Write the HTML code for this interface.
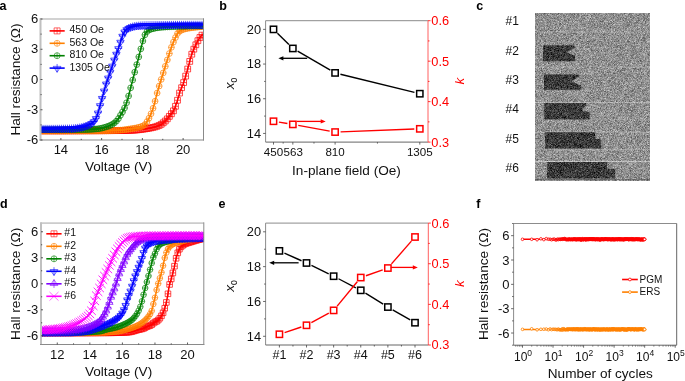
<!DOCTYPE html>
<html><head><meta charset="utf-8"><style>
html,body{margin:0;padding:0;background:#fff;width:685px;height:381px;overflow:hidden}
svg{display:block;filter:blur(0.35px)}
text{font-family:"Liberation Sans", sans-serif}
</style></head><body>
<svg width="685" height="381" viewBox="0 0 685 381" font-family='"Liberation Sans", sans-serif'>
<rect width="685" height="381" fill="#fff"/>
<text x="-0.5" y="9.7" font-size="12.5" text-anchor="start" fill="#000" font-weight="bold" font-style="normal" >a</text>
<defs><clipPath id="ca"><rect x="40.5" y="19.0" width="163" height="121"/></clipPath></defs>
<g clip-path="url(#ca)">
<path d="M38.1 127.9h5.8v5.8h-5.8zM41 127.9v5.8M38.1 130.8h5.8M40.14 127.9h5.8v5.8h-5.8zM43.04 127.9v5.8M40.14 130.8h5.8M42.18 127.9h5.8v5.8h-5.8zM45.08 127.9v5.8M42.18 130.8h5.8M44.21 127.9h5.8v5.8h-5.8zM47.11 127.9v5.8M44.21 130.8h5.8M46.25 127.9h5.8v5.8h-5.8zM49.15 127.9v5.8M46.25 130.8h5.8M48.29 127.9h5.8v5.8h-5.8zM51.19 127.9v5.8M48.29 130.8h5.8M50.33 127.9h5.8v5.8h-5.8zM53.23 127.9v5.8M50.33 130.8h5.8M52.36 127.9h5.8v5.8h-5.8zM55.26 127.9v5.8M52.36 130.8h5.8M54.4 127.89h5.8v5.8h-5.8zM57.3 127.89v5.8M54.4 130.79h5.8M56.44 127.89h5.8v5.8h-5.8zM59.34 127.89v5.8M56.44 130.79h5.8M58.48 127.89h5.8v5.8h-5.8zM61.38 127.89v5.8M58.48 130.79h5.8M60.51 127.89h5.8v5.8h-5.8zM63.41 127.89v5.8M60.51 130.79h5.8M62.55 127.89h5.8v5.8h-5.8zM65.45 127.89v5.8M62.55 130.79h5.8M64.59 127.88h5.8v5.8h-5.8zM67.49 127.88v5.8M64.59 130.78h5.8M66.63 127.88h5.8v5.8h-5.8zM69.53 127.88v5.8M66.63 130.78h5.8M68.66 127.88h5.8v5.8h-5.8zM71.56 127.88v5.8M68.66 130.78h5.8M70.7 127.87h5.8v5.8h-5.8zM73.6 127.87v5.8M70.7 130.77h5.8M72.74 127.87h5.8v5.8h-5.8zM75.64 127.87v5.8M72.74 130.77h5.8M74.78 127.86h5.8v5.8h-5.8zM77.68 127.86v5.8M74.78 130.76h5.8M76.81 127.86h5.8v5.8h-5.8zM79.71 127.86v5.8M76.81 130.76h5.8M78.85 127.85h5.8v5.8h-5.8zM81.75 127.85v5.8M78.85 130.75h5.8M80.89 127.85h5.8v5.8h-5.8zM83.79 127.85v5.8M80.89 130.75h5.8M82.93 127.84h5.8v5.8h-5.8zM85.83 127.84v5.8M82.93 130.74h5.8M84.96 127.84h5.8v5.8h-5.8zM87.86 127.84v5.8M84.96 130.74h5.8M87 127.83h5.8v5.8h-5.8zM89.9 127.83v5.8M87 130.73h5.8M89.04 127.83h5.8v5.8h-5.8zM91.94 127.83v5.8M89.04 130.73h5.8M91.08 127.82h5.8v5.8h-5.8zM93.98 127.82v5.8M91.08 130.72h5.8M93.11 127.81h5.8v5.8h-5.8zM96.01 127.81v5.8M93.11 130.71h5.8M95.15 127.8h5.8v5.8h-5.8zM98.05 127.8v5.8M95.15 130.7h5.8M97.19 127.8h5.8v5.8h-5.8zM100.09 127.8v5.8M97.19 130.7h5.8M99.23 127.79h5.8v5.8h-5.8zM102.13 127.79v5.8M99.23 130.69h5.8M101.26 127.78h5.8v5.8h-5.8zM104.16 127.78v5.8M101.26 130.68h5.8M103.3 127.77h5.8v5.8h-5.8zM106.2 127.77v5.8M103.3 130.67h5.8M105.34 127.76h5.8v5.8h-5.8zM108.24 127.76v5.8M105.34 130.66h5.8M107.38 127.75h5.8v5.8h-5.8zM110.28 127.75v5.8M107.38 130.65h5.8M109.41 127.74h5.8v5.8h-5.8zM112.31 127.74v5.8M109.41 130.64h5.8M111.45 127.73h5.8v5.8h-5.8zM114.35 127.73v5.8M111.45 130.63h5.8M113.49 127.72h5.8v5.8h-5.8zM116.39 127.72v5.8M113.49 130.62h5.8M115.53 127.71h5.8v5.8h-5.8zM118.43 127.71v5.8M115.53 130.61h5.8M117.56 127.7h5.8v5.8h-5.8zM120.46 127.7v5.8M117.56 130.6h5.8M119.6 127.67h5.8v5.8h-5.8zM122.5 127.67v5.8M119.6 130.57h5.8M121.64 127.63h5.8v5.8h-5.8zM124.54 127.63v5.8M121.64 130.53h5.8M123.68 127.57h5.8v5.8h-5.8zM126.58 127.57v5.8M123.68 130.47h5.8M125.71 127.5h5.8v5.8h-5.8zM128.61 127.5v5.8M125.71 130.4h5.8M127.75 127.41h5.8v5.8h-5.8zM130.65 127.41v5.8M127.75 130.31h5.8M129.79 127.32h5.8v5.8h-5.8zM132.69 127.32v5.8M129.79 130.22h5.8M131.83 127.2h5.8v5.8h-5.8zM134.73 127.2v5.8M131.83 130.1h5.8M133.86 127.03h5.8v5.8h-5.8zM136.76 127.03v5.8M133.86 129.93h5.8M135.9 126.81h5.8v5.8h-5.8zM138.8 126.81v5.8M135.9 129.71h5.8M137.94 126.56h5.8v5.8h-5.8zM140.84 126.56v5.8M137.94 129.46h5.8M139.98 126.3h5.8v5.8h-5.8zM142.88 126.3v5.8M139.98 129.2h5.8M142.01 126.02h5.8v5.8h-5.8zM144.91 126.02v5.8M142.01 128.92h5.8M144.05 125.71h5.8v5.8h-5.8zM146.95 125.71v5.8M144.05 128.61h5.8M146.09 125.35h5.8v5.8h-5.8zM148.99 125.35v5.8M146.09 128.25h5.8M148.13 124.96h5.8v5.8h-5.8zM151.03 124.96v5.8M148.13 127.86h5.8M150.16 124.5h5.8v5.8h-5.8zM153.06 124.5v5.8M150.16 127.4h5.8M152.2 123.99h5.8v5.8h-5.8zM155.1 123.99v5.8M152.2 126.89h5.8M154.24 123.35h5.8v5.8h-5.8zM157.14 123.35v5.8M154.24 126.25h5.8M156.28 122.55h5.8v5.8h-5.8zM159.18 122.55v5.8M156.28 125.45h5.8M158.31 121.43h5.8v5.8h-5.8zM161.21 121.43v5.8M158.31 124.33h5.8M160.35 119.9h5.8v5.8h-5.8zM163.25 119.9v5.8M160.35 122.8h5.8M162.39 118.11h5.8v5.8h-5.8zM165.29 118.11v5.8M162.39 121.01h5.8M164.43 115.97h5.8v5.8h-5.8zM167.33 115.97v5.8M164.43 118.87h5.8M166.46 113.46h5.8v5.8h-5.8zM169.36 113.46v5.8M166.46 116.36h5.8M168.5 110.89h5.8v5.8h-5.8zM171.4 110.89v5.8M168.5 113.79h5.8M170.54 107.93h5.8v5.8h-5.8zM173.44 107.93v5.8M170.54 110.83h5.8M172.58 103.41h5.8v5.8h-5.8zM175.48 103.41v5.8M172.58 106.31h5.8M174.61 97.37h5.8v5.8h-5.8zM177.51 97.37v5.8M174.61 100.27h5.8M176.65 90.16h5.8v5.8h-5.8zM179.55 90.16v5.8M176.65 93.06h5.8M178.69 84.82h5.8v5.8h-5.8zM181.59 84.82v5.8M178.69 87.72h5.8M180.73 79.68h5.8v5.8h-5.8zM183.63 79.68v5.8M180.73 82.58h5.8M182.76 73.22h5.8v5.8h-5.8zM185.66 73.22v5.8M182.76 76.12h5.8M184.8 66.12h5.8v5.8h-5.8zM187.7 66.12v5.8M184.8 69.02h5.8M186.84 58.5h5.8v5.8h-5.8zM189.74 58.5v5.8M186.84 61.4h5.8M188.88 51.31h5.8v5.8h-5.8zM191.78 51.31v5.8M188.88 54.21h5.8M190.91 46.29h5.8v5.8h-5.8zM193.81 46.29v5.8M190.91 49.19h5.8M192.95 41.87h5.8v5.8h-5.8zM195.85 41.87v5.8M192.95 44.77h5.8M194.99 37.79h5.8v5.8h-5.8zM197.89 37.79v5.8M194.99 40.69h5.8M197.03 34.56h5.8v5.8h-5.8zM199.93 34.56v5.8M197.03 37.46h5.8M199.06 32.23h5.8v5.8h-5.8zM201.96 32.23v5.8M199.06 35.13h5.8" fill="none" stroke="#ff0000" stroke-width="0.7" opacity="1"/>
<path d="M41 130.8 L42.02 130.8 L43.04 130.8 L44.07 130.8 L45.09 130.8 L46.11 130.8 L47.13 130.8 L48.15 130.8 L49.18 130.8 L50.2 130.8 L51.22 130.8 L52.24 130.8 L53.26 130.8 L54.29 130.8 L55.31 130.8 L56.33 130.79 L57.35 130.79 L58.37 130.79 L59.4 130.79 L60.42 130.79 L61.44 130.79 L62.46 130.79 L63.48 130.79 L64.51 130.79 L65.53 130.78 L66.55 130.78 L67.57 130.78 L68.59 130.78 L69.62 130.78 L70.64 130.78 L71.66 130.78 L72.68 130.77 L73.7 130.77 L74.73 130.77 L75.75 130.77 L76.77 130.77 L77.79 130.76 L78.81 130.76 L79.84 130.76 L80.86 130.76 L81.88 130.75 L82.9 130.75 L83.92 130.75 L84.95 130.75 L85.97 130.74 L86.99 130.74 L88.01 130.74 L89.03 130.74 L90.06 130.73 L91.08 130.73 L92.1 130.73 L93.12 130.72 L94.14 130.72 L95.17 130.72 L96.19 130.71 L97.21 130.71 L98.23 130.7 L99.25 130.7 L100.28 130.7 L101.3 130.69 L102.32 130.69 L103.34 130.68 L104.36 130.68 L105.39 130.67 L106.41 130.67 L107.43 130.67 L108.45 130.66 L109.47 130.66 L110.5 130.65 L111.52 130.65 L112.54 130.64 L113.56 130.64 L114.58 130.63 L115.61 130.62 L116.63 130.62 L117.65 130.61 L118.67 130.61 L119.69 130.6 L120.72 130.59 L121.74 130.58 L122.76 130.57 L123.78 130.55 L124.81 130.52 L125.83 130.49 L126.85 130.46 L127.87 130.42 L128.89 130.39 L129.92 130.34 L130.94 130.3 L131.96 130.25 L132.98 130.21 L134 130.15 L135.03 130.08 L136.05 129.99 L137.07 129.9 L138.09 129.79 L139.11 129.67 L140.14 129.55 L141.16 129.42 L142.18 129.29 L143.2 129.15 L144.22 129.02 L145.25 128.87 L146.27 128.72 L147.29 128.55 L148.31 128.38 L149.33 128.19 L150.36 127.99 L151.38 127.78 L152.4 127.56 L153.42 127.32 L154.44 127.06 L155.47 126.78 L156.49 126.47 L157.51 126.12 L158.53 125.72 L159.55 125.28 L160.58 124.73 L161.6 124.07 L162.62 123.31 L163.64 122.47 L164.66 121.58 L165.69 120.64 L166.71 119.57 L167.73 118.39 L168.75 117.13 L169.77 115.83 L170.8 114.55 L171.82 113.25 L172.84 111.79 L173.86 110.07 L174.88 107.85 L175.91 105.11 L176.93 102.06 L177.95 98.87 L178.97 95.15 L179.99 91.6 L181.02 88.97 L182.04 86.74 L183.06 84.2 L184.08 81.21 L185.1 77.96 L186.13 74.58 L187.15 71.02 L188.17 67.3 L189.19 63.53 L190.21 59.52 L191.24 55.82 L192.26 52.9 L193.28 50.39 L194.3 48.11 L195.32 45.89 L196.35 43.72 L197.37 41.67 L198.39 39.8 L199.41 38.17 L200.43 36.81 L201.46 35.64 L202.48 34.63 L203.5 33.8" fill="none" stroke="#ff0000" stroke-width="1.5"/>
<path d="M38.1 131.1a2.9 2.9 0 1 0 5.8 0a2.9 2.9 0 1 0 -5.8 0M41 128.2v5.8M38.1 131.1h5.8M40.14 131.1a2.9 2.9 0 1 0 5.8 0a2.9 2.9 0 1 0 -5.8 0M43.04 128.2v5.8M40.14 131.1h5.8M42.18 131.1a2.9 2.9 0 1 0 5.8 0a2.9 2.9 0 1 0 -5.8 0M45.08 128.2v5.8M42.18 131.1h5.8M44.21 131.1a2.9 2.9 0 1 0 5.8 0a2.9 2.9 0 1 0 -5.8 0M47.11 128.2v5.8M44.21 131.1h5.8M46.25 131.1a2.9 2.9 0 1 0 5.8 0a2.9 2.9 0 1 0 -5.8 0M49.15 128.2v5.8M46.25 131.1h5.8M48.29 131.09a2.9 2.9 0 1 0 5.8 0a2.9 2.9 0 1 0 -5.8 0M51.19 128.19v5.8M48.29 131.09h5.8M50.33 131.09a2.9 2.9 0 1 0 5.8 0a2.9 2.9 0 1 0 -5.8 0M53.23 128.19v5.8M50.33 131.09h5.8M52.36 131.09a2.9 2.9 0 1 0 5.8 0a2.9 2.9 0 1 0 -5.8 0M55.26 128.19v5.8M52.36 131.09h5.8M54.4 131.09a2.9 2.9 0 1 0 5.8 0a2.9 2.9 0 1 0 -5.8 0M57.3 128.19v5.8M54.4 131.09h5.8M56.44 131.08a2.9 2.9 0 1 0 5.8 0a2.9 2.9 0 1 0 -5.8 0M59.34 128.18v5.8M56.44 131.08h5.8M58.48 131.08a2.9 2.9 0 1 0 5.8 0a2.9 2.9 0 1 0 -5.8 0M61.38 128.18v5.8M58.48 131.08h5.8M60.51 131.07a2.9 2.9 0 1 0 5.8 0a2.9 2.9 0 1 0 -5.8 0M63.41 128.17v5.8M60.51 131.07h5.8M62.55 131.07a2.9 2.9 0 1 0 5.8 0a2.9 2.9 0 1 0 -5.8 0M65.45 128.17v5.8M62.55 131.07h5.8M64.59 131.06a2.9 2.9 0 1 0 5.8 0a2.9 2.9 0 1 0 -5.8 0M67.49 128.16v5.8M64.59 131.06h5.8M66.63 131.06a2.9 2.9 0 1 0 5.8 0a2.9 2.9 0 1 0 -5.8 0M69.53 128.16v5.8M66.63 131.06h5.8M68.66 131.05a2.9 2.9 0 1 0 5.8 0a2.9 2.9 0 1 0 -5.8 0M71.56 128.15v5.8M68.66 131.05h5.8M70.7 131.04a2.9 2.9 0 1 0 5.8 0a2.9 2.9 0 1 0 -5.8 0M73.6 128.14v5.8M70.7 131.04h5.8M72.74 131.03a2.9 2.9 0 1 0 5.8 0a2.9 2.9 0 1 0 -5.8 0M75.64 128.13v5.8M72.74 131.03h5.8M74.78 131.03a2.9 2.9 0 1 0 5.8 0a2.9 2.9 0 1 0 -5.8 0M77.68 128.13v5.8M74.78 131.03h5.8M76.81 131.02a2.9 2.9 0 1 0 5.8 0a2.9 2.9 0 1 0 -5.8 0M79.71 128.12v5.8M76.81 131.02h5.8M78.85 131.01a2.9 2.9 0 1 0 5.8 0a2.9 2.9 0 1 0 -5.8 0M81.75 128.11v5.8M78.85 131.01h5.8M80.89 131a2.9 2.9 0 1 0 5.8 0a2.9 2.9 0 1 0 -5.8 0M83.79 128.1v5.8M80.89 131h5.8M82.93 130.99a2.9 2.9 0 1 0 5.8 0a2.9 2.9 0 1 0 -5.8 0M85.83 128.09v5.8M82.93 130.99h5.8M84.96 130.98a2.9 2.9 0 1 0 5.8 0a2.9 2.9 0 1 0 -5.8 0M87.86 128.08v5.8M84.96 130.98h5.8M87 130.97a2.9 2.9 0 1 0 5.8 0a2.9 2.9 0 1 0 -5.8 0M89.9 128.07v5.8M87 130.97h5.8M89.04 130.95a2.9 2.9 0 1 0 5.8 0a2.9 2.9 0 1 0 -5.8 0M91.94 128.05v5.8M89.04 130.95h5.8M91.08 130.94a2.9 2.9 0 1 0 5.8 0a2.9 2.9 0 1 0 -5.8 0M93.98 128.04v5.8M91.08 130.94h5.8M93.11 130.93a2.9 2.9 0 1 0 5.8 0a2.9 2.9 0 1 0 -5.8 0M96.01 128.03v5.8M93.11 130.93h5.8M95.15 130.91a2.9 2.9 0 1 0 5.8 0a2.9 2.9 0 1 0 -5.8 0M98.05 128.01v5.8M95.15 130.91h5.8M97.19 130.9a2.9 2.9 0 1 0 5.8 0a2.9 2.9 0 1 0 -5.8 0M100.09 128v5.8M97.19 130.9h5.8M99.23 130.88a2.9 2.9 0 1 0 5.8 0a2.9 2.9 0 1 0 -5.8 0M102.13 127.98v5.8M99.23 130.88h5.8M101.26 130.84a2.9 2.9 0 1 0 5.8 0a2.9 2.9 0 1 0 -5.8 0M104.16 127.94v5.8M101.26 130.84h5.8M103.3 130.8a2.9 2.9 0 1 0 5.8 0a2.9 2.9 0 1 0 -5.8 0M106.2 127.9v5.8M103.3 130.8h5.8M105.34 130.74a2.9 2.9 0 1 0 5.8 0a2.9 2.9 0 1 0 -5.8 0M108.24 127.84v5.8M105.34 130.74h5.8M107.38 130.67a2.9 2.9 0 1 0 5.8 0a2.9 2.9 0 1 0 -5.8 0M110.28 127.77v5.8M107.38 130.67h5.8M109.41 130.59a2.9 2.9 0 1 0 5.8 0a2.9 2.9 0 1 0 -5.8 0M112.31 127.69v5.8M109.41 130.59h5.8M111.45 130.5a2.9 2.9 0 1 0 5.8 0a2.9 2.9 0 1 0 -5.8 0M114.35 127.6v5.8M111.45 130.5h5.8M113.49 130.4a2.9 2.9 0 1 0 5.8 0a2.9 2.9 0 1 0 -5.8 0M116.39 127.5v5.8M113.49 130.4h5.8M115.53 130.29a2.9 2.9 0 1 0 5.8 0a2.9 2.9 0 1 0 -5.8 0M118.43 127.39v5.8M115.53 130.29h5.8M117.56 130.17a2.9 2.9 0 1 0 5.8 0a2.9 2.9 0 1 0 -5.8 0M120.46 127.27v5.8M117.56 130.17h5.8M119.6 129.98a2.9 2.9 0 1 0 5.8 0a2.9 2.9 0 1 0 -5.8 0M122.5 127.08v5.8M119.6 129.98h5.8M121.64 129.72a2.9 2.9 0 1 0 5.8 0a2.9 2.9 0 1 0 -5.8 0M124.54 126.82v5.8M121.64 129.72h5.8M123.68 129.42a2.9 2.9 0 1 0 5.8 0a2.9 2.9 0 1 0 -5.8 0M126.58 126.52v5.8M123.68 129.42h5.8M125.71 129.1a2.9 2.9 0 1 0 5.8 0a2.9 2.9 0 1 0 -5.8 0M128.61 126.2v5.8M125.71 129.1h5.8M127.75 128.81a2.9 2.9 0 1 0 5.8 0a2.9 2.9 0 1 0 -5.8 0M130.65 125.91v5.8M127.75 128.81h5.8M129.79 128.52a2.9 2.9 0 1 0 5.8 0a2.9 2.9 0 1 0 -5.8 0M132.69 125.62v5.8M129.79 128.52h5.8M131.83 128.19a2.9 2.9 0 1 0 5.8 0a2.9 2.9 0 1 0 -5.8 0M134.73 125.29v5.8M131.83 128.19h5.8M133.86 127.79a2.9 2.9 0 1 0 5.8 0a2.9 2.9 0 1 0 -5.8 0M136.76 124.89v5.8M133.86 127.79h5.8M135.9 127.31a2.9 2.9 0 1 0 5.8 0a2.9 2.9 0 1 0 -5.8 0M138.8 124.41v5.8M135.9 127.31h5.8M137.94 126.72a2.9 2.9 0 1 0 5.8 0a2.9 2.9 0 1 0 -5.8 0M140.84 123.82v5.8M137.94 126.72h5.8M139.98 125.96a2.9 2.9 0 1 0 5.8 0a2.9 2.9 0 1 0 -5.8 0M142.88 123.06v5.8M139.98 125.96h5.8M142.01 124.72a2.9 2.9 0 1 0 5.8 0a2.9 2.9 0 1 0 -5.8 0M144.91 121.82v5.8M142.01 124.72h5.8M144.05 121.78a2.9 2.9 0 1 0 5.8 0a2.9 2.9 0 1 0 -5.8 0M146.95 118.88v5.8M144.05 121.78h5.8M146.09 118.19a2.9 2.9 0 1 0 5.8 0a2.9 2.9 0 1 0 -5.8 0M148.99 115.29v5.8M146.09 118.19h5.8M148.13 113.77a2.9 2.9 0 1 0 5.8 0a2.9 2.9 0 1 0 -5.8 0M151.03 110.87v5.8M148.13 113.77h5.8M150.16 108.27a2.9 2.9 0 1 0 5.8 0a2.9 2.9 0 1 0 -5.8 0M153.06 105.37v5.8M150.16 108.27h5.8M152.2 101.18a2.9 2.9 0 1 0 5.8 0a2.9 2.9 0 1 0 -5.8 0M155.1 98.28v5.8M152.2 101.18h5.8M154.24 93.04a2.9 2.9 0 1 0 5.8 0a2.9 2.9 0 1 0 -5.8 0M157.14 90.14v5.8M154.24 93.04h5.8M156.28 86.08a2.9 2.9 0 1 0 5.8 0a2.9 2.9 0 1 0 -5.8 0M159.18 83.18v5.8M156.28 86.08h5.8M158.31 79.44a2.9 2.9 0 1 0 5.8 0a2.9 2.9 0 1 0 -5.8 0M161.21 76.54v5.8M158.31 79.44h5.8M160.35 72.9a2.9 2.9 0 1 0 5.8 0a2.9 2.9 0 1 0 -5.8 0M163.25 70v5.8M160.35 72.9h5.8M162.39 66.31a2.9 2.9 0 1 0 5.8 0a2.9 2.9 0 1 0 -5.8 0M165.29 63.41v5.8M162.39 66.31h5.8M164.43 59.89a2.9 2.9 0 1 0 5.8 0a2.9 2.9 0 1 0 -5.8 0M167.33 56.99v5.8M164.43 59.89h5.8M166.46 53.54a2.9 2.9 0 1 0 5.8 0a2.9 2.9 0 1 0 -5.8 0M169.36 50.64v5.8M166.46 53.54h5.8M168.5 47.35a2.9 2.9 0 1 0 5.8 0a2.9 2.9 0 1 0 -5.8 0M171.4 44.45v5.8M168.5 47.35h5.8M170.54 42.1a2.9 2.9 0 1 0 5.8 0a2.9 2.9 0 1 0 -5.8 0M173.44 39.2v5.8M170.54 42.1h5.8M172.58 37.53a2.9 2.9 0 1 0 5.8 0a2.9 2.9 0 1 0 -5.8 0M175.48 34.63v5.8M172.58 37.53h5.8M174.61 33.48a2.9 2.9 0 1 0 5.8 0a2.9 2.9 0 1 0 -5.8 0M177.51 30.58v5.8M174.61 33.48h5.8M176.65 31.35a2.9 2.9 0 1 0 5.8 0a2.9 2.9 0 1 0 -5.8 0M179.55 28.45v5.8M176.65 31.35h5.8M178.69 30.09a2.9 2.9 0 1 0 5.8 0a2.9 2.9 0 1 0 -5.8 0M181.59 27.19v5.8M178.69 30.09h5.8M180.73 29.34a2.9 2.9 0 1 0 5.8 0a2.9 2.9 0 1 0 -5.8 0M183.63 26.44v5.8M180.73 29.34h5.8M182.76 28.79a2.9 2.9 0 1 0 5.8 0a2.9 2.9 0 1 0 -5.8 0M185.66 25.89v5.8M182.76 28.79h5.8M184.8 28.37a2.9 2.9 0 1 0 5.8 0a2.9 2.9 0 1 0 -5.8 0M187.7 25.47v5.8M184.8 28.37h5.8M186.84 28.03a2.9 2.9 0 1 0 5.8 0a2.9 2.9 0 1 0 -5.8 0M189.74 25.13v5.8M186.84 28.03h5.8M188.88 27.74a2.9 2.9 0 1 0 5.8 0a2.9 2.9 0 1 0 -5.8 0M191.78 24.84v5.8M188.88 27.74h5.8M190.91 27.49a2.9 2.9 0 1 0 5.8 0a2.9 2.9 0 1 0 -5.8 0M193.81 24.59v5.8M190.91 27.49h5.8M192.95 27.27a2.9 2.9 0 1 0 5.8 0a2.9 2.9 0 1 0 -5.8 0M195.85 24.37v5.8M192.95 27.27h5.8M194.99 27.06a2.9 2.9 0 1 0 5.8 0a2.9 2.9 0 1 0 -5.8 0M197.89 24.16v5.8M194.99 27.06h5.8M197.03 26.87a2.9 2.9 0 1 0 5.8 0a2.9 2.9 0 1 0 -5.8 0M199.93 23.97v5.8M197.03 26.87h5.8M199.06 26.71a2.9 2.9 0 1 0 5.8 0a2.9 2.9 0 1 0 -5.8 0M201.96 23.81v5.8M199.06 26.71h5.8" fill="none" stroke="#ff8000" stroke-width="0.7" opacity="1"/>
<path d="M41 131.1 L42.02 131.1 L43.04 131.1 L44.07 131.1 L45.09 131.1 L46.11 131.1 L47.13 131.1 L48.15 131.1 L49.18 131.1 L50.2 131.1 L51.22 131.09 L52.24 131.09 L53.26 131.09 L54.29 131.09 L55.31 131.09 L56.33 131.09 L57.35 131.09 L58.37 131.08 L59.4 131.08 L60.42 131.08 L61.44 131.08 L62.46 131.08 L63.48 131.07 L64.51 131.07 L65.53 131.07 L66.55 131.06 L67.57 131.06 L68.59 131.06 L69.62 131.06 L70.64 131.05 L71.66 131.05 L72.68 131.05 L73.7 131.04 L74.73 131.04 L75.75 131.03 L76.77 131.03 L77.79 131.03 L78.81 131.02 L79.84 131.02 L80.86 131.01 L81.88 131.01 L82.9 131 L83.92 131 L84.95 130.99 L85.97 130.99 L86.99 130.98 L88.01 130.98 L89.03 130.97 L90.06 130.96 L91.08 130.96 L92.1 130.95 L93.12 130.95 L94.14 130.94 L95.17 130.93 L96.19 130.93 L97.21 130.92 L98.23 130.91 L99.25 130.91 L100.28 130.9 L101.3 130.89 L102.32 130.87 L103.34 130.86 L104.36 130.84 L105.39 130.82 L106.41 130.79 L107.43 130.76 L108.45 130.73 L109.47 130.7 L110.5 130.66 L111.52 130.62 L112.54 130.58 L113.56 130.54 L114.58 130.49 L115.61 130.44 L116.63 130.39 L117.65 130.33 L118.67 130.28 L119.69 130.22 L120.72 130.15 L121.74 130.06 L122.76 129.95 L123.78 129.82 L124.81 129.68 L125.83 129.53 L126.85 129.38 L127.87 129.22 L128.89 129.06 L129.92 128.91 L130.94 128.77 L131.96 128.62 L132.98 128.47 L134 128.31 L135.03 128.13 L136.05 127.93 L137.07 127.72 L138.09 127.49 L139.11 127.23 L140.14 126.94 L141.16 126.62 L142.18 126.25 L143.2 125.81 L144.22 125.23 L145.25 124.37 L146.27 122.91 L147.29 121.22 L148.31 119.46 L149.33 117.5 L150.36 115.33 L151.38 112.9 L152.4 110.19 L153.42 107.18 L154.44 103.79 L155.47 99.63 L156.49 95.42 L157.51 91.73 L158.53 88.23 L159.55 84.82 L160.58 81.48 L161.6 78.21 L162.62 74.94 L163.64 71.63 L164.66 68.32 L165.69 65.05 L166.71 61.82 L167.73 58.63 L168.75 55.46 L169.77 52.23 L170.8 49.06 L171.82 46.23 L172.84 43.58 L173.86 41.09 L174.88 38.79 L175.91 36.61 L176.93 34.5 L177.95 32.87 L178.97 31.84 L179.99 31.01 L181.02 30.37 L182.04 29.9 L183.06 29.53 L184.08 29.21 L185.1 28.93 L186.13 28.69 L187.15 28.48 L188.17 28.29 L189.19 28.11 L190.21 27.95 L191.24 27.81 L192.26 27.68 L193.28 27.55 L194.3 27.43 L195.32 27.32 L196.35 27.22 L197.37 27.11 L198.39 27.01 L199.41 26.92 L200.43 26.83 L201.46 26.75 L202.48 26.67 L203.5 26.6" fill="none" stroke="#ff8000" stroke-width="1.5"/>
<path d="M38.1 129.8a2.9 2.9 0 1 0 5.8 0a2.9 2.9 0 1 0 -5.8 0M41 126.9v5.8M38.1 129.8h5.8M40.14 129.8a2.9 2.9 0 1 0 5.8 0a2.9 2.9 0 1 0 -5.8 0M43.04 126.9v5.8M40.14 129.8h5.8M42.18 129.8a2.9 2.9 0 1 0 5.8 0a2.9 2.9 0 1 0 -5.8 0M45.08 126.9v5.8M42.18 129.8h5.8M44.21 129.8a2.9 2.9 0 1 0 5.8 0a2.9 2.9 0 1 0 -5.8 0M47.11 126.9v5.8M44.21 129.8h5.8M46.25 129.79a2.9 2.9 0 1 0 5.8 0a2.9 2.9 0 1 0 -5.8 0M49.15 126.89v5.8M46.25 129.79h5.8M48.29 129.79a2.9 2.9 0 1 0 5.8 0a2.9 2.9 0 1 0 -5.8 0M51.19 126.89v5.8M48.29 129.79h5.8M50.33 129.79a2.9 2.9 0 1 0 5.8 0a2.9 2.9 0 1 0 -5.8 0M53.23 126.89v5.8M50.33 129.79h5.8M52.36 129.78a2.9 2.9 0 1 0 5.8 0a2.9 2.9 0 1 0 -5.8 0M55.26 126.88v5.8M52.36 129.78h5.8M54.4 129.78a2.9 2.9 0 1 0 5.8 0a2.9 2.9 0 1 0 -5.8 0M57.3 126.88v5.8M54.4 129.78h5.8M56.44 129.77a2.9 2.9 0 1 0 5.8 0a2.9 2.9 0 1 0 -5.8 0M59.34 126.87v5.8M56.44 129.77h5.8M58.48 129.76a2.9 2.9 0 1 0 5.8 0a2.9 2.9 0 1 0 -5.8 0M61.38 126.86v5.8M58.48 129.76h5.8M60.51 129.75a2.9 2.9 0 1 0 5.8 0a2.9 2.9 0 1 0 -5.8 0M63.41 126.85v5.8M60.51 129.75h5.8M62.55 129.74a2.9 2.9 0 1 0 5.8 0a2.9 2.9 0 1 0 -5.8 0M65.45 126.84v5.8M62.55 129.74h5.8M64.59 129.73a2.9 2.9 0 1 0 5.8 0a2.9 2.9 0 1 0 -5.8 0M67.49 126.83v5.8M64.59 129.73h5.8M66.63 129.72a2.9 2.9 0 1 0 5.8 0a2.9 2.9 0 1 0 -5.8 0M69.53 126.82v5.8M66.63 129.72h5.8M68.66 129.71a2.9 2.9 0 1 0 5.8 0a2.9 2.9 0 1 0 -5.8 0M71.56 126.81v5.8M68.66 129.71h5.8M70.7 129.7a2.9 2.9 0 1 0 5.8 0a2.9 2.9 0 1 0 -5.8 0M73.6 126.8v5.8M70.7 129.7h5.8M72.74 129.68a2.9 2.9 0 1 0 5.8 0a2.9 2.9 0 1 0 -5.8 0M75.64 126.78v5.8M72.74 129.68h5.8M74.78 129.67a2.9 2.9 0 1 0 5.8 0a2.9 2.9 0 1 0 -5.8 0M77.68 126.77v5.8M74.78 129.67h5.8M76.81 129.65a2.9 2.9 0 1 0 5.8 0a2.9 2.9 0 1 0 -5.8 0M79.71 126.75v5.8M76.81 129.65h5.8M78.85 129.63a2.9 2.9 0 1 0 5.8 0a2.9 2.9 0 1 0 -5.8 0M81.75 126.73v5.8M78.85 129.63h5.8M80.89 129.61a2.9 2.9 0 1 0 5.8 0a2.9 2.9 0 1 0 -5.8 0M83.79 126.71v5.8M80.89 129.61h5.8M82.93 129.59a2.9 2.9 0 1 0 5.8 0a2.9 2.9 0 1 0 -5.8 0M85.83 126.69v5.8M82.93 129.59h5.8M84.96 129.53a2.9 2.9 0 1 0 5.8 0a2.9 2.9 0 1 0 -5.8 0M87.86 126.63v5.8M84.96 129.53h5.8M87 129.43a2.9 2.9 0 1 0 5.8 0a2.9 2.9 0 1 0 -5.8 0M89.9 126.53v5.8M87 129.43h5.8M89.04 129.31a2.9 2.9 0 1 0 5.8 0a2.9 2.9 0 1 0 -5.8 0M91.94 126.41v5.8M89.04 129.31h5.8M91.08 129.16a2.9 2.9 0 1 0 5.8 0a2.9 2.9 0 1 0 -5.8 0M93.98 126.26v5.8M91.08 129.16h5.8M93.11 129a2.9 2.9 0 1 0 5.8 0a2.9 2.9 0 1 0 -5.8 0M96.01 126.1v5.8M93.11 129h5.8M95.15 128.79a2.9 2.9 0 1 0 5.8 0a2.9 2.9 0 1 0 -5.8 0M98.05 125.89v5.8M95.15 128.79h5.8M97.19 128.49a2.9 2.9 0 1 0 5.8 0a2.9 2.9 0 1 0 -5.8 0M100.09 125.59v5.8M97.19 128.49h5.8M99.23 128.06a2.9 2.9 0 1 0 5.8 0a2.9 2.9 0 1 0 -5.8 0M102.13 125.16v5.8M99.23 128.06h5.8M101.26 127.51a2.9 2.9 0 1 0 5.8 0a2.9 2.9 0 1 0 -5.8 0M104.16 124.61v5.8M101.26 127.51h5.8M103.3 126.89a2.9 2.9 0 1 0 5.8 0a2.9 2.9 0 1 0 -5.8 0M106.2 123.99v5.8M103.3 126.89h5.8M105.34 126.21a2.9 2.9 0 1 0 5.8 0a2.9 2.9 0 1 0 -5.8 0M108.24 123.31v5.8M105.34 126.21h5.8M107.38 125.38a2.9 2.9 0 1 0 5.8 0a2.9 2.9 0 1 0 -5.8 0M110.28 122.48v5.8M107.38 125.38h5.8M109.41 124.35a2.9 2.9 0 1 0 5.8 0a2.9 2.9 0 1 0 -5.8 0M112.31 121.45v5.8M109.41 124.35h5.8M111.45 122.93a2.9 2.9 0 1 0 5.8 0a2.9 2.9 0 1 0 -5.8 0M114.35 120.03v5.8M111.45 122.93h5.8M113.49 121.12a2.9 2.9 0 1 0 5.8 0a2.9 2.9 0 1 0 -5.8 0M116.39 118.22v5.8M113.49 121.12h5.8M115.53 118.6a2.9 2.9 0 1 0 5.8 0a2.9 2.9 0 1 0 -5.8 0M118.43 115.7v5.8M115.53 118.6h5.8M117.56 115.23a2.9 2.9 0 1 0 5.8 0a2.9 2.9 0 1 0 -5.8 0M120.46 112.33v5.8M117.56 115.23h5.8M119.6 111.98a2.9 2.9 0 1 0 5.8 0a2.9 2.9 0 1 0 -5.8 0M122.5 109.08v5.8M119.6 111.98h5.8M121.64 108a2.9 2.9 0 1 0 5.8 0a2.9 2.9 0 1 0 -5.8 0M124.54 105.1v5.8M121.64 108h5.8M123.68 102.76a2.9 2.9 0 1 0 5.8 0a2.9 2.9 0 1 0 -5.8 0M126.58 99.86v5.8M123.68 102.76h5.8M125.71 95.99a2.9 2.9 0 1 0 5.8 0a2.9 2.9 0 1 0 -5.8 0M128.61 93.09v5.8M125.71 95.99h5.8M127.75 87.88a2.9 2.9 0 1 0 5.8 0a2.9 2.9 0 1 0 -5.8 0M130.65 84.98v5.8M127.75 87.88h5.8M129.79 80.05a2.9 2.9 0 1 0 5.8 0a2.9 2.9 0 1 0 -5.8 0M132.69 77.15v5.8M129.79 80.05h5.8M131.83 72.19a2.9 2.9 0 1 0 5.8 0a2.9 2.9 0 1 0 -5.8 0M134.73 69.29v5.8M131.83 72.19h5.8M133.86 64.6a2.9 2.9 0 1 0 5.8 0a2.9 2.9 0 1 0 -5.8 0M136.76 61.7v5.8M133.86 64.6h5.8M135.9 56.91a2.9 2.9 0 1 0 5.8 0a2.9 2.9 0 1 0 -5.8 0M138.8 54.01v5.8M135.9 56.91h5.8M137.94 48.9a2.9 2.9 0 1 0 5.8 0a2.9 2.9 0 1 0 -5.8 0M140.84 46v5.8M137.94 48.9h5.8M139.98 40.97a2.9 2.9 0 1 0 5.8 0a2.9 2.9 0 1 0 -5.8 0M142.88 38.07v5.8M139.98 40.97h5.8M142.01 34.86a2.9 2.9 0 1 0 5.8 0a2.9 2.9 0 1 0 -5.8 0M144.91 31.96v5.8M142.01 34.86h5.8M144.05 31.53a2.9 2.9 0 1 0 5.8 0a2.9 2.9 0 1 0 -5.8 0M146.95 28.63v5.8M144.05 31.53h5.8M146.09 30a2.9 2.9 0 1 0 5.8 0a2.9 2.9 0 1 0 -5.8 0M148.99 27.1v5.8M146.09 30h5.8M148.13 29.18a2.9 2.9 0 1 0 5.8 0a2.9 2.9 0 1 0 -5.8 0M151.03 26.28v5.8M148.13 29.18h5.8M150.16 28.64a2.9 2.9 0 1 0 5.8 0a2.9 2.9 0 1 0 -5.8 0M153.06 25.74v5.8M150.16 28.64h5.8M152.2 28.19a2.9 2.9 0 1 0 5.8 0a2.9 2.9 0 1 0 -5.8 0M155.1 25.29v5.8M152.2 28.19h5.8M154.24 27.81a2.9 2.9 0 1 0 5.8 0a2.9 2.9 0 1 0 -5.8 0M157.14 24.91v5.8M154.24 27.81h5.8M156.28 27.51a2.9 2.9 0 1 0 5.8 0a2.9 2.9 0 1 0 -5.8 0M159.18 24.61v5.8M156.28 27.51h5.8M158.31 27.3a2.9 2.9 0 1 0 5.8 0a2.9 2.9 0 1 0 -5.8 0M161.21 24.4v5.8M158.31 27.3h5.8M160.35 27.15a2.9 2.9 0 1 0 5.8 0a2.9 2.9 0 1 0 -5.8 0M163.25 24.25v5.8M160.35 27.15h5.8M162.39 27.01a2.9 2.9 0 1 0 5.8 0a2.9 2.9 0 1 0 -5.8 0M165.29 24.11v5.8M162.39 27.01h5.8M164.43 26.89a2.9 2.9 0 1 0 5.8 0a2.9 2.9 0 1 0 -5.8 0M167.33 23.99v5.8M164.43 26.89h5.8M166.46 26.78a2.9 2.9 0 1 0 5.8 0a2.9 2.9 0 1 0 -5.8 0M169.36 23.88v5.8M166.46 26.78h5.8M168.5 26.69a2.9 2.9 0 1 0 5.8 0a2.9 2.9 0 1 0 -5.8 0M171.4 23.79v5.8M168.5 26.69h5.8M170.54 26.6a2.9 2.9 0 1 0 5.8 0a2.9 2.9 0 1 0 -5.8 0M173.44 23.7v5.8M170.54 26.6h5.8M172.58 26.53a2.9 2.9 0 1 0 5.8 0a2.9 2.9 0 1 0 -5.8 0M175.48 23.63v5.8M172.58 26.53h5.8M174.61 26.47a2.9 2.9 0 1 0 5.8 0a2.9 2.9 0 1 0 -5.8 0M177.51 23.57v5.8M174.61 26.47h5.8M176.65 26.41a2.9 2.9 0 1 0 5.8 0a2.9 2.9 0 1 0 -5.8 0M179.55 23.51v5.8M176.65 26.41h5.8M178.69 26.36a2.9 2.9 0 1 0 5.8 0a2.9 2.9 0 1 0 -5.8 0M181.59 23.46v5.8M178.69 26.36h5.8M180.73 26.31a2.9 2.9 0 1 0 5.8 0a2.9 2.9 0 1 0 -5.8 0M183.63 23.41v5.8M180.73 26.31h5.8M182.76 26.26a2.9 2.9 0 1 0 5.8 0a2.9 2.9 0 1 0 -5.8 0M185.66 23.36v5.8M182.76 26.26h5.8M184.8 26.21a2.9 2.9 0 1 0 5.8 0a2.9 2.9 0 1 0 -5.8 0M187.7 23.31v5.8M184.8 26.21h5.8M186.84 26.17a2.9 2.9 0 1 0 5.8 0a2.9 2.9 0 1 0 -5.8 0M189.74 23.27v5.8M186.84 26.17h5.8M188.88 26.12a2.9 2.9 0 1 0 5.8 0a2.9 2.9 0 1 0 -5.8 0M191.78 23.22v5.8M188.88 26.12h5.8M190.91 26.09a2.9 2.9 0 1 0 5.8 0a2.9 2.9 0 1 0 -5.8 0M193.81 23.19v5.8M190.91 26.09h5.8M192.95 26.06a2.9 2.9 0 1 0 5.8 0a2.9 2.9 0 1 0 -5.8 0M195.85 23.16v5.8M192.95 26.06h5.8M194.99 26.03a2.9 2.9 0 1 0 5.8 0a2.9 2.9 0 1 0 -5.8 0M197.89 23.13v5.8M194.99 26.03h5.8M197.03 26.01a2.9 2.9 0 1 0 5.8 0a2.9 2.9 0 1 0 -5.8 0M199.93 23.11v5.8M197.03 26.01h5.8M199.06 26a2.9 2.9 0 1 0 5.8 0a2.9 2.9 0 1 0 -5.8 0M201.96 23.1v5.8M199.06 26h5.8" fill="none" stroke="#008000" stroke-width="0.7" opacity="1"/>
<path d="M41 129.8 L42.02 129.8 L43.04 129.8 L44.07 129.8 L45.09 129.8 L46.11 129.8 L47.13 129.8 L48.15 129.8 L49.18 129.79 L50.2 129.79 L51.22 129.79 L52.24 129.79 L53.26 129.79 L54.29 129.78 L55.31 129.78 L56.33 129.78 L57.35 129.78 L58.37 129.77 L59.4 129.77 L60.42 129.77 L61.44 129.76 L62.46 129.76 L63.48 129.75 L64.51 129.75 L65.53 129.74 L66.55 129.74 L67.57 129.73 L68.59 129.73 L69.62 129.72 L70.64 129.72 L71.66 129.71 L72.68 129.7 L73.7 129.7 L74.73 129.69 L75.75 129.68 L76.77 129.67 L77.79 129.67 L78.81 129.66 L79.84 129.65 L80.86 129.64 L81.88 129.63 L82.9 129.62 L83.92 129.61 L84.95 129.6 L85.97 129.59 L86.99 129.56 L88.01 129.52 L89.03 129.48 L90.06 129.42 L91.08 129.36 L92.1 129.3 L93.12 129.22 L94.14 129.15 L95.17 129.07 L96.19 128.98 L97.21 128.88 L98.23 128.76 L99.25 128.62 L100.28 128.45 L101.3 128.25 L102.32 128.01 L103.34 127.74 L104.36 127.45 L105.39 127.14 L106.41 126.83 L107.43 126.49 L108.45 126.13 L109.47 125.73 L110.5 125.28 L111.52 124.79 L112.54 124.21 L113.56 123.53 L114.58 122.74 L115.61 121.87 L116.63 120.86 L117.65 119.64 L118.67 118.25 L119.69 116.57 L120.72 114.81 L121.74 113.19 L122.76 111.54 L123.78 109.63 L124.81 107.38 L125.83 104.82 L126.85 101.97 L127.87 98.77 L128.89 94.86 L129.92 90.72 L130.94 86.78 L131.96 82.85 L132.98 78.92 L134 74.96 L135.03 71.04 L136.05 67.22 L137.07 63.47 L138.09 59.65 L139.11 55.68 L140.14 51.64 L141.16 47.68 L142.18 43.65 L143.2 39.8 L144.22 36.7 L145.25 34.08 L146.27 32.34 L147.29 31.19 L148.31 30.37 L149.33 29.83 L150.36 29.41 L151.38 29.07 L152.4 28.8 L153.42 28.56 L154.44 28.33 L155.47 28.12 L156.49 27.93 L157.51 27.75 L158.53 27.6 L159.55 27.46 L160.58 27.35 L161.6 27.27 L162.62 27.19 L163.64 27.12 L164.66 27.05 L165.69 26.98 L166.71 26.92 L167.73 26.86 L168.75 26.81 L169.77 26.76 L170.8 26.71 L171.82 26.67 L172.84 26.63 L173.86 26.59 L174.88 26.55 L175.91 26.52 L176.93 26.49 L177.95 26.46 L178.97 26.43 L179.99 26.4 L181.02 26.37 L182.04 26.35 L183.06 26.32 L184.08 26.3 L185.1 26.27 L186.13 26.25 L187.15 26.22 L188.17 26.2 L189.19 26.18 L190.21 26.16 L191.24 26.13 L192.26 26.12 L193.28 26.1 L194.3 26.08 L195.32 26.06 L196.35 26.05 L197.37 26.04 L198.39 26.03 L199.41 26.02 L200.43 26.01 L201.46 26 L202.48 26 L203.5 26" fill="none" stroke="#008000" stroke-width="1.5"/>
<path d="M37.29 127.22h7.42L41 132.96zM41 124.9V132.96M37.29 128.9h7.42M39.33 127.22h7.42L43.04 132.96zM43.04 124.9V132.96M39.33 128.9h7.42M41.36 127.21h7.42L45.08 132.95zM45.08 124.89V132.95M41.36 128.89h7.42M43.4 127.21h7.42L47.11 132.95zM47.11 124.89V132.95M43.4 128.89h7.42M45.44 127.2h7.42L49.15 132.94zM49.15 124.88V132.94M45.44 128.88h7.42M47.48 127.18h7.42L51.19 132.93zM51.19 124.86V132.93M47.48 128.87h7.42M49.51 127.17h7.42L53.23 132.91zM53.23 124.85V132.91M49.51 128.85h7.42M51.55 127.15h7.42L55.26 132.89zM55.26 124.83V132.89M51.55 128.83h7.42M53.59 127.13h7.42L57.3 132.87zM57.3 124.81V132.87M53.59 128.81h7.42M55.63 127.1h7.42L59.34 132.84zM59.34 124.78V132.84M55.63 128.78h7.42M57.66 127.07h7.42L61.38 132.82zM61.38 124.75V132.82M57.66 128.76h7.42M59.7 127.04h7.42L63.41 132.78zM63.41 124.72V132.78M59.7 128.72h7.42M61.74 127.01h7.42L65.45 132.75zM65.45 124.69V132.75M61.74 128.69h7.42M63.78 126.97h7.42L67.49 132.71zM67.49 124.65V132.71M63.78 128.65h7.42M65.81 126.93h7.42L69.53 132.67zM69.53 124.61V132.67M65.81 128.61h7.42M67.85 126.86h7.42L71.56 132.6zM71.56 124.54V132.6M67.85 128.54h7.42M69.89 126.71h7.42L73.6 132.45zM73.6 124.39V132.45M69.89 128.39h7.42M71.93 126.48h7.42L75.64 132.23zM75.64 124.16V132.23M71.93 128.17h7.42M73.96 126.21h7.42L77.68 131.95zM77.68 123.89V131.95M73.96 127.89h7.42M76 125.89h7.42L79.71 131.63zM79.71 123.57V131.63M76 127.57h7.42M78.04 125.53h7.42L81.75 131.28zM81.75 123.21V131.28M78.04 127.22h7.42M80.08 125.03h7.42L83.79 130.77zM83.79 122.71V130.77M80.08 126.71h7.42M82.11 124.37h7.42L85.83 130.12zM85.83 122.05V130.12M82.11 126.06h7.42M84.15 123.62h7.42L87.86 129.36zM87.86 121.3V129.36M84.15 125.3h7.42M86.19 122.72h7.42L89.9 128.46zM89.9 120.4V128.46M86.19 124.4h7.42M88.23 121.52h7.42L91.94 127.27zM91.94 119.2V127.27M88.23 123.21h7.42M90.26 119.78h7.42L93.98 125.52zM93.98 117.46V125.52M90.26 121.46h7.42M92.3 116.62h7.42L96.01 122.36zM96.01 114.3V122.36M92.3 118.3h7.42M94.34 111.05h7.42L98.05 116.79zM98.05 108.73V116.79M94.34 112.73h7.42M96.38 103.72h7.42L100.09 109.46zM100.09 101.4V109.46M96.38 105.4h7.42M98.41 96.45h7.42L102.13 102.2zM102.13 94.13V102.2M98.41 98.14h7.42M100.45 89.07h7.42L104.16 94.81zM104.16 86.75V94.81M100.45 90.75h7.42M102.49 82.05h7.42L106.2 87.79zM106.2 79.73V87.79M102.49 83.73h7.42M104.53 76.09h7.42L108.24 81.83zM108.24 73.77V81.83M104.53 77.77h7.42M106.56 70.16h7.42L110.28 75.9zM110.28 67.84V75.9M106.56 71.84h7.42M108.6 64.16h7.42L112.31 69.91zM112.31 61.84V69.91M108.6 65.85h7.42M110.64 58.12h7.42L114.35 63.86zM114.35 55.8V63.86M110.64 59.8h7.42M112.68 52.24h7.42L116.39 57.98zM116.39 49.92V57.98M112.68 53.92h7.42M114.71 46.72h7.42L118.43 52.46zM118.43 44.4V52.46M114.71 48.4h7.42M116.75 40.29h7.42L120.46 46.04zM120.46 37.97V46.04M116.75 41.98h7.42M118.79 34.28h7.42L122.5 40.02zM122.5 31.96V40.02M118.79 35.96h7.42M120.83 30.02h7.42L124.54 35.77zM124.54 27.7V35.77M120.83 31.71h7.42M122.86 27.76h7.42L126.58 33.5zM126.58 25.44V33.5M122.86 29.44h7.42M124.9 26.42h7.42L128.61 32.16zM128.61 24.1V32.16M124.9 28.1h7.42M126.94 25.56h7.42L130.65 31.31zM130.65 23.24V31.31M126.94 27.25h7.42M128.98 24.95h7.42L132.69 30.69zM132.69 22.63V30.69M128.98 26.63h7.42M131.01 24.49h7.42L134.73 30.23zM134.73 22.17V30.23M131.01 26.17h7.42M133.05 24.19h7.42L136.76 29.93zM136.76 21.87V29.93M133.05 25.87h7.42M135.09 23.98h7.42L138.8 29.72zM138.8 21.66V29.72M135.09 25.66h7.42M137.13 23.81h7.42L140.84 29.55zM140.84 21.49V29.55M137.13 25.49h7.42M139.16 23.69h7.42L142.88 29.43zM142.88 21.37V29.43M139.16 25.37h7.42M141.2 23.62h7.42L144.91 29.36zM144.91 21.3V29.36M141.2 25.3h7.42M143.24 23.58h7.42L146.95 29.32zM146.95 21.26V29.32M143.24 25.26h7.42M145.28 23.55h7.42L148.99 29.29zM148.99 21.23V29.29M145.28 25.23h7.42M147.31 23.51h7.42L151.03 29.25zM151.03 21.19V29.25M147.31 25.19h7.42M149.35 23.48h7.42L153.06 29.22zM153.06 21.16V29.22M149.35 25.16h7.42M151.39 23.45h7.42L155.1 29.19zM155.1 21.13V29.19M151.39 25.13h7.42M153.43 23.42h7.42L157.14 29.16zM157.14 21.1V29.16M153.43 25.1h7.42M155.46 23.39h7.42L159.18 29.13zM159.18 21.07V29.13M155.46 25.07h7.42M157.5 23.36h7.42L161.21 29.11zM161.21 21.04V29.11M157.5 25.05h7.42M159.54 23.34h7.42L163.25 29.08zM163.25 21.02V29.08M159.54 25.02h7.42M161.58 23.32h7.42L165.29 29.06zM165.29 21V29.06M161.58 25h7.42M163.61 23.29h7.42L167.33 29.04zM167.33 20.97V29.04M163.61 24.98h7.42M165.65 23.27h7.42L169.36 29.01zM169.36 20.95V29.01M165.65 24.95h7.42M167.69 23.25h7.42L171.4 29zM171.4 20.93V29M167.69 24.94h7.42M169.73 23.24h7.42L173.44 28.98zM173.44 20.92V28.98M169.73 24.92h7.42M171.76 23.22h7.42L175.48 28.96zM175.48 20.9V28.96M171.76 24.9h7.42M173.8 23.2h7.42L177.51 28.95zM177.51 20.88V28.95M173.8 24.89h7.42M175.84 23.19h7.42L179.55 28.93zM179.55 20.87V28.93M175.84 24.87h7.42M177.88 23.18h7.42L181.59 28.92zM181.59 20.86V28.92M177.88 24.86h7.42M179.91 23.17h7.42L183.63 28.91zM183.63 20.85V28.91M179.91 24.85h7.42M181.95 23.16h7.42L185.66 28.9zM185.66 20.84V28.9M181.95 24.84h7.42M183.99 23.15h7.42L187.7 28.89zM187.7 20.83V28.89M183.99 24.83h7.42M186.03 23.14h7.42L189.74 28.88zM189.74 20.82V28.88M186.03 24.82h7.42M188.06 23.13h7.42L191.78 28.88zM191.78 20.81V28.88M188.06 24.82h7.42M190.1 23.13h7.42L193.81 28.87zM193.81 20.81V28.87M190.1 24.81h7.42M192.14 23.12h7.42L195.85 28.87zM195.85 20.8V28.87M192.14 24.81h7.42M194.18 23.12h7.42L197.89 28.86zM197.89 20.8V28.86M194.18 24.8h7.42M196.21 23.12h7.42L199.93 28.86zM199.93 20.8V28.86M196.21 24.8h7.42M198.25 23.12h7.42L201.96 28.86zM201.96 20.8V28.86M198.25 24.8h7.42" fill="none" stroke="#0000ff" stroke-width="0.7" opacity="1"/>
<path d="M41 128.9 L42.02 128.9 L43.04 128.9 L44.07 128.9 L45.09 128.89 L46.11 128.89 L47.13 128.89 L48.15 128.88 L49.18 128.88 L50.2 128.87 L51.22 128.86 L52.24 128.86 L53.26 128.85 L54.29 128.84 L55.31 128.83 L56.33 128.82 L57.35 128.81 L58.37 128.8 L59.4 128.78 L60.42 128.77 L61.44 128.75 L62.46 128.74 L63.48 128.72 L64.51 128.71 L65.53 128.69 L66.55 128.67 L67.57 128.65 L68.59 128.63 L69.62 128.61 L70.64 128.58 L71.66 128.53 L72.68 128.47 L73.7 128.38 L74.73 128.27 L75.75 128.15 L76.77 128.02 L77.79 127.87 L78.81 127.71 L79.84 127.55 L80.86 127.38 L81.88 127.19 L82.9 126.96 L83.92 126.67 L84.95 126.35 L85.97 126 L86.99 125.63 L88.01 125.24 L89.03 124.81 L90.06 124.32 L91.08 123.76 L92.1 123.09 L93.12 122.29 L94.14 121.27 L95.17 119.95 L96.19 117.89 L97.21 115.24 L98.23 112.11 L99.25 108.44 L100.28 104.73 L101.3 101.1 L102.32 97.43 L103.34 93.76 L104.36 90.01 L105.39 86.38 L106.41 83.09 L107.43 80.07 L108.45 77.16 L109.47 74.19 L110.5 71.19 L111.52 68.18 L112.54 65.17 L113.56 62.15 L114.58 59.11 L115.61 56.12 L116.63 53.27 L117.65 50.54 L118.67 47.69 L119.69 44.49 L120.72 41.16 L121.74 38.07 L122.76 35.25 L123.78 32.9 L124.81 31.33 L125.83 30.11 L126.85 29.23 L127.87 28.53 L128.89 27.95 L129.92 27.5 L130.94 27.15 L131.96 26.84 L132.98 26.56 L134 26.31 L135.03 26.11 L136.05 25.96 L137.07 25.84 L138.09 25.73 L139.11 25.64 L140.14 25.55 L141.16 25.47 L142.18 25.41 L143.2 25.36 L144.22 25.32 L145.25 25.3 L146.27 25.28 L147.29 25.26 L148.31 25.24 L149.33 25.22 L150.36 25.2 L151.38 25.19 L152.4 25.17 L153.42 25.16 L154.44 25.14 L155.47 25.12 L156.49 25.11 L157.51 25.09 L158.53 25.08 L159.55 25.07 L160.58 25.05 L161.6 25.04 L162.62 25.03 L163.64 25.02 L164.66 25 L165.69 24.99 L166.71 24.98 L167.73 24.97 L168.75 24.96 L169.77 24.95 L170.8 24.94 L171.82 24.93 L172.84 24.92 L173.86 24.91 L174.88 24.91 L175.91 24.9 L176.93 24.89 L177.95 24.88 L178.97 24.88 L179.99 24.87 L181.02 24.86 L182.04 24.86 L183.06 24.85 L184.08 24.85 L185.1 24.84 L186.13 24.84 L187.15 24.83 L188.17 24.83 L189.19 24.83 L190.21 24.82 L191.24 24.82 L192.26 24.82 L193.28 24.81 L194.3 24.81 L195.32 24.81 L196.35 24.81 L197.37 24.8 L198.39 24.8 L199.41 24.8 L200.43 24.8 L201.46 24.8 L202.48 24.8 L203.5 24.8" fill="none" stroke="#0000ff" stroke-width="1.5"/>
</g>
<rect x="40" y="18.25" width="163.5" height="1.5" fill="#c4c4c4"/>
<rect x="39.5" y="18.25" width="2" height="122.25" fill="#c0c0c0"/>
<rect x="203" y="18.25" width="1" height="122.25" fill="#8a8a8a"/>
<rect x="39.5" y="139.5" width="164.5" height="1" fill="#8a8a8a"/>
<line x1="40.5" y1="140" x2="42.5" y2="140" stroke="#333" stroke-width="0.8" />
<text x="38.3" y="144.2" font-size="13" text-anchor="end" fill="#111" font-weight="normal" font-style="normal" >-6</text>
<line x1="40.5" y1="109.75" x2="42.5" y2="109.75" stroke="#333" stroke-width="0.8" />
<text x="38.3" y="113.95" font-size="13" text-anchor="end" fill="#111" font-weight="normal" font-style="normal" >-3</text>
<line x1="40.5" y1="79.5" x2="42.5" y2="79.5" stroke="#333" stroke-width="0.8" />
<text x="38.3" y="83.7" font-size="13" text-anchor="end" fill="#111" font-weight="normal" font-style="normal" >0</text>
<line x1="40.5" y1="49.25" x2="42.5" y2="49.25" stroke="#333" stroke-width="0.8" />
<text x="38.3" y="53.45" font-size="13" text-anchor="end" fill="#111" font-weight="normal" font-style="normal" >3</text>
<line x1="40.5" y1="19" x2="42.5" y2="19" stroke="#333" stroke-width="0.8" />
<text x="38.3" y="23.2" font-size="13" text-anchor="end" fill="#111" font-weight="normal" font-style="normal" >6</text>
<line x1="40.5" y1="124.88" x2="41.7" y2="124.88" stroke="#333" stroke-width="0.8" />
<line x1="40.5" y1="94.62" x2="41.7" y2="94.62" stroke="#333" stroke-width="0.8" />
<line x1="40.5" y1="64.38" x2="41.7" y2="64.38" stroke="#333" stroke-width="0.8" />
<line x1="40.5" y1="34.12" x2="41.7" y2="34.12" stroke="#333" stroke-width="0.8" />
<line x1="60.88" y1="140" x2="60.88" y2="138" stroke="#333" stroke-width="0.8" />
<text x="60.88" y="154.2" font-size="13" text-anchor="middle" fill="#111" font-weight="normal" font-style="normal" >14</text>
<line x1="101.62" y1="140" x2="101.62" y2="138" stroke="#333" stroke-width="0.8" />
<text x="101.62" y="154.2" font-size="13" text-anchor="middle" fill="#111" font-weight="normal" font-style="normal" >16</text>
<line x1="142.38" y1="140" x2="142.38" y2="138" stroke="#333" stroke-width="0.8" />
<text x="142.38" y="154.2" font-size="13" text-anchor="middle" fill="#111" font-weight="normal" font-style="normal" >18</text>
<line x1="183.12" y1="140" x2="183.12" y2="138" stroke="#333" stroke-width="0.8" />
<text x="183.12" y="154.2" font-size="13" text-anchor="middle" fill="#111" font-weight="normal" font-style="normal" >20</text>
<line x1="81.25" y1="140" x2="81.25" y2="138.8" stroke="#333" stroke-width="0.8" />
<line x1="122" y1="140" x2="122" y2="138.8" stroke="#333" stroke-width="0.8" />
<line x1="162.75" y1="140" x2="162.75" y2="138.8" stroke="#333" stroke-width="0.8" />
<text x="118.6" y="171.4" font-size="13.6" text-anchor="middle" fill="#111" font-weight="normal" font-style="normal" >Voltage (V)</text>
<text x="0" y="0" font-size="13.6" text-anchor="middle" fill="#111" font-weight="normal" font-style="normal" transform="translate(20.2 79.5) rotate(-90)">Hall resistance (Ω)</text>
<line x1="49.6" y1="30.9" x2="64.7" y2="30.9" stroke="#ff0000" stroke-width="1.6" />
<path d="M54.1 27.9h6v6h-6zM57.1 27.9v6M54.1 30.9h6" fill="none" stroke="#ff0000" stroke-width="0.6"/>
<text x="69.5" y="33.4" font-size="10.5" text-anchor="start" fill="#111" font-weight="normal" font-style="normal" >450 Oe</text>
<line x1="49.6" y1="43.3" x2="64.7" y2="43.3" stroke="#ff8000" stroke-width="1.6" />
<path d="M54.1 43.3a3 3 0 1 0 6 0a3 3 0 1 0 -6 0M57.1 40.3v6M54.1 43.3h6" fill="none" stroke="#ff8000" stroke-width="0.6"/>
<text x="69.5" y="45.8" font-size="10.5" text-anchor="start" fill="#111" font-weight="normal" font-style="normal" >563 Oe</text>
<line x1="49.6" y1="55.7" x2="64.7" y2="55.7" stroke="#008000" stroke-width="1.6" />
<path d="M54.1 55.7a3 3 0 1 0 6 0a3 3 0 1 0 -6 0M57.1 52.7v6M54.1 55.7h6" fill="none" stroke="#008000" stroke-width="0.6"/>
<text x="69.5" y="58.2" font-size="10.5" text-anchor="start" fill="#111" font-weight="normal" font-style="normal" >810 Oe</text>
<line x1="49.6" y1="68.1" x2="64.7" y2="68.1" stroke="#0000ff" stroke-width="1.6" />
<path d="M53.26 66.36h7.68L57.1 72.3zM57.1 63.96V72.3M53.26 68.1h7.68" fill="none" stroke="#0000ff" stroke-width="0.6"/>
<text x="69.5" y="70.6" font-size="10.5" text-anchor="start" fill="#111" font-weight="normal" font-style="normal" >1305 Oe</text>
<text x="219.2" y="9.6" font-size="12.5" text-anchor="start" fill="#000" font-weight="bold" font-style="normal" >b</text>
<line x1="265.6" y1="20.7" x2="428" y2="20.7" stroke="#8c8c8c" stroke-width="1" />
<line x1="265.6" y1="20.7" x2="265.6" y2="142.1" stroke="#8c8c8c" stroke-width="1" />
<line x1="265.6" y1="142.1" x2="428" y2="142.1" stroke="#666" stroke-width="1" />
<line x1="428" y1="20.7" x2="428" y2="142.1" stroke="#ff6060" stroke-width="1" />
<line x1="263.1" y1="133.43" x2="265.6" y2="133.43" stroke="#444" stroke-width="0.8" />
<text x="261" y="137.83" font-size="12.8" text-anchor="end" fill="#111" font-weight="normal" font-style="normal" >14</text>
<line x1="263.1" y1="98.74" x2="265.6" y2="98.74" stroke="#444" stroke-width="0.8" />
<text x="261" y="103.14" font-size="12.8" text-anchor="end" fill="#111" font-weight="normal" font-style="normal" >16</text>
<line x1="263.1" y1="64.06" x2="265.6" y2="64.06" stroke="#444" stroke-width="0.8" />
<text x="261" y="68.46" font-size="12.8" text-anchor="end" fill="#111" font-weight="normal" font-style="normal" >18</text>
<line x1="263.1" y1="29.37" x2="265.6" y2="29.37" stroke="#444" stroke-width="0.8" />
<text x="261" y="33.77" font-size="12.8" text-anchor="end" fill="#111" font-weight="normal" font-style="normal" >20</text>
<line x1="264.1" y1="116.09" x2="265.6" y2="116.09" stroke="#444" stroke-width="0.8" />
<line x1="264.1" y1="81.4" x2="265.6" y2="81.4" stroke="#444" stroke-width="0.8" />
<line x1="264.1" y1="46.71" x2="265.6" y2="46.71" stroke="#444" stroke-width="0.8" />
<line x1="428" y1="142.1" x2="430.5" y2="142.1" stroke="#ff0000" stroke-width="0.8" />
<text x="431.3" y="146.5" font-size="12.8" text-anchor="start" fill="#ff0000" font-weight="normal" font-style="normal" >0.3</text>
<line x1="428" y1="101.63" x2="430.5" y2="101.63" stroke="#ff0000" stroke-width="0.8" />
<text x="431.3" y="106.03" font-size="12.8" text-anchor="start" fill="#ff0000" font-weight="normal" font-style="normal" >0.4</text>
<line x1="428" y1="61.17" x2="430.5" y2="61.17" stroke="#ff0000" stroke-width="0.8" />
<text x="431.3" y="65.57" font-size="12.8" text-anchor="start" fill="#ff0000" font-weight="normal" font-style="normal" >0.5</text>
<line x1="428" y1="20.7" x2="430.5" y2="20.7" stroke="#ff0000" stroke-width="0.8" />
<text x="431.3" y="25.1" font-size="12.8" text-anchor="start" fill="#ff0000" font-weight="normal" font-style="normal" >0.6</text>
<line x1="428" y1="121.87" x2="429.5" y2="121.87" stroke="#ff0000" stroke-width="0.8" />
<line x1="428" y1="81.4" x2="429.5" y2="81.4" stroke="#ff0000" stroke-width="0.8" />
<line x1="428" y1="40.93" x2="429.5" y2="40.93" stroke="#ff0000" stroke-width="0.8" />
<line x1="273.5" y1="142.1" x2="273.5" y2="144.6" stroke="#444" stroke-width="0.8" />
<line x1="292.84" y1="142.1" x2="292.84" y2="144.6" stroke="#444" stroke-width="0.8" />
<line x1="335.1" y1="142.1" x2="335.1" y2="144.6" stroke="#444" stroke-width="0.8" />
<line x1="419.8" y1="142.1" x2="419.8" y2="144.6" stroke="#444" stroke-width="0.8" />
<line x1="283.17" y1="142.1" x2="283.17" y2="143.6" stroke="#444" stroke-width="0.8" />
<line x1="313.97" y1="142.1" x2="313.97" y2="143.6" stroke="#444" stroke-width="0.8" />
<line x1="377.45" y1="142.1" x2="377.45" y2="143.6" stroke="#444" stroke-width="0.8" />
<text x="273.5" y="155.8" font-size="11.6" text-anchor="middle" fill="#111" font-weight="normal" font-style="normal" >450</text>
<text x="293.24" y="155.8" font-size="11.6" text-anchor="middle" fill="#111" font-weight="normal" font-style="normal" >563</text>
<text x="335.1" y="155.8" font-size="11.6" text-anchor="middle" fill="#111" font-weight="normal" font-style="normal" >810</text>
<text x="419.8" y="155.8" font-size="11.6" text-anchor="middle" fill="#111" font-weight="normal" font-style="normal" >1305</text>
<text x="346.5" y="174.7" font-size="13.6" text-anchor="middle" fill="#111" font-weight="normal" font-style="normal" >In-plane field (Oe)</text>
<text font-size="13.5" fill="#111" transform="translate(234.3 89.2) rotate(-90)"><tspan font-style="italic">x</tspan><tspan font-size="8.6" dy="2.6">0</tspan></text>
<text font-size="13.6" fill="#ff0000" font-style="italic" transform="translate(463.8 84.5) rotate(-90)">k</text>
<line x1="277.42" y1="33.23" x2="288.92" y2="44.59" stroke="#000" stroke-width="1.4" />
<line x1="297.6" y1="51.2" x2="330.34" y2="70.15" stroke="#000" stroke-width="1.4" />
<line x1="340.44" y1="74.21" x2="414.46" y2="92.4" stroke="#000" stroke-width="1.4" />
<rect x="270.35" y="26.22" width="6.3" height="6.3" fill="none" stroke="#000" stroke-width="1.5"/>
<rect x="289.69" y="45.3" width="6.3" height="6.3" fill="none" stroke="#000" stroke-width="1.5"/>
<rect x="331.95" y="69.75" width="6.3" height="6.3" fill="none" stroke="#000" stroke-width="1.5"/>
<rect x="416.65" y="90.56" width="6.3" height="6.3" fill="none" stroke="#000" stroke-width="1.5"/>
<line x1="278.93" y1="122.13" x2="287.41" y2="123.5" stroke="#ff0000" stroke-width="1.4" />
<line x1="298.25" y1="125.36" x2="329.69" y2="131.08" stroke="#ff0000" stroke-width="1.4" />
<line x1="340.6" y1="131.85" x2="414.3" y2="129.04" stroke="#ff0000" stroke-width="1.4" />
<rect x="270.35" y="118.11" width="6.3" height="6.3" fill="none" stroke="#ff0000" stroke-width="1.5"/>
<rect x="289.69" y="121.23" width="6.3" height="6.3" fill="none" stroke="#ff0000" stroke-width="1.5"/>
<rect x="331.95" y="128.91" width="6.3" height="6.3" fill="none" stroke="#ff0000" stroke-width="1.5"/>
<rect x="416.65" y="125.68" width="6.3" height="6.3" fill="none" stroke="#ff0000" stroke-width="1.5"/>
<line x1="307.2" y1="58.3" x2="281.9" y2="58.3" stroke="#000" stroke-width="1.3" />
<path d="M278.4 58.3L283.4 56.2L283.4 60.4z" fill="#000"/>
<line x1="296.8" y1="121.4" x2="322.2" y2="121.4" stroke="#ff0000" stroke-width="1.3" />
<path d="M325.7 121.4L320.7 119.3L320.7 123.5z" fill="#ff0000"/>
<text x="476.3" y="9.7" font-size="12.5" text-anchor="start" fill="#000" font-weight="bold" font-style="normal" >c</text>
<text x="505.6" y="25.1" font-size="12" text-anchor="start" fill="#111" font-weight="normal" font-style="normal" >#1</text>
<text x="505.6" y="54.55" font-size="12" text-anchor="start" fill="#111" font-weight="normal" font-style="normal" >#2</text>
<text x="505.6" y="84" font-size="12" text-anchor="start" fill="#111" font-weight="normal" font-style="normal" >#3</text>
<text x="505.6" y="113.45" font-size="12" text-anchor="start" fill="#111" font-weight="normal" font-style="normal" >#4</text>
<text x="505.6" y="142.9" font-size="12" text-anchor="start" fill="#111" font-weight="normal" font-style="normal" >#5</text>
<text x="505.6" y="172.35" font-size="12" text-anchor="start" fill="#111" font-weight="normal" font-style="normal" >#6</text>
<defs><filter id="n1" x="0" y="0" width="100%" height="100%" color-interpolation-filters="sRGB">
<feTurbulence type="fractalNoise" baseFrequency="1.7" numOctaves="2" seed="5"/>
<feColorMatrix type="matrix" values="0.73 0 0 0 0.1985  0.73 0 0 0 0.1985  0.73 0 0 0 0.1985  0 0 0 0 1"/>
<feGaussianBlur stdDeviation="0.2"/>
</filter>
<filter id="n2" x="0" y="0" width="100%" height="100%" color-interpolation-filters="sRGB">
<feTurbulence type="fractalNoise" baseFrequency="1.7" numOctaves="2" seed="9"/>
<feColorMatrix type="matrix" values="0.72 0 0 0 -0.13  0.72 0 0 0 -0.13  0.72 0 0 0 -0.13  0 0 0 0 1"/>
<feGaussianBlur stdDeviation="0.2"/>
</filter>
<clipPath id="cb"><path d="M543 45.2H574L575.5 47.5L566.5 52.5L575 55.8V61.2H543ZM544 74.4H578.7L579.5 76L571.3 81.4L581.4 85.5V89.7H544ZM544.3 103.1H586L586.5 105L581.9 110.5L589.6 112.5V119.5H544.3ZM545 132.2H595.4V139H601.2V148.4H545ZM547.1 162H607.1V168.8H615.2V178.6H547.1Z"/></clipPath></defs>
<rect x="535.2" y="13.0" width="114.8" height="167.3" filter="url(#n1)"/>
<rect x="535.2" y="31.5" width="114.8" height="1" fill="#fff" opacity="0.2"/>
<rect x="535.2" y="66.5" width="114.8" height="1" fill="#fff" opacity="0.2"/>
<rect x="535.2" y="102" width="114.8" height="1" fill="#fff" opacity="0.3"/>
<rect x="535.2" y="118.6" width="114.8" height="1" fill="#fff" opacity="0.15"/>
<rect x="535.2" y="131.6" width="114.8" height="1" fill="#fff" opacity="0.3"/>
<rect x="535.2" y="149.3" width="114.8" height="1" fill="#fff" opacity="0.25"/>
<rect x="535.2" y="160.9" width="114.8" height="1" fill="#fff" opacity="0.5"/>
<rect x="535.2" y="179" width="114.8" height="1" fill="#000" opacity="0.25"/>
<g clip-path="url(#cb)"><rect x="535.2" y="13.0" width="114.8" height="167.3" filter="url(#n2)"/></g>
<text x="0" y="207.8" font-size="12.5" text-anchor="start" fill="#000" font-weight="bold" font-style="normal" >d</text>
<defs><clipPath id="cd"><rect x="41.0" y="223.1" width="162.8" height="121.4"/></clipPath></defs>
<g clip-path="url(#cd)">
<path d="M38.2 330.2h5.6v5.6h-5.6zM41 330.2v5.6M38.2 333h5.6M39.83 330.2h5.6v5.6h-5.6zM42.63 330.2v5.6M39.83 333h5.6M41.46 330.2h5.6v5.6h-5.6zM44.26 330.2v5.6M41.46 333h5.6M43.08 330.2h5.6v5.6h-5.6zM45.88 330.2v5.6M43.08 333h5.6M44.71 330.2h5.6v5.6h-5.6zM47.51 330.2v5.6M44.71 333h5.6M46.34 330.2h5.6v5.6h-5.6zM49.14 330.2v5.6M46.34 333h5.6M47.97 330.2h5.6v5.6h-5.6zM50.77 330.2v5.6M47.97 333h5.6M49.6 330.2h5.6v5.6h-5.6zM52.4 330.2v5.6M49.6 333h5.6M51.22 330.19h5.6v5.6h-5.6zM54.02 330.19v5.6M51.22 332.99h5.6M52.85 330.19h5.6v5.6h-5.6zM55.65 330.19v5.6M52.85 332.99h5.6M54.48 330.19h5.6v5.6h-5.6zM57.28 330.19v5.6M54.48 332.99h5.6M56.11 330.19h5.6v5.6h-5.6zM58.91 330.19v5.6M56.11 332.99h5.6M57.74 330.19h5.6v5.6h-5.6zM60.54 330.19v5.6M57.74 332.99h5.6M59.36 330.18h5.6v5.6h-5.6zM62.16 330.18v5.6M59.36 332.98h5.6M60.99 330.18h5.6v5.6h-5.6zM63.79 330.18v5.6M60.99 332.98h5.6M62.62 330.18h5.6v5.6h-5.6zM65.42 330.18v5.6M62.62 332.98h5.6M64.25 330.17h5.6v5.6h-5.6zM67.05 330.17v5.6M64.25 332.97h5.6M65.88 330.17h5.6v5.6h-5.6zM68.68 330.17v5.6M65.88 332.97h5.6M67.5 330.17h5.6v5.6h-5.6zM70.3 330.17v5.6M67.5 332.97h5.6M69.13 330.16h5.6v5.6h-5.6zM71.93 330.16v5.6M69.13 332.96h5.6M70.76 330.16h5.6v5.6h-5.6zM73.56 330.16v5.6M70.76 332.96h5.6M72.39 330.16h5.6v5.6h-5.6zM75.19 330.16v5.6M72.39 332.96h5.6M74.02 330.15h5.6v5.6h-5.6zM76.82 330.15v5.6M74.02 332.95h5.6M75.64 330.15h5.6v5.6h-5.6zM78.44 330.15v5.6M75.64 332.95h5.6M77.27 330.14h5.6v5.6h-5.6zM80.07 330.14v5.6M77.27 332.94h5.6M78.9 330.14h5.6v5.6h-5.6zM81.7 330.14v5.6M78.9 332.94h5.6M80.53 330.13h5.6v5.6h-5.6zM83.33 330.13v5.6M80.53 332.93h5.6M82.16 330.12h5.6v5.6h-5.6zM84.96 330.12v5.6M82.16 332.92h5.6M83.78 330.12h5.6v5.6h-5.6zM86.58 330.12v5.6M83.78 332.92h5.6M85.41 330.11h5.6v5.6h-5.6zM88.21 330.11v5.6M85.41 332.91h5.6M87.04 330.11h5.6v5.6h-5.6zM89.84 330.11v5.6M87.04 332.91h5.6M88.67 330.1h5.6v5.6h-5.6zM91.47 330.1v5.6M88.67 332.9h5.6M90.3 330.09h5.6v5.6h-5.6zM93.1 330.09v5.6M90.3 332.89h5.6M91.92 330.08h5.6v5.6h-5.6zM94.72 330.08v5.6M91.92 332.88h5.6M93.55 330.08h5.6v5.6h-5.6zM96.35 330.08v5.6M93.55 332.88h5.6M95.18 330.07h5.6v5.6h-5.6zM97.98 330.07v5.6M95.18 332.87h5.6M96.81 330.06h5.6v5.6h-5.6zM99.61 330.06v5.6M96.81 332.86h5.6M98.44 330.05h5.6v5.6h-5.6zM101.24 330.05v5.6M98.44 332.85h5.6M100.06 330.04h5.6v5.6h-5.6zM102.86 330.04v5.6M100.06 332.84h5.6M101.69 330.03h5.6v5.6h-5.6zM104.49 330.03v5.6M101.69 332.83h5.6M103.32 330.02h5.6v5.6h-5.6zM106.12 330.02v5.6M103.32 332.82h5.6M104.95 330.01h5.6v5.6h-5.6zM107.75 330.01v5.6M104.95 332.81h5.6M106.58 330h5.6v5.6h-5.6zM109.38 330v5.6M106.58 332.8h5.6M108.2 329.99h5.6v5.6h-5.6zM111 329.99v5.6M108.2 332.79h5.6M109.83 329.97h5.6v5.6h-5.6zM112.63 329.97v5.6M109.83 332.77h5.6M111.46 329.95h5.6v5.6h-5.6zM114.26 329.95v5.6M111.46 332.75h5.6M113.09 329.92h5.6v5.6h-5.6zM115.89 329.92v5.6M113.09 332.72h5.6M114.72 329.88h5.6v5.6h-5.6zM117.52 329.88v5.6M114.72 332.68h5.6M116.34 329.83h5.6v5.6h-5.6zM119.14 329.83v5.6M116.34 332.63h5.6M117.97 329.77h5.6v5.6h-5.6zM120.77 329.77v5.6M117.97 332.57h5.6M119.6 329.71h5.6v5.6h-5.6zM122.4 329.71v5.6M119.6 332.51h5.6M121.23 329.63h5.6v5.6h-5.6zM124.03 329.63v5.6M121.23 332.43h5.6M122.86 329.55h5.6v5.6h-5.6zM125.66 329.55v5.6M122.86 332.35h5.6M124.48 329.46h5.6v5.6h-5.6zM127.28 329.46v5.6M124.48 332.26h5.6M126.11 329.35h5.6v5.6h-5.6zM128.91 329.35v5.6M126.11 332.15h5.6M127.74 329.1h5.6v5.6h-5.6zM130.54 329.1v5.6M127.74 331.9h5.6M129.37 328.72h5.6v5.6h-5.6zM132.17 328.72v5.6M129.37 331.52h5.6M131 328.26h5.6v5.6h-5.6zM133.8 328.26v5.6M131 331.06h5.6M132.62 327.76h5.6v5.6h-5.6zM135.42 327.76v5.6M132.62 330.56h5.6M134.25 327.27h5.6v5.6h-5.6zM137.05 327.27v5.6M134.25 330.07h5.6M135.88 326.83h5.6v5.6h-5.6zM138.68 326.83v5.6M135.88 329.63h5.6M137.51 326.48h5.6v5.6h-5.6zM140.31 326.48v5.6M137.51 329.28h5.6M139.14 326.12h5.6v5.6h-5.6zM141.94 326.12v5.6M139.14 328.92h5.6M140.76 325.63h5.6v5.6h-5.6zM143.56 325.63v5.6M140.76 328.43h5.6M142.39 324.77h5.6v5.6h-5.6zM145.19 324.77v5.6M142.39 327.57h5.6M144.02 323.87h5.6v5.6h-5.6zM146.82 323.87v5.6M144.02 326.67h5.6M145.65 323.29h5.6v5.6h-5.6zM148.45 323.29v5.6M145.65 326.09h5.6M147.28 322.78h5.6v5.6h-5.6zM150.08 322.78v5.6M147.28 325.58h5.6M148.9 321.8h5.6v5.6h-5.6zM151.7 321.8v5.6M148.9 324.6h5.6M150.53 320.37h5.6v5.6h-5.6zM153.33 320.37v5.6M150.53 323.17h5.6M152.16 319.26h5.6v5.6h-5.6zM154.96 319.26v5.6M152.16 322.06h5.6M153.79 318.53h5.6v5.6h-5.6zM156.59 318.53v5.6M153.79 321.33h5.6M155.42 317.26h5.6v5.6h-5.6zM158.22 317.26v5.6M155.42 320.06h5.6M157.04 315.42h5.6v5.6h-5.6zM159.84 315.42v5.6M157.04 318.22h5.6M158.67 313.07h5.6v5.6h-5.6zM161.47 313.07v5.6M158.67 315.87h5.6M160.3 309.97h5.6v5.6h-5.6zM163.1 309.97v5.6M160.3 312.77h5.6M161.93 305.46h5.6v5.6h-5.6zM164.73 305.46v5.6M161.93 308.26h5.6M163.56 299.6h5.6v5.6h-5.6zM166.36 299.6v5.6M163.56 302.4h5.6M165.18 291.01h5.6v5.6h-5.6zM167.98 291.01v5.6M165.18 293.81h5.6M166.81 281.66h5.6v5.6h-5.6zM169.61 281.66v5.6M166.81 284.46h5.6M168.44 276.15h5.6v5.6h-5.6zM171.24 276.15v5.6M168.44 278.95h5.6M170.07 270.11h5.6v5.6h-5.6zM172.87 270.11v5.6M170.07 272.91h5.6M171.7 263.39h5.6v5.6h-5.6zM174.5 263.39v5.6M171.7 266.19h5.6M173.32 255.51h5.6v5.6h-5.6zM176.12 255.51v5.6M173.32 258.31h5.6M174.95 250.05h5.6v5.6h-5.6zM177.75 250.05v5.6M174.95 252.85h5.6M176.58 246.41h5.6v5.6h-5.6zM179.38 246.41v5.6M176.58 249.21h5.6M178.21 244.06h5.6v5.6h-5.6zM181.01 244.06v5.6M178.21 246.86h5.6M179.84 242.59h5.6v5.6h-5.6zM182.64 242.59v5.6M179.84 245.39h5.6M181.46 241.52h5.6v5.6h-5.6zM184.26 241.52v5.6M181.46 244.32h5.6M183.09 240.77h5.6v5.6h-5.6zM185.89 240.77v5.6M183.09 243.57h5.6M184.72 240.18h5.6v5.6h-5.6zM187.52 240.18v5.6M184.72 242.98h5.6M186.35 239.7h5.6v5.6h-5.6zM189.15 239.7v5.6M186.35 242.5h5.6M187.98 239.23h5.6v5.6h-5.6zM190.78 239.23v5.6M187.98 242.03h5.6M189.6 238.73h5.6v5.6h-5.6zM192.4 238.73v5.6M189.6 241.53h5.6M191.23 238.23h5.6v5.6h-5.6zM194.03 238.23v5.6M191.23 241.03h5.6M192.86 237.75h5.6v5.6h-5.6zM195.66 237.75v5.6M192.86 240.55h5.6M194.49 237.29h5.6v5.6h-5.6zM197.29 237.29v5.6M194.49 240.09h5.6M196.12 236.85h5.6v5.6h-5.6zM198.92 236.85v5.6M196.12 239.65h5.6M197.74 236.44h5.6v5.6h-5.6zM200.54 236.44v5.6M197.74 239.24h5.6M199.37 236.06h5.6v5.6h-5.6zM202.17 236.06v5.6M199.37 238.86h5.6M201 235.7h5.6v5.6h-5.6zM203.8 235.7v5.6M201 238.5h5.6" fill="none" stroke="#ff0000" stroke-width="0.7" opacity="1"/>
<path d="M41 333 L42.02 333 L43.05 333 L44.07 333 L45.1 333 L46.12 333 L47.14 333 L48.17 333 L49.19 333 L50.22 333 L51.24 333 L52.26 333 L53.29 332.99 L54.31 332.99 L55.33 332.99 L56.36 332.99 L57.38 332.99 L58.41 332.99 L59.43 332.99 L60.45 332.99 L61.48 332.98 L62.5 332.98 L63.53 332.98 L64.55 332.98 L65.57 332.98 L66.6 332.98 L67.62 332.97 L68.65 332.97 L69.67 332.97 L70.69 332.97 L71.72 332.96 L72.74 332.96 L73.76 332.96 L74.79 332.96 L75.81 332.95 L76.84 332.95 L77.86 332.95 L78.88 332.94 L79.91 332.94 L80.93 332.94 L81.96 332.94 L82.98 332.93 L84 332.93 L85.03 332.92 L86.05 332.92 L87.08 332.92 L88.1 332.91 L89.12 332.91 L90.15 332.9 L91.17 332.9 L92.19 332.9 L93.22 332.89 L94.24 332.89 L95.27 332.88 L96.29 332.88 L97.31 332.87 L98.34 332.87 L99.36 332.86 L100.39 332.86 L101.41 332.85 L102.43 332.84 L103.46 332.84 L104.48 332.83 L105.51 332.83 L106.53 332.82 L107.55 332.82 L108.58 332.81 L109.6 332.8 L110.63 332.8 L111.65 332.79 L112.67 332.77 L113.7 332.76 L114.72 332.74 L115.74 332.72 L116.77 332.7 L117.79 332.67 L118.82 332.64 L119.84 332.6 L120.86 332.57 L121.89 332.53 L122.91 332.49 L123.94 332.44 L124.96 332.39 L125.98 332.33 L127.01 332.28 L128.03 332.22 L129.06 332.13 L130.08 331.98 L131.1 331.78 L132.13 331.53 L133.15 331.25 L134.17 330.94 L135.2 330.63 L136.22 330.31 L137.25 330.01 L138.27 329.73 L139.29 329.49 L140.32 329.27 L141.34 329.06 L142.37 328.81 L143.39 328.5 L144.41 328.01 L145.44 327.42 L146.46 326.84 L147.49 326.39 L148.51 326.07 L149.53 325.77 L150.56 325.37 L151.58 324.7 L152.61 323.81 L153.63 322.92 L154.65 322.22 L155.68 321.76 L156.7 321.26 L157.72 320.51 L158.75 319.52 L159.77 318.32 L160.8 316.91 L161.82 315.3 L162.84 313.35 L163.87 310.8 L164.89 307.74 L165.92 304.21 L166.94 299.66 L167.96 293.95 L168.99 287.08 L170.01 283.03 L171.04 279.65 L172.06 275.91 L173.08 272.09 L174.11 267.97 L175.13 263.02 L176.15 258.18 L177.18 254.43 L178.2 251.74 L179.23 249.5 L180.25 247.77 L181.27 246.59 L182.3 245.65 L183.32 244.89 L184.35 244.28 L185.37 243.79 L186.39 243.37 L187.42 243.02 L188.44 242.7 L189.47 242.41 L190.49 242.11 L191.51 241.8 L192.54 241.49 L193.56 241.17 L194.58 240.87 L195.61 240.57 L196.63 240.27 L197.66 239.99 L198.68 239.71 L199.7 239.45 L200.73 239.2 L201.75 238.95 L202.78 238.72 L203.8 238.5" fill="none" stroke="#ff0000" stroke-width="1.5"/>
<path d="M38.2 332.8a2.8 2.8 0 1 0 5.6 0a2.8 2.8 0 1 0 -5.6 0M41 330v5.6M38.2 332.8h5.6M39.83 332.8a2.8 2.8 0 1 0 5.6 0a2.8 2.8 0 1 0 -5.6 0M42.63 330v5.6M39.83 332.8h5.6M41.46 332.8a2.8 2.8 0 1 0 5.6 0a2.8 2.8 0 1 0 -5.6 0M44.26 330v5.6M41.46 332.8h5.6M43.08 332.8a2.8 2.8 0 1 0 5.6 0a2.8 2.8 0 1 0 -5.6 0M45.88 330v5.6M43.08 332.8h5.6M44.71 332.8a2.8 2.8 0 1 0 5.6 0a2.8 2.8 0 1 0 -5.6 0M47.51 330v5.6M44.71 332.8h5.6M46.34 332.8a2.8 2.8 0 1 0 5.6 0a2.8 2.8 0 1 0 -5.6 0M49.14 330v5.6M46.34 332.8h5.6M47.97 332.8a2.8 2.8 0 1 0 5.6 0a2.8 2.8 0 1 0 -5.6 0M50.77 330v5.6M47.97 332.8h5.6M49.6 332.79a2.8 2.8 0 1 0 5.6 0a2.8 2.8 0 1 0 -5.6 0M52.4 329.99v5.6M49.6 332.79h5.6M51.22 332.79a2.8 2.8 0 1 0 5.6 0a2.8 2.8 0 1 0 -5.6 0M54.02 329.99v5.6M51.22 332.79h5.6M52.85 332.79a2.8 2.8 0 1 0 5.6 0a2.8 2.8 0 1 0 -5.6 0M55.65 329.99v5.6M52.85 332.79h5.6M54.48 332.79a2.8 2.8 0 1 0 5.6 0a2.8 2.8 0 1 0 -5.6 0M57.28 329.99v5.6M54.48 332.79h5.6M56.11 332.79a2.8 2.8 0 1 0 5.6 0a2.8 2.8 0 1 0 -5.6 0M58.91 329.99v5.6M56.11 332.79h5.6M57.74 332.78a2.8 2.8 0 1 0 5.6 0a2.8 2.8 0 1 0 -5.6 0M60.54 329.98v5.6M57.74 332.78h5.6M59.36 332.78a2.8 2.8 0 1 0 5.6 0a2.8 2.8 0 1 0 -5.6 0M62.16 329.98v5.6M59.36 332.78h5.6M60.99 332.78a2.8 2.8 0 1 0 5.6 0a2.8 2.8 0 1 0 -5.6 0M63.79 329.98v5.6M60.99 332.78h5.6M62.62 332.77a2.8 2.8 0 1 0 5.6 0a2.8 2.8 0 1 0 -5.6 0M65.42 329.97v5.6M62.62 332.77h5.6M64.25 332.77a2.8 2.8 0 1 0 5.6 0a2.8 2.8 0 1 0 -5.6 0M67.05 329.97v5.6M64.25 332.77h5.6M65.88 332.76a2.8 2.8 0 1 0 5.6 0a2.8 2.8 0 1 0 -5.6 0M68.68 329.96v5.6M65.88 332.76h5.6M67.5 332.76a2.8 2.8 0 1 0 5.6 0a2.8 2.8 0 1 0 -5.6 0M70.3 329.96v5.6M67.5 332.76h5.6M69.13 332.75a2.8 2.8 0 1 0 5.6 0a2.8 2.8 0 1 0 -5.6 0M71.93 329.95v5.6M69.13 332.75h5.6M70.76 332.75a2.8 2.8 0 1 0 5.6 0a2.8 2.8 0 1 0 -5.6 0M73.56 329.95v5.6M70.76 332.75h5.6M72.39 332.74a2.8 2.8 0 1 0 5.6 0a2.8 2.8 0 1 0 -5.6 0M75.19 329.94v5.6M72.39 332.74h5.6M74.02 332.73a2.8 2.8 0 1 0 5.6 0a2.8 2.8 0 1 0 -5.6 0M76.82 329.93v5.6M74.02 332.73h5.6M75.64 332.73a2.8 2.8 0 1 0 5.6 0a2.8 2.8 0 1 0 -5.6 0M78.44 329.93v5.6M75.64 332.73h5.6M77.27 332.72a2.8 2.8 0 1 0 5.6 0a2.8 2.8 0 1 0 -5.6 0M80.07 329.92v5.6M77.27 332.72h5.6M78.9 332.71a2.8 2.8 0 1 0 5.6 0a2.8 2.8 0 1 0 -5.6 0M81.7 329.91v5.6M78.9 332.71h5.6M80.53 332.7a2.8 2.8 0 1 0 5.6 0a2.8 2.8 0 1 0 -5.6 0M83.33 329.9v5.6M80.53 332.7h5.6M82.16 332.7a2.8 2.8 0 1 0 5.6 0a2.8 2.8 0 1 0 -5.6 0M84.96 329.9v5.6M82.16 332.7h5.6M83.78 332.69a2.8 2.8 0 1 0 5.6 0a2.8 2.8 0 1 0 -5.6 0M86.58 329.89v5.6M83.78 332.69h5.6M85.41 332.68a2.8 2.8 0 1 0 5.6 0a2.8 2.8 0 1 0 -5.6 0M88.21 329.88v5.6M85.41 332.68h5.6M87.04 332.67a2.8 2.8 0 1 0 5.6 0a2.8 2.8 0 1 0 -5.6 0M89.84 329.87v5.6M87.04 332.67h5.6M88.67 332.66a2.8 2.8 0 1 0 5.6 0a2.8 2.8 0 1 0 -5.6 0M91.47 329.86v5.6M88.67 332.66h5.6M90.3 332.65a2.8 2.8 0 1 0 5.6 0a2.8 2.8 0 1 0 -5.6 0M93.1 329.85v5.6M90.3 332.65h5.6M91.92 332.64a2.8 2.8 0 1 0 5.6 0a2.8 2.8 0 1 0 -5.6 0M94.72 329.84v5.6M91.92 332.64h5.6M93.55 332.63a2.8 2.8 0 1 0 5.6 0a2.8 2.8 0 1 0 -5.6 0M96.35 329.83v5.6M93.55 332.63h5.6M95.18 332.62a2.8 2.8 0 1 0 5.6 0a2.8 2.8 0 1 0 -5.6 0M97.98 329.82v5.6M95.18 332.62h5.6M96.81 332.6a2.8 2.8 0 1 0 5.6 0a2.8 2.8 0 1 0 -5.6 0M99.61 329.8v5.6M96.81 332.6h5.6M98.44 332.58a2.8 2.8 0 1 0 5.6 0a2.8 2.8 0 1 0 -5.6 0M101.24 329.78v5.6M98.44 332.58h5.6M100.06 332.54a2.8 2.8 0 1 0 5.6 0a2.8 2.8 0 1 0 -5.6 0M102.86 329.74v5.6M100.06 332.54h5.6M101.69 332.48a2.8 2.8 0 1 0 5.6 0a2.8 2.8 0 1 0 -5.6 0M104.49 329.68v5.6M101.69 332.48h5.6M103.32 332.39a2.8 2.8 0 1 0 5.6 0a2.8 2.8 0 1 0 -5.6 0M106.12 329.59v5.6M103.32 332.39h5.6M104.95 332.29a2.8 2.8 0 1 0 5.6 0a2.8 2.8 0 1 0 -5.6 0M107.75 329.49v5.6M104.95 332.29h5.6M106.58 332.17a2.8 2.8 0 1 0 5.6 0a2.8 2.8 0 1 0 -5.6 0M109.38 329.37v5.6M106.58 332.17h5.6M108.2 332.04a2.8 2.8 0 1 0 5.6 0a2.8 2.8 0 1 0 -5.6 0M111 329.24v5.6M108.2 332.04h5.6M109.83 331.89a2.8 2.8 0 1 0 5.6 0a2.8 2.8 0 1 0 -5.6 0M112.63 329.09v5.6M109.83 331.89h5.6M111.46 331.72a2.8 2.8 0 1 0 5.6 0a2.8 2.8 0 1 0 -5.6 0M114.26 328.92v5.6M111.46 331.72h5.6M113.09 331.55a2.8 2.8 0 1 0 5.6 0a2.8 2.8 0 1 0 -5.6 0M115.89 328.75v5.6M113.09 331.55h5.6M114.72 331.36a2.8 2.8 0 1 0 5.6 0a2.8 2.8 0 1 0 -5.6 0M117.52 328.56v5.6M114.72 331.36h5.6M116.34 331.17a2.8 2.8 0 1 0 5.6 0a2.8 2.8 0 1 0 -5.6 0M119.14 328.37v5.6M116.34 331.17h5.6M117.97 330.91a2.8 2.8 0 1 0 5.6 0a2.8 2.8 0 1 0 -5.6 0M120.77 328.11v5.6M117.97 330.91h5.6M119.6 330.57a2.8 2.8 0 1 0 5.6 0a2.8 2.8 0 1 0 -5.6 0M122.4 327.77v5.6M119.6 330.57h5.6M121.23 330.17a2.8 2.8 0 1 0 5.6 0a2.8 2.8 0 1 0 -5.6 0M124.03 327.37v5.6M121.23 330.17h5.6M122.86 329.72a2.8 2.8 0 1 0 5.6 0a2.8 2.8 0 1 0 -5.6 0M125.66 326.92v5.6M122.86 329.72h5.6M124.48 329.24a2.8 2.8 0 1 0 5.6 0a2.8 2.8 0 1 0 -5.6 0M127.28 326.44v5.6M124.48 329.24h5.6M126.11 328.75a2.8 2.8 0 1 0 5.6 0a2.8 2.8 0 1 0 -5.6 0M128.91 325.95v5.6M126.11 328.75h5.6M127.74 328.25a2.8 2.8 0 1 0 5.6 0a2.8 2.8 0 1 0 -5.6 0M130.54 325.45v5.6M127.74 328.25h5.6M129.37 327.71a2.8 2.8 0 1 0 5.6 0a2.8 2.8 0 1 0 -5.6 0M132.17 324.91v5.6M129.37 327.71h5.6M131 327.12a2.8 2.8 0 1 0 5.6 0a2.8 2.8 0 1 0 -5.6 0M133.8 324.32v5.6M131 327.12h5.6M132.62 326.48a2.8 2.8 0 1 0 5.6 0a2.8 2.8 0 1 0 -5.6 0M135.42 323.68v5.6M132.62 326.48h5.6M134.25 325.76a2.8 2.8 0 1 0 5.6 0a2.8 2.8 0 1 0 -5.6 0M137.05 322.96v5.6M134.25 325.76h5.6M135.88 324.95a2.8 2.8 0 1 0 5.6 0a2.8 2.8 0 1 0 -5.6 0M138.68 322.15v5.6M135.88 324.95h5.6M137.51 324a2.8 2.8 0 1 0 5.6 0a2.8 2.8 0 1 0 -5.6 0M140.31 321.2v5.6M137.51 324h5.6M139.14 322.9a2.8 2.8 0 1 0 5.6 0a2.8 2.8 0 1 0 -5.6 0M141.94 320.1v5.6M139.14 322.9h5.6M140.76 321.65a2.8 2.8 0 1 0 5.6 0a2.8 2.8 0 1 0 -5.6 0M143.56 318.85v5.6M140.76 321.65h5.6M142.39 320.22a2.8 2.8 0 1 0 5.6 0a2.8 2.8 0 1 0 -5.6 0M145.19 317.42v5.6M142.39 320.22h5.6M144.02 318.52a2.8 2.8 0 1 0 5.6 0a2.8 2.8 0 1 0 -5.6 0M146.82 315.72v5.6M144.02 318.52h5.6M145.65 316.5a2.8 2.8 0 1 0 5.6 0a2.8 2.8 0 1 0 -5.6 0M148.45 313.7v5.6M145.65 316.5h5.6M147.28 314.11a2.8 2.8 0 1 0 5.6 0a2.8 2.8 0 1 0 -5.6 0M150.08 311.31v5.6M147.28 314.11h5.6M148.9 310.82a2.8 2.8 0 1 0 5.6 0a2.8 2.8 0 1 0 -5.6 0M151.7 308.02v5.6M148.9 310.82h5.6M150.53 304.03a2.8 2.8 0 1 0 5.6 0a2.8 2.8 0 1 0 -5.6 0M153.33 301.23v5.6M150.53 304.03h5.6M152.16 297.7a2.8 2.8 0 1 0 5.6 0a2.8 2.8 0 1 0 -5.6 0M154.96 294.9v5.6M152.16 297.7h5.6M153.79 289.93a2.8 2.8 0 1 0 5.6 0a2.8 2.8 0 1 0 -5.6 0M156.59 287.13v5.6M153.79 289.93h5.6M155.42 283.55a2.8 2.8 0 1 0 5.6 0a2.8 2.8 0 1 0 -5.6 0M158.22 280.75v5.6M155.42 283.55h5.6M157.04 278.2a2.8 2.8 0 1 0 5.6 0a2.8 2.8 0 1 0 -5.6 0M159.84 275.4v5.6M157.04 278.2h5.6M158.67 272.4a2.8 2.8 0 1 0 5.6 0a2.8 2.8 0 1 0 -5.6 0M161.47 269.6v5.6M158.67 272.4h5.6M160.3 265.71a2.8 2.8 0 1 0 5.6 0a2.8 2.8 0 1 0 -5.6 0M163.1 262.91v5.6M160.3 265.71h5.6M161.93 257.89a2.8 2.8 0 1 0 5.6 0a2.8 2.8 0 1 0 -5.6 0M164.73 255.09v5.6M161.93 257.89h5.6M163.56 252.57a2.8 2.8 0 1 0 5.6 0a2.8 2.8 0 1 0 -5.6 0M166.36 249.77v5.6M163.56 252.57h5.6M165.18 248.9a2.8 2.8 0 1 0 5.6 0a2.8 2.8 0 1 0 -5.6 0M167.98 246.1v5.6M165.18 248.9h5.6M166.81 246.65a2.8 2.8 0 1 0 5.6 0a2.8 2.8 0 1 0 -5.6 0M169.61 243.85v5.6M166.81 246.65h5.6M168.44 245.23a2.8 2.8 0 1 0 5.6 0a2.8 2.8 0 1 0 -5.6 0M171.24 242.43v5.6M168.44 245.23h5.6M170.07 244.21a2.8 2.8 0 1 0 5.6 0a2.8 2.8 0 1 0 -5.6 0M172.87 241.41v5.6M170.07 244.21h5.6M171.7 243.48a2.8 2.8 0 1 0 5.6 0a2.8 2.8 0 1 0 -5.6 0M174.5 240.68v5.6M171.7 243.48h5.6M173.32 242.9a2.8 2.8 0 1 0 5.6 0a2.8 2.8 0 1 0 -5.6 0M176.12 240.1v5.6M173.32 242.9h5.6M174.95 242.41a2.8 2.8 0 1 0 5.6 0a2.8 2.8 0 1 0 -5.6 0M177.75 239.61v5.6M174.95 242.41h5.6M176.58 241.96a2.8 2.8 0 1 0 5.6 0a2.8 2.8 0 1 0 -5.6 0M179.38 239.16v5.6M176.58 241.96h5.6M178.21 241.52a2.8 2.8 0 1 0 5.6 0a2.8 2.8 0 1 0 -5.6 0M181.01 238.72v5.6M178.21 241.52h5.6M179.84 241.09a2.8 2.8 0 1 0 5.6 0a2.8 2.8 0 1 0 -5.6 0M182.64 238.29v5.6M179.84 241.09h5.6M181.46 240.68a2.8 2.8 0 1 0 5.6 0a2.8 2.8 0 1 0 -5.6 0M184.26 237.88v5.6M181.46 240.68h5.6M183.09 240.3a2.8 2.8 0 1 0 5.6 0a2.8 2.8 0 1 0 -5.6 0M185.89 237.5v5.6M183.09 240.3h5.6M184.72 239.95a2.8 2.8 0 1 0 5.6 0a2.8 2.8 0 1 0 -5.6 0M187.52 237.15v5.6M184.72 239.95h5.6M186.35 239.64a2.8 2.8 0 1 0 5.6 0a2.8 2.8 0 1 0 -5.6 0M189.15 236.84v5.6M186.35 239.64h5.6M187.98 239.37a2.8 2.8 0 1 0 5.6 0a2.8 2.8 0 1 0 -5.6 0M190.78 236.57v5.6M187.98 239.37h5.6M189.6 239.12a2.8 2.8 0 1 0 5.6 0a2.8 2.8 0 1 0 -5.6 0M192.4 236.32v5.6M189.6 239.12h5.6M191.23 238.87a2.8 2.8 0 1 0 5.6 0a2.8 2.8 0 1 0 -5.6 0M194.03 236.07v5.6M191.23 238.87h5.6M192.86 238.64a2.8 2.8 0 1 0 5.6 0a2.8 2.8 0 1 0 -5.6 0M195.66 235.84v5.6M192.86 238.64h5.6M194.49 238.43a2.8 2.8 0 1 0 5.6 0a2.8 2.8 0 1 0 -5.6 0M197.29 235.63v5.6M194.49 238.43h5.6M196.12 238.23a2.8 2.8 0 1 0 5.6 0a2.8 2.8 0 1 0 -5.6 0M198.92 235.43v5.6M196.12 238.23h5.6M197.74 238.06a2.8 2.8 0 1 0 5.6 0a2.8 2.8 0 1 0 -5.6 0M200.54 235.26v5.6M197.74 238.06h5.6M199.37 237.92a2.8 2.8 0 1 0 5.6 0a2.8 2.8 0 1 0 -5.6 0M202.17 235.12v5.6M199.37 237.92h5.6M201 237.8a2.8 2.8 0 1 0 5.6 0a2.8 2.8 0 1 0 -5.6 0M203.8 235v5.6M201 237.8h5.6" fill="none" stroke="#ff8000" stroke-width="0.7" opacity="1"/>
<path d="M41 332.8 L42.02 332.8 L43.05 332.8 L44.07 332.8 L45.1 332.8 L46.12 332.8 L47.14 332.8 L48.17 332.8 L49.19 332.8 L50.22 332.8 L51.24 332.8 L52.26 332.79 L53.29 332.79 L54.31 332.79 L55.33 332.79 L56.36 332.79 L57.38 332.79 L58.41 332.79 L59.43 332.78 L60.45 332.78 L61.48 332.78 L62.5 332.78 L63.53 332.78 L64.55 332.77 L65.57 332.77 L66.6 332.77 L67.62 332.77 L68.65 332.76 L69.67 332.76 L70.69 332.76 L71.72 332.75 L72.74 332.75 L73.76 332.75 L74.79 332.74 L75.81 332.74 L76.84 332.73 L77.86 332.73 L78.88 332.73 L79.91 332.72 L80.93 332.72 L81.96 332.71 L82.98 332.71 L84 332.7 L85.03 332.7 L86.05 332.69 L87.08 332.69 L88.1 332.68 L89.12 332.67 L90.15 332.67 L91.17 332.66 L92.19 332.65 L93.22 332.65 L94.24 332.64 L95.27 332.63 L96.29 332.63 L97.31 332.62 L98.34 332.61 L99.36 332.6 L100.39 332.6 L101.41 332.58 L102.43 332.55 L103.46 332.52 L104.48 332.48 L105.51 332.43 L106.53 332.37 L107.55 332.3 L108.58 332.23 L109.6 332.15 L110.63 332.07 L111.65 331.98 L112.67 331.88 L113.7 331.78 L114.72 331.67 L115.74 331.56 L116.77 331.45 L117.79 331.33 L118.82 331.21 L119.84 331.07 L120.86 330.9 L121.89 330.69 L122.91 330.45 L123.94 330.2 L124.96 329.92 L125.98 329.63 L127.01 329.32 L128.03 329.02 L129.06 328.7 L130.08 328.39 L131.1 328.07 L132.13 327.72 L133.15 327.36 L134.17 326.98 L135.2 326.57 L136.22 326.13 L137.25 325.67 L138.27 325.16 L139.29 324.61 L140.32 323.99 L141.34 323.32 L142.37 322.58 L143.39 321.79 L144.41 320.93 L145.44 319.98 L146.46 318.92 L147.49 317.74 L148.51 316.42 L149.53 314.95 L150.56 313.3 L151.58 311.14 L152.61 307.41 L153.63 302.83 L154.65 298.9 L155.68 294.65 L156.7 289.37 L157.72 285.22 L158.75 281.82 L159.77 278.45 L160.8 274.83 L161.82 271.1 L162.84 266.93 L163.87 261.83 L164.89 257.25 L165.92 253.73 L166.94 251.13 L167.96 248.94 L168.99 247.33 L170.01 246.25 L171.04 245.38 L172.06 244.67 L173.08 244.11 L174.11 243.64 L175.13 243.24 L176.15 242.89 L177.18 242.57 L178.2 242.28 L179.23 242 L180.25 241.72 L181.27 241.44 L182.3 241.17 L183.32 240.91 L184.35 240.66 L185.37 240.42 L186.39 240.19 L187.42 239.97 L188.44 239.77 L189.47 239.59 L190.49 239.42 L191.51 239.26 L192.54 239.1 L193.56 238.94 L194.58 238.79 L195.61 238.65 L196.63 238.51 L197.66 238.38 L198.68 238.26 L199.7 238.15 L200.73 238.04 L201.75 237.95 L202.78 237.87 L203.8 237.8" fill="none" stroke="#ff8000" stroke-width="1.5"/>
<path d="M38.2 332.6a2.8 2.8 0 1 0 5.6 0a2.8 2.8 0 1 0 -5.6 0M41 329.8v5.6M38.2 332.6h5.6M39.83 332.6a2.8 2.8 0 1 0 5.6 0a2.8 2.8 0 1 0 -5.6 0M42.63 329.8v5.6M39.83 332.6h5.6M41.46 332.6a2.8 2.8 0 1 0 5.6 0a2.8 2.8 0 1 0 -5.6 0M44.26 329.8v5.6M41.46 332.6h5.6M43.08 332.6a2.8 2.8 0 1 0 5.6 0a2.8 2.8 0 1 0 -5.6 0M45.88 329.8v5.6M43.08 332.6h5.6M44.71 332.59a2.8 2.8 0 1 0 5.6 0a2.8 2.8 0 1 0 -5.6 0M47.51 329.79v5.6M44.71 332.59h5.6M46.34 332.59a2.8 2.8 0 1 0 5.6 0a2.8 2.8 0 1 0 -5.6 0M49.14 329.79v5.6M46.34 332.59h5.6M47.97 332.59a2.8 2.8 0 1 0 5.6 0a2.8 2.8 0 1 0 -5.6 0M50.77 329.79v5.6M47.97 332.59h5.6M49.6 332.58a2.8 2.8 0 1 0 5.6 0a2.8 2.8 0 1 0 -5.6 0M52.4 329.78v5.6M49.6 332.58h5.6M51.22 332.58a2.8 2.8 0 1 0 5.6 0a2.8 2.8 0 1 0 -5.6 0M54.02 329.78v5.6M51.22 332.58h5.6M52.85 332.57a2.8 2.8 0 1 0 5.6 0a2.8 2.8 0 1 0 -5.6 0M55.65 329.77v5.6M52.85 332.57h5.6M54.48 332.57a2.8 2.8 0 1 0 5.6 0a2.8 2.8 0 1 0 -5.6 0M57.28 329.77v5.6M54.48 332.57h5.6M56.11 332.56a2.8 2.8 0 1 0 5.6 0a2.8 2.8 0 1 0 -5.6 0M58.91 329.76v5.6M56.11 332.56h5.6M57.74 332.55a2.8 2.8 0 1 0 5.6 0a2.8 2.8 0 1 0 -5.6 0M60.54 329.75v5.6M57.74 332.55h5.6M59.36 332.54a2.8 2.8 0 1 0 5.6 0a2.8 2.8 0 1 0 -5.6 0M62.16 329.74v5.6M59.36 332.54h5.6M60.99 332.53a2.8 2.8 0 1 0 5.6 0a2.8 2.8 0 1 0 -5.6 0M63.79 329.73v5.6M60.99 332.53h5.6M62.62 332.52a2.8 2.8 0 1 0 5.6 0a2.8 2.8 0 1 0 -5.6 0M65.42 329.72v5.6M62.62 332.52h5.6M64.25 332.51a2.8 2.8 0 1 0 5.6 0a2.8 2.8 0 1 0 -5.6 0M67.05 329.71v5.6M64.25 332.51h5.6M65.88 332.5a2.8 2.8 0 1 0 5.6 0a2.8 2.8 0 1 0 -5.6 0M68.68 329.7v5.6M65.88 332.5h5.6M67.5 332.49a2.8 2.8 0 1 0 5.6 0a2.8 2.8 0 1 0 -5.6 0M70.3 329.69v5.6M67.5 332.49h5.6M69.13 332.47a2.8 2.8 0 1 0 5.6 0a2.8 2.8 0 1 0 -5.6 0M71.93 329.67v5.6M69.13 332.47h5.6M70.76 332.46a2.8 2.8 0 1 0 5.6 0a2.8 2.8 0 1 0 -5.6 0M73.56 329.66v5.6M70.76 332.46h5.6M72.39 332.45a2.8 2.8 0 1 0 5.6 0a2.8 2.8 0 1 0 -5.6 0M75.19 329.65v5.6M72.39 332.45h5.6M74.02 332.43a2.8 2.8 0 1 0 5.6 0a2.8 2.8 0 1 0 -5.6 0M76.82 329.63v5.6M74.02 332.43h5.6M75.64 332.42a2.8 2.8 0 1 0 5.6 0a2.8 2.8 0 1 0 -5.6 0M78.44 329.62v5.6M75.64 332.42h5.6M77.27 332.4a2.8 2.8 0 1 0 5.6 0a2.8 2.8 0 1 0 -5.6 0M80.07 329.6v5.6M77.27 332.4h5.6M78.9 332.38a2.8 2.8 0 1 0 5.6 0a2.8 2.8 0 1 0 -5.6 0M81.7 329.58v5.6M78.9 332.38h5.6M80.53 332.34a2.8 2.8 0 1 0 5.6 0a2.8 2.8 0 1 0 -5.6 0M83.33 329.54v5.6M80.53 332.34h5.6M82.16 332.3a2.8 2.8 0 1 0 5.6 0a2.8 2.8 0 1 0 -5.6 0M84.96 329.5v5.6M82.16 332.3h5.6M83.78 332.24a2.8 2.8 0 1 0 5.6 0a2.8 2.8 0 1 0 -5.6 0M86.58 329.44v5.6M83.78 332.24h5.6M85.41 332.17a2.8 2.8 0 1 0 5.6 0a2.8 2.8 0 1 0 -5.6 0M88.21 329.37v5.6M85.41 332.17h5.6M87.04 332.09a2.8 2.8 0 1 0 5.6 0a2.8 2.8 0 1 0 -5.6 0M89.84 329.29v5.6M87.04 332.09h5.6M88.67 332a2.8 2.8 0 1 0 5.6 0a2.8 2.8 0 1 0 -5.6 0M91.47 329.2v5.6M88.67 332h5.6M90.3 331.89a2.8 2.8 0 1 0 5.6 0a2.8 2.8 0 1 0 -5.6 0M93.1 329.09v5.6M90.3 331.89h5.6M91.92 331.77a2.8 2.8 0 1 0 5.6 0a2.8 2.8 0 1 0 -5.6 0M94.72 328.97v5.6M91.92 331.77h5.6M93.55 331.64a2.8 2.8 0 1 0 5.6 0a2.8 2.8 0 1 0 -5.6 0M96.35 328.84v5.6M93.55 331.64h5.6M95.18 331.5a2.8 2.8 0 1 0 5.6 0a2.8 2.8 0 1 0 -5.6 0M97.98 328.7v5.6M95.18 331.5h5.6M96.81 331.34a2.8 2.8 0 1 0 5.6 0a2.8 2.8 0 1 0 -5.6 0M99.61 328.54v5.6M96.81 331.34h5.6M98.44 331.09a2.8 2.8 0 1 0 5.6 0a2.8 2.8 0 1 0 -5.6 0M101.24 328.29v5.6M98.44 331.09h5.6M100.06 330.65a2.8 2.8 0 1 0 5.6 0a2.8 2.8 0 1 0 -5.6 0M102.86 327.85v5.6M100.06 330.65h5.6M101.69 330.13a2.8 2.8 0 1 0 5.6 0a2.8 2.8 0 1 0 -5.6 0M104.49 327.33v5.6M101.69 330.13h5.6M103.32 329.65a2.8 2.8 0 1 0 5.6 0a2.8 2.8 0 1 0 -5.6 0M106.12 326.85v5.6M103.32 329.65h5.6M104.95 329.26a2.8 2.8 0 1 0 5.6 0a2.8 2.8 0 1 0 -5.6 0M107.75 326.46v5.6M104.95 329.26h5.6M106.58 328.92a2.8 2.8 0 1 0 5.6 0a2.8 2.8 0 1 0 -5.6 0M109.38 326.12v5.6M106.58 328.92h5.6M108.2 328.59a2.8 2.8 0 1 0 5.6 0a2.8 2.8 0 1 0 -5.6 0M111 325.79v5.6M108.2 328.59h5.6M109.83 328.25a2.8 2.8 0 1 0 5.6 0a2.8 2.8 0 1 0 -5.6 0M112.63 325.45v5.6M109.83 328.25h5.6M111.46 327.88a2.8 2.8 0 1 0 5.6 0a2.8 2.8 0 1 0 -5.6 0M114.26 325.08v5.6M111.46 327.88h5.6M113.09 327.45a2.8 2.8 0 1 0 5.6 0a2.8 2.8 0 1 0 -5.6 0M115.89 324.65v5.6M113.09 327.45h5.6M114.72 326.95a2.8 2.8 0 1 0 5.6 0a2.8 2.8 0 1 0 -5.6 0M117.52 324.15v5.6M114.72 326.95h5.6M116.34 326.4a2.8 2.8 0 1 0 5.6 0a2.8 2.8 0 1 0 -5.6 0M119.14 323.6v5.6M116.34 326.4h5.6M117.97 325.8a2.8 2.8 0 1 0 5.6 0a2.8 2.8 0 1 0 -5.6 0M120.77 323v5.6M117.97 325.8h5.6M119.6 325.14a2.8 2.8 0 1 0 5.6 0a2.8 2.8 0 1 0 -5.6 0M122.4 322.34v5.6M119.6 325.14h5.6M121.23 324.43a2.8 2.8 0 1 0 5.6 0a2.8 2.8 0 1 0 -5.6 0M124.03 321.63v5.6M121.23 324.43h5.6M122.86 323.68a2.8 2.8 0 1 0 5.6 0a2.8 2.8 0 1 0 -5.6 0M125.66 320.88v5.6M122.86 323.68h5.6M124.48 322.87a2.8 2.8 0 1 0 5.6 0a2.8 2.8 0 1 0 -5.6 0M127.28 320.07v5.6M124.48 322.87h5.6M126.11 321.96a2.8 2.8 0 1 0 5.6 0a2.8 2.8 0 1 0 -5.6 0M128.91 319.16v5.6M126.11 321.96h5.6M127.74 320.9a2.8 2.8 0 1 0 5.6 0a2.8 2.8 0 1 0 -5.6 0M130.54 318.1v5.6M127.74 320.9h5.6M129.37 319.65a2.8 2.8 0 1 0 5.6 0a2.8 2.8 0 1 0 -5.6 0M132.17 316.85v5.6M129.37 319.65h5.6M131 318.03a2.8 2.8 0 1 0 5.6 0a2.8 2.8 0 1 0 -5.6 0M133.8 315.23v5.6M131 318.03h5.6M132.62 316.05a2.8 2.8 0 1 0 5.6 0a2.8 2.8 0 1 0 -5.6 0M135.42 313.25v5.6M132.62 316.05h5.6M134.25 313.71a2.8 2.8 0 1 0 5.6 0a2.8 2.8 0 1 0 -5.6 0M137.05 310.91v5.6M134.25 313.71h5.6M135.88 310.68a2.8 2.8 0 1 0 5.6 0a2.8 2.8 0 1 0 -5.6 0M138.68 307.88v5.6M135.88 310.68h5.6M137.51 306.75a2.8 2.8 0 1 0 5.6 0a2.8 2.8 0 1 0 -5.6 0M140.31 303.95v5.6M137.51 306.75h5.6M139.14 301.28a2.8 2.8 0 1 0 5.6 0a2.8 2.8 0 1 0 -5.6 0M141.94 298.48v5.6M139.14 301.28h5.6M140.76 294.72a2.8 2.8 0 1 0 5.6 0a2.8 2.8 0 1 0 -5.6 0M143.56 291.92v5.6M140.76 294.72h5.6M142.39 288.03a2.8 2.8 0 1 0 5.6 0a2.8 2.8 0 1 0 -5.6 0M145.19 285.23v5.6M142.39 288.03h5.6M144.02 281.98a2.8 2.8 0 1 0 5.6 0a2.8 2.8 0 1 0 -5.6 0M146.82 279.18v5.6M144.02 281.98h5.6M145.65 275.92a2.8 2.8 0 1 0 5.6 0a2.8 2.8 0 1 0 -5.6 0M148.45 273.12v5.6M145.65 275.92h5.6M147.28 269.63a2.8 2.8 0 1 0 5.6 0a2.8 2.8 0 1 0 -5.6 0M150.08 266.83v5.6M147.28 269.63h5.6M148.9 263.08a2.8 2.8 0 1 0 5.6 0a2.8 2.8 0 1 0 -5.6 0M151.7 260.28v5.6M148.9 263.08h5.6M150.53 257.36a2.8 2.8 0 1 0 5.6 0a2.8 2.8 0 1 0 -5.6 0M153.33 254.56v5.6M150.53 257.36h5.6M152.16 253.6a2.8 2.8 0 1 0 5.6 0a2.8 2.8 0 1 0 -5.6 0M154.96 250.8v5.6M152.16 253.6h5.6M153.79 249.3a2.8 2.8 0 1 0 5.6 0a2.8 2.8 0 1 0 -5.6 0M156.59 246.5v5.6M153.79 249.3h5.6M155.42 246.35a2.8 2.8 0 1 0 5.6 0a2.8 2.8 0 1 0 -5.6 0M158.22 243.55v5.6M155.42 246.35h5.6M157.04 244.61a2.8 2.8 0 1 0 5.6 0a2.8 2.8 0 1 0 -5.6 0M159.84 241.81v5.6M157.04 244.61h5.6M158.67 243.57a2.8 2.8 0 1 0 5.6 0a2.8 2.8 0 1 0 -5.6 0M161.47 240.77v5.6M158.67 243.57h5.6M160.3 242.86a2.8 2.8 0 1 0 5.6 0a2.8 2.8 0 1 0 -5.6 0M163.1 240.06v5.6M160.3 242.86h5.6M161.93 242.3a2.8 2.8 0 1 0 5.6 0a2.8 2.8 0 1 0 -5.6 0M164.73 239.5v5.6M161.93 242.3h5.6M163.56 241.78a2.8 2.8 0 1 0 5.6 0a2.8 2.8 0 1 0 -5.6 0M166.36 238.98v5.6M163.56 241.78h5.6M165.18 241.26a2.8 2.8 0 1 0 5.6 0a2.8 2.8 0 1 0 -5.6 0M167.98 238.46v5.6M165.18 241.26h5.6M166.81 240.74a2.8 2.8 0 1 0 5.6 0a2.8 2.8 0 1 0 -5.6 0M169.61 237.94v5.6M166.81 240.74h5.6M168.44 240.28a2.8 2.8 0 1 0 5.6 0a2.8 2.8 0 1 0 -5.6 0M171.24 237.48v5.6M168.44 240.28h5.6M170.07 239.88a2.8 2.8 0 1 0 5.6 0a2.8 2.8 0 1 0 -5.6 0M172.87 237.08v5.6M170.07 239.88h5.6M171.7 239.57a2.8 2.8 0 1 0 5.6 0a2.8 2.8 0 1 0 -5.6 0M174.5 236.77v5.6M171.7 239.57h5.6M173.32 239.35a2.8 2.8 0 1 0 5.6 0a2.8 2.8 0 1 0 -5.6 0M176.12 236.55v5.6M173.32 239.35h5.6M174.95 239.15a2.8 2.8 0 1 0 5.6 0a2.8 2.8 0 1 0 -5.6 0M177.75 236.35v5.6M174.95 239.15h5.6M176.58 238.95a2.8 2.8 0 1 0 5.6 0a2.8 2.8 0 1 0 -5.6 0M179.38 236.15v5.6M176.58 238.95h5.6M178.21 238.76a2.8 2.8 0 1 0 5.6 0a2.8 2.8 0 1 0 -5.6 0M181.01 235.96v5.6M178.21 238.76h5.6M179.84 238.58a2.8 2.8 0 1 0 5.6 0a2.8 2.8 0 1 0 -5.6 0M182.64 235.78v5.6M179.84 238.58h5.6M181.46 238.4a2.8 2.8 0 1 0 5.6 0a2.8 2.8 0 1 0 -5.6 0M184.26 235.6v5.6M181.46 238.4h5.6M183.09 238.24a2.8 2.8 0 1 0 5.6 0a2.8 2.8 0 1 0 -5.6 0M185.89 235.44v5.6M183.09 238.24h5.6M184.72 238.09a2.8 2.8 0 1 0 5.6 0a2.8 2.8 0 1 0 -5.6 0M187.52 235.29v5.6M184.72 238.09h5.6M186.35 237.95a2.8 2.8 0 1 0 5.6 0a2.8 2.8 0 1 0 -5.6 0M189.15 235.15v5.6M186.35 237.95h5.6M187.98 237.82a2.8 2.8 0 1 0 5.6 0a2.8 2.8 0 1 0 -5.6 0M190.78 235.02v5.6M187.98 237.82h5.6M189.6 237.7a2.8 2.8 0 1 0 5.6 0a2.8 2.8 0 1 0 -5.6 0M192.4 234.9v5.6M189.6 237.7h5.6M191.23 237.6a2.8 2.8 0 1 0 5.6 0a2.8 2.8 0 1 0 -5.6 0M194.03 234.8v5.6M191.23 237.6h5.6M192.86 237.51a2.8 2.8 0 1 0 5.6 0a2.8 2.8 0 1 0 -5.6 0M195.66 234.71v5.6M192.86 237.51h5.6M194.49 237.44a2.8 2.8 0 1 0 5.6 0a2.8 2.8 0 1 0 -5.6 0M197.29 234.64v5.6M194.49 237.44h5.6M196.12 237.38a2.8 2.8 0 1 0 5.6 0a2.8 2.8 0 1 0 -5.6 0M198.92 234.58v5.6M196.12 237.38h5.6M197.74 237.34a2.8 2.8 0 1 0 5.6 0a2.8 2.8 0 1 0 -5.6 0M200.54 234.54v5.6M197.74 237.34h5.6M199.37 237.31a2.8 2.8 0 1 0 5.6 0a2.8 2.8 0 1 0 -5.6 0M202.17 234.51v5.6M199.37 237.31h5.6M201 237.3a2.8 2.8 0 1 0 5.6 0a2.8 2.8 0 1 0 -5.6 0M203.8 234.5v5.6M201 237.3h5.6" fill="none" stroke="#008000" stroke-width="0.7" opacity="1"/>
<path d="M41 332.6 L42.02 332.6 L43.05 332.6 L44.07 332.6 L45.1 332.6 L46.12 332.6 L47.14 332.6 L48.17 332.59 L49.19 332.59 L50.22 332.59 L51.24 332.59 L52.26 332.58 L53.29 332.58 L54.31 332.58 L55.33 332.57 L56.36 332.57 L57.38 332.56 L58.41 332.56 L59.43 332.56 L60.45 332.55 L61.48 332.55 L62.5 332.54 L63.53 332.53 L64.55 332.53 L65.57 332.52 L66.6 332.51 L67.62 332.51 L68.65 332.5 L69.67 332.49 L70.69 332.48 L71.72 332.48 L72.74 332.47 L73.76 332.46 L74.79 332.45 L75.81 332.44 L76.84 332.43 L77.86 332.42 L78.88 332.41 L79.91 332.4 L80.93 332.39 L81.96 332.37 L82.98 332.35 L84 332.33 L85.03 332.3 L86.05 332.26 L87.08 332.22 L88.1 332.18 L89.12 332.13 L90.15 332.07 L91.17 332.02 L92.19 331.95 L93.22 331.88 L94.24 331.81 L95.27 331.73 L96.29 331.65 L97.31 331.56 L98.34 331.46 L99.36 331.36 L100.39 331.25 L101.41 331.06 L102.43 330.78 L103.46 330.46 L104.48 330.13 L105.51 329.81 L106.53 329.54 L107.55 329.31 L108.58 329.09 L109.6 328.87 L110.63 328.67 L111.65 328.46 L112.67 328.24 L113.7 328.01 L114.72 327.76 L115.74 327.49 L116.77 327.19 L117.79 326.86 L118.82 326.52 L119.84 326.15 L120.86 325.76 L121.89 325.35 L122.91 324.92 L123.94 324.47 L124.96 324.01 L125.98 323.53 L127.01 323.02 L128.03 322.47 L129.06 321.87 L130.08 321.22 L131.1 320.5 L132.13 319.69 L133.15 318.72 L134.17 317.6 L135.2 316.34 L136.22 314.97 L137.25 313.38 L138.27 311.5 L139.29 309.34 L140.32 306.72 L141.34 303.52 L142.37 299.55 L143.39 295.43 L144.41 291.18 L145.44 287.08 L146.46 283.28 L147.49 279.55 L148.51 275.68 L149.53 271.73 L150.56 267.78 L151.58 263.59 L152.61 259.6 L153.63 256.6 L154.65 254.3 L155.68 251.75 L156.7 249.02 L157.72 247.02 L158.75 245.7 L159.77 244.67 L160.8 243.94 L161.82 243.4 L162.84 242.96 L163.87 242.59 L164.89 242.25 L165.92 241.93 L166.94 241.59 L167.96 241.26 L168.99 240.94 L170.01 240.63 L171.04 240.33 L172.06 240.07 L173.08 239.83 L174.11 239.64 L175.13 239.48 L176.15 239.35 L177.18 239.22 L178.2 239.09 L179.23 238.97 L180.25 238.85 L181.27 238.73 L182.3 238.61 L183.32 238.5 L184.35 238.39 L185.37 238.29 L186.39 238.19 L187.42 238.1 L188.44 238.01 L189.47 237.92 L190.49 237.84 L191.51 237.76 L192.54 237.69 L193.56 237.63 L194.58 237.57 L195.61 237.51 L196.63 237.46 L197.66 237.42 L198.68 237.39 L199.7 237.36 L200.73 237.33 L201.75 237.31 L202.78 237.3 L203.8 237.3" fill="none" stroke="#008000" stroke-width="1.5"/>
<path d="M37.29 330.72h7.42L41 336.46zM41 328.4V336.46M37.29 332.4h7.42M38.92 330.72h7.42L42.63 336.46zM42.63 328.4V336.46M38.92 332.4h7.42M40.54 330.72h7.42L44.26 336.46zM44.26 328.4V336.46M40.54 332.4h7.42M42.17 330.71h7.42L45.88 336.45zM45.88 328.39V336.45M42.17 332.39h7.42M43.8 330.71h7.42L47.51 336.45zM47.51 328.39V336.45M43.8 332.39h7.42M45.43 330.7h7.42L49.14 336.44zM49.14 328.38V336.44M45.43 332.38h7.42M47.06 330.7h7.42L50.77 336.44zM50.77 328.38V336.44M47.06 332.38h7.42M48.68 330.69h7.42L52.4 336.43zM52.4 328.37V336.43M48.68 332.37h7.42M50.31 330.68h7.42L54.02 336.42zM54.02 328.36V336.42M50.31 332.36h7.42M51.94 330.67h7.42L55.65 336.41zM55.65 328.35V336.41M51.94 332.35h7.42M53.57 330.65h7.42L57.28 336.4zM57.28 328.33V336.4M53.57 332.34h7.42M55.2 330.64h7.42L58.91 336.38zM58.91 328.32V336.38M55.2 332.32h7.42M56.82 330.63h7.42L60.54 336.37zM60.54 328.31V336.37M56.82 332.31h7.42M58.45 330.61h7.42L62.16 336.35zM62.16 328.29V336.35M58.45 332.29h7.42M60.08 330.59h7.42L63.79 336.34zM63.79 328.27V336.34M60.08 332.28h7.42M61.71 330.58h7.42L65.42 336.32zM65.42 328.26V336.32M61.71 332.26h7.42M63.34 330.56h7.42L67.05 336.3zM67.05 328.24V336.3M63.34 332.24h7.42M64.96 330.54h7.42L68.68 336.28zM68.68 328.22V336.28M64.96 332.22h7.42M66.59 330.51h7.42L70.3 336.26zM70.3 328.19V336.26M66.59 332.2h7.42M68.22 330.47h7.42L71.93 336.22zM71.93 328.15V336.22M68.22 332.16h7.42M69.85 330.41h7.42L73.56 336.15zM73.56 328.09V336.15M69.85 332.09h7.42M71.48 330.33h7.42L75.19 336.07zM75.19 328.01V336.07M71.48 332.01h7.42M73.1 330.22h7.42L76.82 335.96zM76.82 327.9V335.96M73.1 331.9h7.42M74.73 330.1h7.42L78.44 335.84zM78.44 327.78V335.84M74.73 331.78h7.42M76.36 329.95h7.42L80.07 335.7zM80.07 327.63V335.7M76.36 331.64h7.42M77.99 329.8h7.42L81.7 335.54zM81.7 327.48V335.54M77.99 331.48h7.42M79.62 329.63h7.42L83.33 335.37zM83.33 327.31V335.37M79.62 331.31h7.42M81.24 329.44h7.42L84.96 335.18zM84.96 327.12V335.18M81.24 331.12h7.42M82.87 329.24h7.42L86.58 334.98zM86.58 326.92V334.98M82.87 330.92h7.42M84.5 328.96h7.42L88.21 334.7zM88.21 326.64V334.7M84.5 330.64h7.42M86.13 328.6h7.42L89.84 334.34zM89.84 326.28V334.34M86.13 330.28h7.42M87.76 328.16h7.42L91.47 333.9zM91.47 325.84V333.9M87.76 329.84h7.42M89.38 327.67h7.42L93.1 333.41zM93.1 325.35V333.41M89.38 329.35h7.42M91.01 327.14h7.42L94.72 332.88zM94.72 324.82V332.88M91.01 328.82h7.42M92.64 326.58h7.42L96.35 332.33zM96.35 324.26V332.33M92.64 328.27h7.42M94.27 326.02h7.42L97.98 331.76zM97.98 323.7V331.76M94.27 327.7h7.42M95.9 325.45h7.42L99.61 331.19zM99.61 323.13V331.19M95.9 327.13h7.42M97.52 324.88h7.42L101.24 330.62zM101.24 322.56V330.62M97.52 326.56h7.42M99.15 324.26h7.42L102.86 330.01zM102.86 321.94V330.01M99.15 325.95h7.42M100.78 323.6h7.42L104.49 329.34zM104.49 321.28V329.34M100.78 325.28h7.42M102.41 322.9h7.42L106.12 328.64zM106.12 320.58V328.64M102.41 324.58h7.42M104.04 322.17h7.42L107.75 327.91zM107.75 319.85V327.91M104.04 323.85h7.42M105.66 321.42h7.42L109.38 327.16zM109.38 319.1V327.16M105.66 323.1h7.42M107.29 320.62h7.42L111 326.36zM111 318.3V326.36M107.29 322.3h7.42M108.92 319.75h7.42L112.63 325.49zM112.63 317.43V325.49M108.92 321.43h7.42M110.55 318.79h7.42L114.26 324.54zM114.26 316.47V324.54M110.55 320.48h7.42M112.18 317.75h7.42L115.89 323.49zM115.89 315.43V323.49M112.18 319.43h7.42M113.8 316.6h7.42L117.52 322.35zM117.52 314.28V322.35M113.8 318.29h7.42M115.43 315.25h7.42L119.14 321zM119.14 312.93V321M115.43 316.94h7.42M117.06 313.58h7.42L120.77 319.33zM120.77 311.26V319.33M117.06 315.27h7.42M118.69 311.16h7.42L122.4 316.9zM122.4 308.84V316.9M118.69 312.84h7.42M120.32 307.81h7.42L124.03 313.55zM124.03 305.49V313.55M120.32 309.49h7.42M121.94 303.45h7.42L125.66 309.19zM125.66 301.13V309.19M121.94 305.13h7.42M123.57 297.93h7.42L127.28 303.67zM127.28 295.61V303.67M123.57 299.61h7.42M125.2 293.55h7.42L128.91 299.29zM128.91 291.23V299.29M125.2 295.23h7.42M126.83 289.12h7.42L130.54 294.86zM130.54 286.8V294.86M126.83 290.8h7.42M128.46 284.23h7.42L132.17 289.97zM132.17 281.91V289.97M128.46 285.91h7.42M130.08 278.83h7.42L133.8 284.57zM133.8 276.51V284.57M130.08 280.51h7.42M131.71 273.97h7.42L135.42 279.71zM135.42 271.65V279.71M131.71 275.65h7.42M133.34 269.62h7.42L137.05 275.36zM137.05 267.3V275.36M133.34 271.3h7.42M134.97 265.3h7.42L138.68 271.04zM138.68 262.98V271.04M134.97 266.98h7.42M136.6 261.03h7.42L140.31 266.77zM140.31 258.71V266.77M136.6 262.71h7.42M138.22 256.51h7.42L141.94 262.25zM141.94 254.19V262.25M138.22 258.19h7.42M139.85 250.67h7.42L143.56 256.41zM143.56 248.35V256.41M139.85 252.35h7.42M141.48 246.09h7.42L145.19 251.83zM145.19 243.77V251.83M141.48 247.77h7.42M143.11 243.9h7.42L146.82 249.64zM146.82 241.58V249.64M143.11 245.58h7.42M144.74 242.47h7.42L148.45 248.22zM148.45 240.15V248.22M144.74 244.16h7.42M146.36 241.41h7.42L150.08 247.15zM150.08 239.09V247.15M146.36 243.09h7.42M147.99 240.63h7.42L151.7 246.37zM151.7 238.31V246.37M147.99 242.31h7.42M149.62 240.05h7.42L153.33 245.79zM153.33 237.73V245.79M149.62 241.73h7.42M151.25 239.54h7.42L154.96 245.28zM154.96 237.22V245.28M151.25 241.22h7.42M152.88 239.11h7.42L156.59 244.85zM156.59 236.79V244.85M152.88 240.79h7.42M154.5 238.77h7.42L158.22 244.51zM158.22 236.45V244.51M154.5 240.45h7.42M156.13 238.53h7.42L159.84 244.28zM159.84 236.21V244.28M156.13 240.22h7.42M157.76 238.37h7.42L161.47 244.12zM161.47 236.05V244.12M157.76 240.06h7.42M159.39 238.22h7.42L163.1 243.96zM163.1 235.9V243.96M159.39 239.9h7.42M161.02 238.07h7.42L164.73 243.82zM164.73 235.75V243.82M161.02 239.76h7.42M162.64 237.93h7.42L166.36 243.68zM166.36 235.61V243.68M162.64 239.62h7.42M164.27 237.8h7.42L167.98 243.54zM167.98 235.48V243.54M164.27 239.48h7.42M165.9 237.67h7.42L169.61 243.41zM169.61 235.35V243.41M165.9 239.35h7.42M167.53 237.54h7.42L171.24 243.29zM171.24 235.22V243.29M167.53 239.23h7.42M169.16 237.43h7.42L172.87 243.17zM172.87 235.11V243.17M169.16 239.11h7.42M170.78 237.31h7.42L174.5 243.06zM174.5 234.99V243.06M170.78 239h7.42M172.41 237.21h7.42L176.12 242.95zM176.12 234.89V242.95M172.41 238.89h7.42M174.04 237.11h7.42L177.75 242.85zM177.75 234.79V242.85M174.04 238.79h7.42M175.67 237.01h7.42L179.38 242.75zM179.38 234.69V242.75M175.67 238.69h7.42M177.3 236.92h7.42L181.01 242.67zM181.01 234.6V242.67M177.3 238.61h7.42M178.92 236.84h7.42L182.64 242.58zM182.64 234.52V242.58M178.92 238.52h7.42M180.55 236.76h7.42L184.26 242.51zM184.26 234.44V242.51M180.55 238.45h7.42M182.18 236.69h7.42L185.89 242.43zM185.89 234.37V242.43M182.18 238.37h7.42M183.81 236.63h7.42L187.52 242.37zM187.52 234.31V242.37M183.81 238.31h7.42M185.44 236.57h7.42L189.15 242.31zM189.15 234.25V242.31M185.44 238.25h7.42M187.06 236.52h7.42L190.78 242.26zM190.78 234.2V242.26M187.06 238.2h7.42M188.69 236.47h7.42L192.4 242.21zM192.4 234.15V242.21M188.69 238.15h7.42M190.32 236.43h7.42L194.03 242.17zM194.03 234.11V242.17M190.32 238.11h7.42M191.95 236.4h7.42L195.66 242.14zM195.66 234.08V242.14M191.95 238.08h7.42M193.58 236.37h7.42L197.29 242.11zM197.29 234.05V242.11M193.58 238.05h7.42M195.2 236.35h7.42L198.92 242.09zM198.92 234.03V242.09M195.2 238.03h7.42M196.83 236.33h7.42L200.54 242.07zM200.54 234.01V242.07M196.83 238.01h7.42M198.46 236.32h7.42L202.17 242.06zM202.17 234V242.06M198.46 238h7.42M200.09 236.32h7.42L203.8 242.06zM203.8 234V242.06M200.09 238h7.42" fill="none" stroke="#0000ff" stroke-width="0.7" opacity="1"/>
<path d="M41 332.4 L42.02 332.4 L43.05 332.4 L44.07 332.4 L45.1 332.4 L46.12 332.39 L47.14 332.39 L48.17 332.39 L49.19 332.38 L50.22 332.38 L51.24 332.37 L52.26 332.37 L53.29 332.36 L54.31 332.36 L55.33 332.35 L56.36 332.34 L57.38 332.34 L58.41 332.33 L59.43 332.32 L60.45 332.31 L61.48 332.3 L62.5 332.29 L63.53 332.28 L64.55 332.27 L65.57 332.26 L66.6 332.24 L67.62 332.23 L68.65 332.22 L69.67 332.2 L70.69 332.19 L71.72 332.16 L72.74 332.13 L73.76 332.08 L74.79 332.03 L75.81 331.97 L76.84 331.9 L77.86 331.82 L78.88 331.74 L79.91 331.65 L80.93 331.55 L81.96 331.45 L82.98 331.35 L84 331.23 L85.03 331.12 L86.05 330.99 L87.08 330.85 L88.1 330.67 L89.12 330.45 L90.15 330.2 L91.17 329.93 L92.19 329.63 L93.22 329.31 L94.24 328.98 L95.27 328.64 L96.29 328.29 L97.31 327.93 L98.34 327.57 L99.36 327.22 L100.39 326.87 L101.41 326.5 L102.43 326.11 L103.46 325.71 L104.48 325.29 L105.51 324.85 L106.53 324.4 L107.55 323.94 L108.58 323.47 L109.6 322.99 L110.63 322.49 L111.65 321.97 L112.67 321.41 L113.7 320.82 L114.72 320.19 L115.74 319.53 L116.77 318.83 L117.79 318.07 L118.82 317.23 L119.84 316.27 L120.86 315.16 L121.89 313.73 L122.91 311.85 L123.94 309.7 L124.96 307.12 L125.98 304.12 L127.01 300.56 L128.03 297.38 L129.06 294.85 L130.08 292.09 L131.1 289.17 L132.13 286.04 L133.15 282.65 L134.17 279.3 L135.2 276.28 L136.22 273.49 L137.25 270.79 L138.27 268.08 L139.29 265.37 L140.32 262.69 L141.34 259.9 L142.37 256.82 L143.39 253.01 L144.41 249.48 L145.44 247.37 L146.46 245.98 L147.49 244.93 L148.51 244.11 L149.53 243.42 L150.56 242.83 L151.58 242.36 L152.61 241.98 L153.63 241.63 L154.65 241.31 L155.68 241.02 L156.7 240.76 L157.72 240.54 L158.75 240.36 L159.77 240.22 L160.8 240.12 L161.82 240.02 L162.84 239.93 L163.87 239.83 L164.89 239.74 L165.92 239.65 L166.94 239.57 L167.96 239.48 L168.99 239.4 L170.01 239.32 L171.04 239.24 L172.06 239.17 L173.08 239.09 L174.11 239.02 L175.13 238.95 L176.15 238.89 L177.18 238.82 L178.2 238.76 L179.23 238.7 L180.25 238.65 L181.27 238.59 L182.3 238.54 L183.32 238.49 L184.35 238.44 L185.37 238.4 L186.39 238.35 L187.42 238.31 L188.44 238.28 L189.47 238.24 L190.49 238.21 L191.51 238.18 L192.54 238.15 L193.56 238.12 L194.58 238.1 L195.61 238.08 L196.63 238.06 L197.66 238.04 L198.68 238.03 L199.7 238.02 L200.73 238.01 L201.75 238 L202.78 238 L203.8 238" fill="none" stroke="#0000ff" stroke-width="1.5"/>
<path d="M37.29 333.28h7.42L41 327.54zM41 335.6V327.54M37.29 331.6h7.42M38.92 333.28h7.42L42.63 327.54zM42.63 335.6V327.54M38.92 331.6h7.42M40.54 333.27h7.42L44.26 327.53zM44.26 335.59V327.53M40.54 331.59h7.42M42.17 333.26h7.42L45.88 327.52zM45.88 335.58V327.52M42.17 331.58h7.42M43.8 333.25h7.42L47.51 327.51zM47.51 335.57V327.51M43.8 331.57h7.42M45.43 333.23h7.42L49.14 327.49zM49.14 335.55V327.49M45.43 331.55h7.42M47.06 333.21h7.42L50.77 327.47zM50.77 335.53V327.47M47.06 331.53h7.42M48.68 333.19h7.42L52.4 327.44zM52.4 335.51V327.44M48.68 331.5h7.42M50.31 333.16h7.42L54.02 327.41zM54.02 335.48V327.41M50.31 331.47h7.42M51.94 333.12h7.42L55.65 327.38zM55.65 335.44V327.38M51.94 331.44h7.42M53.57 333.09h7.42L57.28 327.35zM57.28 335.41V327.35M53.57 331.41h7.42M55.2 333.05h7.42L58.91 327.31zM58.91 335.37V327.31M55.2 331.37h7.42M56.82 333h7.42L60.54 327.26zM60.54 335.32V327.26M56.82 331.32h7.42M58.45 332.96h7.42L62.16 327.22zM62.16 335.28V327.22M58.45 331.28h7.42M60.08 332.91h7.42L63.79 327.16zM63.79 335.23V327.16M60.08 331.22h7.42M61.71 332.85h7.42L65.42 327.11zM65.42 335.17V327.11M61.71 331.17h7.42M63.34 332.79h7.42L67.05 327.05zM67.05 335.11V327.05M63.34 331.11h7.42M64.96 332.73h7.42L68.68 326.99zM68.68 335.05V326.99M64.96 331.05h7.42M66.59 332.67h7.42L70.3 326.93zM70.3 334.99V326.93M66.59 330.99h7.42M68.22 332.56h7.42L71.93 326.82zM71.93 334.88V326.82M68.22 330.88h7.42M69.85 332.4h7.42L73.56 326.66zM73.56 334.72V326.66M69.85 330.72h7.42M71.48 332.19h7.42L75.19 326.44zM75.19 334.51V326.44M71.48 330.5h7.42M73.1 331.93h7.42L76.82 326.19zM76.82 334.25V326.19M73.1 330.25h7.42M74.73 331.64h7.42L78.44 325.89zM78.44 333.96V325.89M74.73 329.95h7.42M76.36 331.31h7.42L80.07 325.57zM80.07 333.63V325.57M76.36 329.63h7.42M77.99 330.95h7.42L81.7 325.21zM81.7 333.27V325.21M77.99 329.27h7.42M79.62 330.58h7.42L83.33 324.84zM83.33 332.9V324.84M79.62 328.9h7.42M81.24 330.19h7.42L84.96 324.45zM84.96 332.51V324.45M81.24 328.51h7.42M82.87 329.75h7.42L86.58 324.01zM86.58 332.07V324.01M82.87 328.07h7.42M84.5 329.21h7.42L88.21 323.47zM88.21 331.53V323.47M84.5 327.53h7.42M86.13 328.59h7.42L89.84 322.84zM89.84 330.91V322.84M86.13 326.9h7.42M87.76 327.89h7.42L91.47 322.15zM91.47 330.21V322.15M87.76 326.21h7.42M89.38 327.13h7.42L93.1 321.39zM93.1 329.45V321.39M89.38 325.45h7.42M91.01 326.32h7.42L94.72 320.58zM94.72 328.64V320.58M91.01 324.64h7.42M92.64 325.47h7.42L96.35 319.72zM96.35 327.79V319.72M92.64 323.78h7.42M94.27 324.48h7.42L97.98 318.73zM97.98 326.8V318.73M94.27 322.79h7.42M95.9 323.23h7.42L99.61 317.49zM99.61 325.55V317.49M95.9 321.55h7.42M97.52 321.47h7.42L101.24 315.73zM101.24 323.79V315.73M97.52 319.79h7.42M99.15 318.99h7.42L102.86 313.24zM102.86 321.31V313.24M99.15 317.3h7.42M100.78 316.16h7.42L104.49 310.42zM104.49 318.48V310.42M100.78 314.48h7.42M102.41 312.89h7.42L106.12 307.15zM106.12 315.21V307.15M102.41 311.21h7.42M104.04 309.05h7.42L107.75 303.31zM107.75 311.37V303.31M104.04 307.37h7.42M105.66 304.36h7.42L109.38 298.61zM109.38 306.68V298.61M105.66 302.67h7.42M107.29 299.17h7.42L111 293.43zM111 301.49V293.43M107.29 297.49h7.42M108.92 294.78h7.42L112.63 289.04zM112.63 297.1V289.04M108.92 293.1h7.42M110.55 290.87h7.42L114.26 285.13zM114.26 293.19V285.13M110.55 289.19h7.42M112.18 285.96h7.42L115.89 280.21zM115.89 288.28V280.21M112.18 284.27h7.42M113.8 280.54h7.42L117.52 274.8zM117.52 282.86V274.8M113.8 278.86h7.42M115.43 275.85h7.42L119.14 270.11zM119.14 278.17V270.11M115.43 274.17h7.42M117.06 271.53h7.42L120.77 265.78zM120.77 273.85V265.78M117.06 269.84h7.42M118.69 267.53h7.42L122.4 261.78zM122.4 269.85V261.78M118.69 265.84h7.42M120.32 263.8h7.42L124.03 258.06zM124.03 266.12V258.06M120.32 262.12h7.42M121.94 259.66h7.42L125.66 253.91zM125.66 261.98V253.91M121.94 257.97h7.42M123.57 256.26h7.42L127.28 250.52zM127.28 258.58V250.52M123.57 254.58h7.42M125.2 253.8h7.42L128.91 248.05zM128.91 256.12V248.05M125.2 252.11h7.42M126.83 251.61h7.42L130.54 245.86zM130.54 253.93V245.86M126.83 249.92h7.42M128.46 249.64h7.42L132.17 243.89zM132.17 251.96V243.89M128.46 247.95h7.42M130.08 247.77h7.42L133.8 242.03zM133.8 250.09V242.03M130.08 246.09h7.42M131.71 245.94h7.42L135.42 240.2zM135.42 248.26V240.2M131.71 244.26h7.42M133.34 244.44h7.42L137.05 238.7zM137.05 246.76V238.7M133.34 242.76h7.42M134.97 243.27h7.42L138.68 237.53zM138.68 245.59V237.53M134.97 241.59h7.42M136.6 242.28h7.42L140.31 236.53zM140.31 244.6V236.53M136.6 240.59h7.42M138.22 241.51h7.42L141.94 235.77zM141.94 243.83V235.77M138.22 239.83h7.42M139.85 240.88h7.42L143.56 235.14zM143.56 243.2V235.14M139.85 239.2h7.42M141.48 240.3h7.42L145.19 234.56zM145.19 242.62V234.56M141.48 238.62h7.42M143.11 239.81h7.42L146.82 234.07zM146.82 242.13V234.07M143.11 238.13h7.42M144.74 239.46h7.42L148.45 233.71zM148.45 241.78V233.71M144.74 237.77h7.42M146.36 239.28h7.42L150.08 233.54zM150.08 241.6V233.54M146.36 237.6h7.42M147.99 239.2h7.42L151.7 233.45zM151.7 241.52V233.45M147.99 237.51h7.42M149.62 239.12h7.42L153.33 233.37zM153.33 241.44V233.37M149.62 237.43h7.42M151.25 239.04h7.42L154.96 233.3zM154.96 241.36V233.3M151.25 237.36h7.42M152.88 238.97h7.42L156.59 233.23zM156.59 241.29V233.23M152.88 237.29h7.42M154.5 238.9h7.42L158.22 233.16zM158.22 241.22V233.16M154.5 237.22h7.42M156.13 238.83h7.42L159.84 233.09zM159.84 241.15V233.09M156.13 237.15h7.42M157.76 238.77h7.42L161.47 233.03zM161.47 241.09V233.03M157.76 237.09h7.42M159.39 238.71h7.42L163.1 232.97zM163.1 241.03V232.97M159.39 237.03h7.42M161.02 238.66h7.42L164.73 232.91zM164.73 240.98V232.91M161.02 236.97h7.42M162.64 238.6h7.42L166.36 232.86zM166.36 240.92V232.86M162.64 236.92h7.42M164.27 238.55h7.42L167.98 232.81zM167.98 240.87V232.81M164.27 236.87h7.42M165.9 238.51h7.42L169.61 232.76zM169.61 240.83V232.76M165.9 236.82h7.42M167.53 238.46h7.42L171.24 232.72zM171.24 240.78V232.72M167.53 236.78h7.42M169.16 238.42h7.42L172.87 232.68zM172.87 240.74V232.68M169.16 236.74h7.42M170.78 238.38h7.42L174.5 232.64zM174.5 240.7V232.64M170.78 236.7h7.42M172.41 238.35h7.42L176.12 232.6zM176.12 240.67V232.6M172.41 236.66h7.42M174.04 238.31h7.42L177.75 232.57zM177.75 240.63V232.57M174.04 236.63h7.42M175.67 238.28h7.42L179.38 232.54zM179.38 240.6V232.54M175.67 236.6h7.42M177.3 238.25h7.42L181.01 232.51zM181.01 240.57V232.51M177.3 236.57h7.42M178.92 238.23h7.42L182.64 232.49zM182.64 240.55V232.49M178.92 236.55h7.42M180.55 238.21h7.42L184.26 232.46zM184.26 240.53V232.46M180.55 236.52h7.42M182.18 238.18h7.42L185.89 232.44zM185.89 240.5V232.44M182.18 236.5h7.42M183.81 238.17h7.42L187.52 232.42zM187.52 240.49V232.42M183.81 236.48h7.42M185.44 238.15h7.42L189.15 232.41zM189.15 240.47V232.41M185.44 236.47h7.42M187.06 238.13h7.42L190.78 232.39zM190.78 240.45V232.39M187.06 236.45h7.42M188.69 238.12h7.42L192.4 232.38zM192.4 240.44V232.38M188.69 236.44h7.42M190.32 238.11h7.42L194.03 232.37zM194.03 240.43V232.37M190.32 236.43h7.42M191.95 238.1h7.42L195.66 232.36zM195.66 240.42V232.36M191.95 236.42h7.42M193.58 238.09h7.42L197.29 232.35zM197.29 240.41V232.35M193.58 236.41h7.42M195.2 238.09h7.42L198.92 232.35zM198.92 240.41V232.35M195.2 236.41h7.42M196.83 238.08h7.42L200.54 232.34zM200.54 240.4V232.34M196.83 236.4h7.42M198.46 238.08h7.42L202.17 232.34zM202.17 240.4V232.34M198.46 236.4h7.42M200.09 238.08h7.42L203.8 232.34zM203.8 240.4V232.34M200.09 236.4h7.42" fill="none" stroke="#8000ff" stroke-width="0.7" opacity="1"/>
<path d="M41 331.6 L42.02 331.6 L43.05 331.6 L44.07 331.59 L45.1 331.59 L46.12 331.58 L47.14 331.57 L48.17 331.56 L49.19 331.55 L50.22 331.54 L51.24 331.52 L52.26 331.51 L53.29 331.49 L54.31 331.47 L55.33 331.45 L56.36 331.43 L57.38 331.4 L58.41 331.38 L59.43 331.35 L60.45 331.32 L61.48 331.3 L62.5 331.26 L63.53 331.23 L64.55 331.2 L65.57 331.17 L66.6 331.13 L67.62 331.09 L68.65 331.05 L69.67 331.01 L70.69 330.97 L71.72 330.9 L72.74 330.81 L73.76 330.69 L74.79 330.56 L75.81 330.41 L76.84 330.24 L77.86 330.06 L78.88 329.87 L79.91 329.66 L80.93 329.44 L81.96 329.22 L82.98 328.98 L84 328.74 L85.03 328.49 L86.05 328.22 L87.08 327.91 L88.1 327.57 L89.12 327.19 L90.15 326.78 L91.17 326.34 L92.19 325.87 L93.22 325.39 L94.24 324.88 L95.27 324.36 L96.29 323.82 L97.31 323.22 L98.34 322.55 L99.36 321.76 L100.39 320.82 L101.41 319.55 L102.43 318.01 L103.46 316.29 L104.48 314.5 L105.51 312.51 L106.53 310.3 L107.55 307.87 L108.58 305.06 L109.6 302 L110.63 298.71 L111.65 295.59 L112.67 293 L113.7 290.59 L114.72 287.94 L115.74 284.75 L116.77 281.29 L117.79 278.02 L118.82 275.08 L119.84 272.28 L120.86 269.61 L121.89 267.05 L122.91 264.67 L123.94 262.33 L124.96 259.83 L125.98 257.14 L127.01 255.06 L128.03 253.39 L129.06 251.92 L130.08 250.52 L131.1 249.22 L132.13 248 L133.15 246.83 L134.17 245.65 L135.2 244.5 L136.22 243.47 L137.25 242.61 L138.27 241.87 L139.29 241.19 L140.32 240.59 L141.34 240.08 L142.37 239.66 L143.39 239.27 L144.41 238.89 L145.44 238.54 L146.46 238.23 L147.49 237.97 L148.51 237.76 L149.53 237.63 L150.56 237.57 L151.58 237.52 L152.61 237.47 L153.63 237.42 L154.65 237.37 L155.68 237.33 L156.7 237.28 L157.72 237.24 L158.75 237.19 L159.77 237.15 L160.8 237.11 L161.82 237.08 L162.84 237.04 L163.87 237 L164.89 236.97 L165.92 236.93 L166.94 236.9 L167.96 236.87 L168.99 236.84 L170.01 236.81 L171.04 236.79 L172.06 236.76 L173.08 236.73 L174.11 236.71 L175.13 236.69 L176.15 236.66 L177.18 236.64 L178.2 236.62 L179.23 236.6 L180.25 236.59 L181.27 236.57 L182.3 236.55 L183.32 236.54 L184.35 236.52 L185.37 236.51 L186.39 236.5 L187.42 236.48 L188.44 236.47 L189.47 236.46 L190.49 236.45 L191.51 236.45 L192.54 236.44 L193.56 236.43 L194.58 236.43 L195.61 236.42 L196.63 236.41 L197.66 236.41 L198.68 236.41 L199.7 236.4 L200.73 236.4 L201.75 236.4 L202.78 236.4 L203.8 236.4" fill="none" stroke="#8000ff" stroke-width="1.5"/>
<path d="M36.65 325.82L45.35 334.18M45.35 325.82L36.65 334.18M38.28 325.81L46.98 334.16M46.98 325.81L38.28 334.16M39.91 325.76L48.61 334.12M48.61 325.76L39.91 334.12M41.53 325.7L50.23 334.05M50.23 325.7L41.53 334.05M43.16 325.61L51.86 333.96M51.86 325.61L43.16 333.96M44.79 325.5L53.49 333.85M53.49 325.5L44.79 333.85M46.42 325.38L55.12 333.73M55.12 325.38L46.42 333.73M48.05 325.25L56.75 333.6M56.75 325.25L48.05 333.6M49.67 325.11L58.37 333.46M58.37 325.11L49.67 333.46M51.3 324.96L60 333.32M60 324.96L51.3 333.32M52.93 324.78L61.63 333.13M61.63 324.78L52.93 333.13M54.56 324.55L63.26 332.9M63.26 324.55L54.56 332.9M56.19 324.29L64.89 332.64M64.89 324.29L56.19 332.64M57.81 323.99L66.51 332.34M66.51 323.99L57.81 332.34M59.44 323.67L68.14 332.02M68.14 323.67L59.44 332.02M61.07 323.33L69.77 331.69M69.77 323.33L61.07 331.69M62.7 322.94L71.4 331.3M71.4 322.94L62.7 331.3M64.33 322.49L73.03 330.85M73.03 322.49L64.33 330.85M65.95 321.99L74.65 330.35M74.65 321.99L65.95 330.35M67.58 321.45L76.28 329.8M76.28 321.45L67.58 329.8M69.21 320.85L77.91 329.2M77.91 320.85L69.21 329.2M70.84 320.19L79.54 328.54M79.54 320.19L70.84 328.54M72.47 319.47L81.17 327.82M81.17 319.47L72.47 327.82M74.09 318.67L82.79 327.02M82.79 318.67L74.09 327.02M75.72 317.81L84.42 326.16M84.42 317.81L75.72 326.16M77.35 316.84L86.05 325.19M86.05 316.84L77.35 325.19M78.98 315.71L87.68 324.06M87.68 315.71L78.98 324.06M80.61 314.46L89.31 322.81M89.31 314.46L80.61 322.81M82.23 313.13L90.93 321.48M90.93 313.13L82.23 321.48M83.86 311.63L92.56 319.98M92.56 311.63L83.86 319.98M85.49 309.74L94.19 318.1M94.19 309.74L85.49 318.1M87.12 306.55L95.82 314.91M95.82 306.55L87.12 314.91M88.75 301.72L97.45 310.07M97.45 301.72L88.75 310.07M90.37 296.75L99.07 305.1M99.07 296.75L90.37 305.1M92 291.42L100.7 299.77M100.7 291.42L92 299.77M93.63 287.67L102.33 296.02M102.33 287.67L93.63 296.02M95.26 283.85L103.96 292.2M103.96 283.85L95.26 292.2M96.89 279.69L105.59 288.04M105.59 279.69L96.89 288.04M98.51 275.58L107.21 283.93M107.21 275.58L98.51 283.93M100.14 271.8L108.84 280.15M108.84 271.8L100.14 280.15M101.77 268.27L110.47 276.62M110.47 268.27L101.77 276.62M103.4 264.8L112.1 273.15M112.1 264.8L103.4 273.15M105.03 261.27L113.73 269.62M113.73 261.27L105.03 269.62M106.65 257.72L115.35 266.07M115.35 257.72L106.65 266.07M108.28 254.14L116.98 262.49M116.98 254.14L108.28 262.49M109.91 250.79L118.61 259.14M118.61 250.79L109.91 259.14M111.54 247.58L120.24 255.93M120.24 247.58L111.54 255.93M113.17 244.68L121.87 253.03M121.87 244.68L113.17 253.03M114.79 242.25L123.49 250.6M123.49 242.25L114.79 250.6M116.42 240.08L125.12 248.43M125.12 240.08L116.42 248.43M118.05 238.22L126.75 246.57M126.75 238.22L118.05 246.57M119.68 236.65L128.38 245M128.38 236.65L119.68 245M121.31 235.22L130.01 243.57M130.01 235.22L121.31 243.57M122.93 234.13L131.63 242.49M131.63 234.13L122.93 242.49M124.56 233.52L133.26 241.88M133.26 233.52L124.56 241.88M126.19 233.06L134.89 241.41M134.89 233.06L126.19 241.41M127.82 232.7L136.52 241.05M136.52 232.7L127.82 241.05M129.45 232.44L138.15 240.8M138.15 232.44L129.45 240.8M131.07 232.29L139.77 240.65M139.77 232.29L131.07 240.65M132.7 232.18L141.4 240.53M141.4 232.18L132.7 240.53M134.33 232.08L143.03 240.44M143.03 232.08L134.33 240.44M135.96 232L144.66 240.35M144.66 232L135.96 240.35M137.59 231.92L146.29 240.28M146.29 231.92L137.59 240.28M139.21 231.86L147.91 240.21M147.91 231.86L139.21 240.21M140.84 231.81L149.54 240.16M149.54 231.81L140.84 240.16M142.47 231.77L151.17 240.12M151.17 231.77L142.47 240.12M144.1 231.74L152.8 240.09M152.8 231.74L144.1 240.09M145.73 231.72L154.43 240.08M154.43 231.72L145.73 240.08M147.35 231.71L156.05 240.06M156.05 231.71L147.35 240.06M148.98 231.7L157.68 240.05M157.68 231.7L148.98 240.05M150.61 231.69L159.31 240.04M159.31 231.69L150.61 240.04M152.24 231.67L160.94 240.03M160.94 231.67L152.24 240.03M153.87 231.66L162.57 240.02M162.57 231.66L153.87 240.02M155.49 231.65L164.19 240.01M164.19 231.65L155.49 240.01M157.12 231.64L165.82 240M165.82 231.64L157.12 240M158.75 231.63L167.45 239.99M167.45 231.63L158.75 239.99M160.38 231.62L169.08 239.98M169.08 231.62L160.38 239.98M162.01 231.62L170.71 239.97M170.71 231.62L162.01 239.97M163.63 231.61L172.33 239.96M172.33 231.61L163.63 239.96M165.26 231.6L173.96 239.95M173.96 231.6L165.26 239.95M166.89 231.59L175.59 239.94M175.59 231.59L166.89 239.94M168.52 231.59L177.22 239.94M177.22 231.59L168.52 239.94M170.15 231.58L178.85 239.93M178.85 231.58L170.15 239.93M171.77 231.57L180.47 239.92M180.47 231.57L171.77 239.92M173.4 231.57L182.1 239.92M182.1 231.57L173.4 239.92M175.03 231.56L183.73 239.91M183.73 231.56L175.03 239.91M176.66 231.56L185.36 239.91M185.36 231.56L176.66 239.91M178.29 231.55L186.99 239.9M186.99 231.55L178.29 239.9M179.91 231.55L188.61 239.9M188.61 231.55L179.91 239.9M181.54 231.54L190.24 239.9M190.24 231.54L181.54 239.9M183.17 231.54L191.87 239.89M191.87 231.54L183.17 239.89M184.8 231.54L193.5 239.89M193.5 231.54L184.8 239.89M186.43 231.53L195.13 239.89M195.13 231.53L186.43 239.89M188.05 231.53L196.75 239.88M196.75 231.53L188.05 239.88M189.68 231.53L198.38 239.88M198.38 231.53L189.68 239.88M191.31 231.53L200.01 239.88M200.01 231.53L191.31 239.88M192.94 231.53L201.64 239.88M201.64 231.53L192.94 239.88M194.57 231.53L203.27 239.88M203.27 231.53L194.57 239.88M196.19 231.52L204.89 239.88M204.89 231.52L196.19 239.88M197.82 231.52L206.52 239.88M206.52 231.52L197.82 239.88M199.45 231.52L208.15 239.88M208.15 231.52L199.45 239.88" fill="none" stroke="#ff00ff" stroke-width="0.85" opacity="1"/>
<path d="M41 330 L42.02 329.99 L43.05 329.98 L44.07 329.95 L45.1 329.91 L46.12 329.86 L47.14 329.8 L48.17 329.74 L49.19 329.67 L50.22 329.6 L51.24 329.52 L52.26 329.43 L53.29 329.35 L54.31 329.26 L55.33 329.17 L56.36 329.06 L57.38 328.94 L58.41 328.8 L59.43 328.65 L60.45 328.48 L61.48 328.29 L62.5 328.1 L63.53 327.9 L64.55 327.69 L65.57 327.48 L66.6 327.23 L67.62 326.97 L68.65 326.68 L69.67 326.37 L70.69 326.04 L71.72 325.7 L72.74 325.34 L73.76 324.95 L74.79 324.54 L75.81 324.1 L76.84 323.63 L77.86 323.14 L78.88 322.62 L79.91 322.07 L80.93 321.49 L81.96 320.85 L82.98 320.14 L84 319.38 L85.03 318.58 L86.05 317.75 L87.08 316.88 L88.1 315.92 L89.12 314.81 L90.15 313.49 L91.17 311.6 L92.19 308.31 L93.22 305.58 L94.24 302.6 L95.27 298.99 L96.29 295.76 L97.31 293.3 L98.34 291.06 L99.36 288.63 L100.39 286.05 L101.41 283.42 L102.43 280.82 L103.46 278.33 L104.48 276 L105.51 273.76 L106.53 271.57 L107.55 269.39 L108.58 267.18 L109.6 264.95 L110.63 262.73 L111.65 260.47 L112.67 258.23 L113.7 256.1 L114.72 254.04 L115.74 252.03 L116.77 250.13 L117.79 248.42 L118.82 246.89 L119.84 245.46 L120.86 244.14 L121.89 242.94 L122.91 241.88 L123.94 240.91 L124.96 239.98 L125.98 239.14 L127.01 238.46 L128.03 237.99 L129.06 237.66 L130.08 237.36 L131.1 237.1 L132.13 236.88 L133.15 236.71 L134.17 236.58 L135.2 236.49 L136.22 236.41 L137.25 236.35 L138.27 236.28 L139.29 236.23 L140.32 236.17 L141.34 236.13 L142.37 236.08 L143.39 236.04 L144.41 236.01 L145.44 235.98 L146.46 235.95 L147.49 235.93 L148.51 235.92 L149.53 235.9 L150.56 235.9 L151.58 235.89 L152.61 235.88 L153.63 235.87 L154.65 235.86 L155.68 235.86 L156.7 235.85 L157.72 235.84 L158.75 235.84 L159.77 235.83 L160.8 235.82 L161.82 235.82 L162.84 235.81 L163.87 235.81 L164.89 235.8 L165.92 235.79 L166.94 235.79 L167.96 235.78 L168.99 235.78 L170.01 235.77 L171.04 235.77 L172.06 235.76 L173.08 235.76 L174.11 235.76 L175.13 235.75 L176.15 235.75 L177.18 235.74 L178.2 235.74 L179.23 235.74 L180.25 235.73 L181.27 235.73 L182.3 235.73 L183.32 235.73 L184.35 235.72 L185.37 235.72 L186.39 235.72 L187.42 235.72 L188.44 235.71 L189.47 235.71 L190.49 235.71 L191.51 235.71 L192.54 235.71 L193.56 235.71 L194.58 235.71 L195.61 235.7 L196.63 235.7 L197.66 235.7 L198.68 235.7 L199.7 235.7 L200.73 235.7 L201.75 235.7 L202.78 235.7 L203.8 235.7" fill="none" stroke="#ff00ff" stroke-width="1.5"/>
</g>
<rect x="40.5" y="222.35" width="163.3" height="1.5" fill="#c4c4c4"/>
<rect x="40" y="222.35" width="2" height="122.65" fill="#c0c0c0"/>
<rect x="203.3" y="222.35" width="1" height="122.65" fill="#8a8a8a"/>
<rect x="40" y="344" width="164.3" height="1" fill="#8a8a8a"/>
<line x1="41" y1="335.83" x2="43" y2="335.83" stroke="#333" stroke-width="0.8" />
<text x="38.3" y="340.03" font-size="13" text-anchor="end" fill="#111" font-weight="normal" font-style="normal" >-6</text>
<line x1="41" y1="309.81" x2="43" y2="309.81" stroke="#333" stroke-width="0.8" />
<text x="38.3" y="314.01" font-size="13" text-anchor="end" fill="#111" font-weight="normal" font-style="normal" >-3</text>
<line x1="41" y1="283.8" x2="43" y2="283.8" stroke="#333" stroke-width="0.8" />
<text x="38.3" y="288" font-size="13" text-anchor="end" fill="#111" font-weight="normal" font-style="normal" >0</text>
<line x1="41" y1="257.79" x2="43" y2="257.79" stroke="#333" stroke-width="0.8" />
<text x="38.3" y="261.99" font-size="13" text-anchor="end" fill="#111" font-weight="normal" font-style="normal" >3</text>
<line x1="41" y1="231.77" x2="43" y2="231.77" stroke="#333" stroke-width="0.8" />
<text x="38.3" y="235.97" font-size="13" text-anchor="end" fill="#111" font-weight="normal" font-style="normal" >6</text>
<line x1="41" y1="322.82" x2="42.2" y2="322.82" stroke="#333" stroke-width="0.8" />
<line x1="41" y1="296.81" x2="42.2" y2="296.81" stroke="#333" stroke-width="0.8" />
<line x1="41" y1="270.79" x2="42.2" y2="270.79" stroke="#333" stroke-width="0.8" />
<line x1="41" y1="244.78" x2="42.2" y2="244.78" stroke="#333" stroke-width="0.8" />
<line x1="57.28" y1="344.5" x2="57.28" y2="342.5" stroke="#333" stroke-width="0.8" />
<text x="57.28" y="358.5" font-size="13" text-anchor="middle" fill="#111" font-weight="normal" font-style="normal" >12</text>
<line x1="89.84" y1="344.5" x2="89.84" y2="342.5" stroke="#333" stroke-width="0.8" />
<text x="89.84" y="358.5" font-size="13" text-anchor="middle" fill="#111" font-weight="normal" font-style="normal" >14</text>
<line x1="122.4" y1="344.5" x2="122.4" y2="342.5" stroke="#333" stroke-width="0.8" />
<text x="122.4" y="358.5" font-size="13" text-anchor="middle" fill="#111" font-weight="normal" font-style="normal" >16</text>
<line x1="154.96" y1="344.5" x2="154.96" y2="342.5" stroke="#333" stroke-width="0.8" />
<text x="154.96" y="358.5" font-size="13" text-anchor="middle" fill="#111" font-weight="normal" font-style="normal" >18</text>
<line x1="187.52" y1="344.5" x2="187.52" y2="342.5" stroke="#333" stroke-width="0.8" />
<text x="187.52" y="358.5" font-size="13" text-anchor="middle" fill="#111" font-weight="normal" font-style="normal" >20</text>
<line x1="73.56" y1="344.5" x2="73.56" y2="343.3" stroke="#333" stroke-width="0.8" />
<line x1="106.12" y1="344.5" x2="106.12" y2="343.3" stroke="#333" stroke-width="0.8" />
<line x1="138.68" y1="344.5" x2="138.68" y2="343.3" stroke="#333" stroke-width="0.8" />
<line x1="171.24" y1="344.5" x2="171.24" y2="343.3" stroke="#333" stroke-width="0.8" />
<text x="118.6" y="375.6" font-size="13.6" text-anchor="middle" fill="#111" font-weight="normal" font-style="normal" >Voltage (V)</text>
<text x="0" y="0" font-size="13.6" text-anchor="middle" fill="#111" font-weight="normal" font-style="normal" transform="translate(20.2 283.8) rotate(-90)">Hall resistance (Ω)</text>
<line x1="46.3" y1="233.8" x2="61.6" y2="233.8" stroke="#ff0000" stroke-width="1.6" />
<path d="M51 230.8h6v6h-6zM54 230.8v6M51 233.8h6" fill="none" stroke="#ff0000" stroke-width="0.6"/>
<text x="64.3" y="236.3" font-size="10.5" text-anchor="start" fill="#111" font-weight="normal" font-style="normal" >#1</text>
<line x1="46.3" y1="246.3" x2="61.6" y2="246.3" stroke="#ff8000" stroke-width="1.6" />
<path d="M51 246.3a3 3 0 1 0 6 0a3 3 0 1 0 -6 0M54 243.3v6M51 246.3h6" fill="none" stroke="#ff8000" stroke-width="0.6"/>
<text x="64.3" y="248.8" font-size="10.5" text-anchor="start" fill="#111" font-weight="normal" font-style="normal" >#2</text>
<line x1="46.3" y1="258.8" x2="61.6" y2="258.8" stroke="#008000" stroke-width="1.6" />
<path d="M51 258.8a3 3 0 1 0 6 0a3 3 0 1 0 -6 0M54 255.8v6M51 258.8h6" fill="none" stroke="#008000" stroke-width="0.6"/>
<text x="64.3" y="261.3" font-size="10.5" text-anchor="start" fill="#111" font-weight="normal" font-style="normal" >#3</text>
<line x1="46.3" y1="271.3" x2="61.6" y2="271.3" stroke="#0000ff" stroke-width="1.6" />
<path d="M50.16 269.56h7.68L54 275.5zM54 267.16V275.5M50.16 271.3h7.68" fill="none" stroke="#0000ff" stroke-width="0.6"/>
<text x="64.3" y="273.8" font-size="10.5" text-anchor="start" fill="#111" font-weight="normal" font-style="normal" >#4</text>
<line x1="46.3" y1="283.8" x2="61.6" y2="283.8" stroke="#8000ff" stroke-width="1.6" />
<path d="M50.16 285.54h7.68L54 279.6zM54 287.94V279.6M50.16 283.8h7.68" fill="none" stroke="#8000ff" stroke-width="0.6"/>
<text x="64.3" y="286.3" font-size="10.5" text-anchor="start" fill="#111" font-weight="normal" font-style="normal" >#5</text>
<line x1="46.3" y1="296.3" x2="61.6" y2="296.3" stroke="#ff00ff" stroke-width="1.6" />
<path d="M49.5 291.98L58.5 300.62M58.5 291.98L49.5 300.62" fill="none" stroke="#ff00ff" stroke-width="0.6"/>
<text x="64.3" y="298.8" font-size="10.5" text-anchor="start" fill="#111" font-weight="normal" font-style="normal" >#6</text>
<text x="218.6" y="208" font-size="12.5" text-anchor="start" fill="#000" font-weight="bold" font-style="normal" >e</text>
<line x1="265.6" y1="223.1" x2="428.3" y2="223.1" stroke="#8c8c8c" stroke-width="1" />
<line x1="265.6" y1="223.1" x2="265.6" y2="345" stroke="#8c8c8c" stroke-width="1" />
<line x1="265.6" y1="345" x2="428.3" y2="345" stroke="#666" stroke-width="1" />
<line x1="428.3" y1="223.1" x2="428.3" y2="345" stroke="#ff6060" stroke-width="1" />
<line x1="263.1" y1="336.29" x2="265.6" y2="336.29" stroke="#444" stroke-width="0.8" />
<text x="261" y="340.69" font-size="12.8" text-anchor="end" fill="#111" font-weight="normal" font-style="normal" >14</text>
<line x1="263.1" y1="301.46" x2="265.6" y2="301.46" stroke="#444" stroke-width="0.8" />
<text x="261" y="305.86" font-size="12.8" text-anchor="end" fill="#111" font-weight="normal" font-style="normal" >16</text>
<line x1="263.1" y1="266.64" x2="265.6" y2="266.64" stroke="#444" stroke-width="0.8" />
<text x="261" y="271.04" font-size="12.8" text-anchor="end" fill="#111" font-weight="normal" font-style="normal" >18</text>
<line x1="263.1" y1="231.81" x2="265.6" y2="231.81" stroke="#444" stroke-width="0.8" />
<text x="261" y="236.21" font-size="12.8" text-anchor="end" fill="#111" font-weight="normal" font-style="normal" >20</text>
<line x1="264.1" y1="318.88" x2="265.6" y2="318.88" stroke="#444" stroke-width="0.8" />
<line x1="264.1" y1="284.05" x2="265.6" y2="284.05" stroke="#444" stroke-width="0.8" />
<line x1="264.1" y1="249.22" x2="265.6" y2="249.22" stroke="#444" stroke-width="0.8" />
<line x1="428.3" y1="345" x2="430.8" y2="345" stroke="#ff0000" stroke-width="0.8" />
<text x="431.6" y="349.4" font-size="12.8" text-anchor="start" fill="#ff0000" font-weight="normal" font-style="normal" >0.3</text>
<line x1="428.3" y1="304.37" x2="430.8" y2="304.37" stroke="#ff0000" stroke-width="0.8" />
<text x="431.6" y="308.77" font-size="12.8" text-anchor="start" fill="#ff0000" font-weight="normal" font-style="normal" >0.4</text>
<line x1="428.3" y1="263.73" x2="430.8" y2="263.73" stroke="#ff0000" stroke-width="0.8" />
<text x="431.6" y="268.13" font-size="12.8" text-anchor="start" fill="#ff0000" font-weight="normal" font-style="normal" >0.5</text>
<line x1="428.3" y1="223.1" x2="430.8" y2="223.1" stroke="#ff0000" stroke-width="0.8" />
<text x="431.6" y="227.5" font-size="12.8" text-anchor="start" fill="#ff0000" font-weight="normal" font-style="normal" >0.6</text>
<line x1="428.3" y1="324.68" x2="429.8" y2="324.68" stroke="#ff0000" stroke-width="0.8" />
<line x1="428.3" y1="284.05" x2="429.8" y2="284.05" stroke="#ff0000" stroke-width="0.8" />
<line x1="428.3" y1="243.42" x2="429.8" y2="243.42" stroke="#ff0000" stroke-width="0.8" />
<line x1="279.4" y1="345" x2="279.4" y2="347.5" stroke="#444" stroke-width="0.8" />
<text x="279.4" y="359.4" font-size="12.5" text-anchor="middle" fill="#111" font-weight="normal" font-style="normal" >#1</text>
<line x1="306.52" y1="345" x2="306.52" y2="347.5" stroke="#444" stroke-width="0.8" />
<text x="306.52" y="359.4" font-size="12.5" text-anchor="middle" fill="#111" font-weight="normal" font-style="normal" >#2</text>
<line x1="333.64" y1="345" x2="333.64" y2="347.5" stroke="#444" stroke-width="0.8" />
<text x="333.64" y="359.4" font-size="12.5" text-anchor="middle" fill="#111" font-weight="normal" font-style="normal" >#3</text>
<line x1="360.76" y1="345" x2="360.76" y2="347.5" stroke="#444" stroke-width="0.8" />
<text x="360.76" y="359.4" font-size="12.5" text-anchor="middle" fill="#111" font-weight="normal" font-style="normal" >#4</text>
<line x1="387.88" y1="345" x2="387.88" y2="347.5" stroke="#444" stroke-width="0.8" />
<text x="387.88" y="359.4" font-size="12.5" text-anchor="middle" fill="#111" font-weight="normal" font-style="normal" >#5</text>
<line x1="415" y1="345" x2="415" y2="347.5" stroke="#444" stroke-width="0.8" />
<text x="415" y="359.4" font-size="12.5" text-anchor="middle" fill="#111" font-weight="normal" font-style="normal" >#6</text>
<line x1="292.96" y1="345" x2="292.96" y2="346.5" stroke="#444" stroke-width="0.8" />
<line x1="320.08" y1="345" x2="320.08" y2="346.5" stroke="#444" stroke-width="0.8" />
<line x1="347.2" y1="345" x2="347.2" y2="346.5" stroke="#444" stroke-width="0.8" />
<line x1="374.32" y1="345" x2="374.32" y2="346.5" stroke="#444" stroke-width="0.8" />
<line x1="401.44" y1="345" x2="401.44" y2="346.5" stroke="#444" stroke-width="0.8" />
<text font-size="13.5" fill="#111" transform="translate(234.3 291.7) rotate(-90)"><tspan font-style="italic">x</tspan><tspan font-size="8.6" dy="2.6">0</tspan></text>
<text font-size="13.6" fill="#ff0000" font-style="italic" transform="translate(464 287) rotate(-90)">k</text>
<line x1="284.42" y1="253.12" x2="301.5" y2="260.74" stroke="#000" stroke-width="1.4" />
<line x1="311.46" y1="265.39" x2="328.7" y2="273.8" stroke="#000" stroke-width="1.4" />
<line x1="338.52" y1="278.75" x2="355.88" y2="287.78" stroke="#000" stroke-width="1.4" />
<line x1="365.44" y1="293.21" x2="383.2" y2="304.15" stroke="#000" stroke-width="1.4" />
<line x1="392.64" y1="309.79" x2="410.24" y2="319.96" stroke="#000" stroke-width="1.4" />
<rect x="276.25" y="247.73" width="6.3" height="6.3" fill="none" stroke="#000" stroke-width="1.5"/>
<rect x="303.37" y="259.83" width="6.3" height="6.3" fill="none" stroke="#000" stroke-width="1.5"/>
<rect x="330.49" y="273.06" width="6.3" height="6.3" fill="none" stroke="#000" stroke-width="1.5"/>
<rect x="357.61" y="287.17" width="6.3" height="6.3" fill="none" stroke="#000" stroke-width="1.5"/>
<rect x="384.73" y="303.89" width="6.3" height="6.3" fill="none" stroke="#000" stroke-width="1.5"/>
<rect x="411.85" y="319.56" width="6.3" height="6.3" fill="none" stroke="#000" stroke-width="1.5"/>
<line x1="284.62" y1="332.54" x2="301.3" y2="327.02" stroke="#ff0000" stroke-width="1.4" />
<line x1="311.34" y1="322.64" x2="328.82" y2="313.03" stroke="#ff0000" stroke-width="1.4" />
<line x1="337.14" y1="306.14" x2="357.26" y2="281.79" stroke="#ff0000" stroke-width="1.4" />
<line x1="365.95" y1="275.73" x2="382.69" y2="269.86" stroke="#ff0000" stroke-width="1.4" />
<line x1="391.5" y1="263.9" x2="411.38" y2="241.14" stroke="#ff0000" stroke-width="1.4" />
<rect x="276.25" y="331.12" width="6.3" height="6.3" fill="none" stroke="#ff0000" stroke-width="1.5"/>
<rect x="303.37" y="322.14" width="6.3" height="6.3" fill="none" stroke="#ff0000" stroke-width="1.5"/>
<rect x="330.49" y="307.23" width="6.3" height="6.3" fill="none" stroke="#ff0000" stroke-width="1.5"/>
<rect x="357.61" y="274.4" width="6.3" height="6.3" fill="none" stroke="#ff0000" stroke-width="1.5"/>
<rect x="384.73" y="264.89" width="6.3" height="6.3" fill="none" stroke="#ff0000" stroke-width="1.5"/>
<rect x="411.85" y="233.85" width="6.3" height="6.3" fill="none" stroke="#ff0000" stroke-width="1.5"/>
<line x1="298.6" y1="262.8" x2="272.7" y2="262.8" stroke="#000" stroke-width="1.3" />
<path d="M269.2 262.8L274.2 260.7L274.2 264.9z" fill="#000"/>
<line x1="390.8" y1="267.4" x2="414.3" y2="267.4" stroke="#ff0000" stroke-width="1.3" />
<path d="M417.8 267.4L412.8 265.3L412.8 269.5z" fill="#ff0000"/>
<text x="476.2" y="208.2" font-size="12.5" text-anchor="start" fill="#000" font-weight="bold" font-style="normal" >f</text>
<line x1="513.6" y1="223.5" x2="676.7" y2="223.5" stroke="#8c8c8c" stroke-width="1" />
<line x1="513.6" y1="223.5" x2="513.6" y2="345.2" stroke="#8c8c8c" stroke-width="1" />
<line x1="513.6" y1="345.2" x2="676.7" y2="345.2" stroke="#666" stroke-width="1" />
<line x1="676.7" y1="223.5" x2="676.7" y2="345.2" stroke="#666" stroke-width="1" />
<line x1="511.1" y1="333.03" x2="513.6" y2="333.03" stroke="#444" stroke-width="0.8" />
<text x="509.6" y="337.53" font-size="13" text-anchor="end" fill="#111" font-weight="normal" font-style="normal" >-6</text>
<line x1="511.1" y1="308.69" x2="513.6" y2="308.69" stroke="#444" stroke-width="0.8" />
<text x="509.6" y="313.19" font-size="13" text-anchor="end" fill="#111" font-weight="normal" font-style="normal" >-3</text>
<line x1="511.1" y1="284.35" x2="513.6" y2="284.35" stroke="#444" stroke-width="0.8" />
<text x="509.6" y="288.85" font-size="13" text-anchor="end" fill="#111" font-weight="normal" font-style="normal" >0</text>
<line x1="511.1" y1="260.01" x2="513.6" y2="260.01" stroke="#444" stroke-width="0.8" />
<text x="509.6" y="264.51" font-size="13" text-anchor="end" fill="#111" font-weight="normal" font-style="normal" >3</text>
<line x1="511.1" y1="235.67" x2="513.6" y2="235.67" stroke="#444" stroke-width="0.8" />
<text x="509.6" y="240.17" font-size="13" text-anchor="end" fill="#111" font-weight="normal" font-style="normal" >6</text>
<line x1="512.1" y1="345.2" x2="513.6" y2="345.2" stroke="#444" stroke-width="0.8" />
<line x1="512.1" y1="320.86" x2="513.6" y2="320.86" stroke="#444" stroke-width="0.8" />
<line x1="512.1" y1="296.52" x2="513.6" y2="296.52" stroke="#444" stroke-width="0.8" />
<line x1="512.1" y1="272.18" x2="513.6" y2="272.18" stroke="#444" stroke-width="0.8" />
<line x1="512.1" y1="247.84" x2="513.6" y2="247.84" stroke="#444" stroke-width="0.8" />
<line x1="512.1" y1="223.5" x2="513.6" y2="223.5" stroke="#444" stroke-width="0.8" />
<line x1="522.5" y1="345.2" x2="522.5" y2="347.7" stroke="#444" stroke-width="0.8" />
<text x="523" y="361.3" font-size="12" text-anchor="middle" fill="#111">10<tspan font-size="8.5" dy="-5">0</tspan></text>
<line x1="553.04" y1="345.2" x2="553.04" y2="347.7" stroke="#444" stroke-width="0.8" />
<text x="553.54" y="361.3" font-size="12" text-anchor="middle" fill="#111">10<tspan font-size="8.5" dy="-5">1</tspan></text>
<line x1="583.58" y1="345.2" x2="583.58" y2="347.7" stroke="#444" stroke-width="0.8" />
<text x="584.08" y="361.3" font-size="12" text-anchor="middle" fill="#111">10<tspan font-size="8.5" dy="-5">2</tspan></text>
<line x1="614.12" y1="345.2" x2="614.12" y2="347.7" stroke="#444" stroke-width="0.8" />
<text x="614.62" y="361.3" font-size="12" text-anchor="middle" fill="#111">10<tspan font-size="8.5" dy="-5">3</tspan></text>
<line x1="644.66" y1="345.2" x2="644.66" y2="347.7" stroke="#444" stroke-width="0.8" />
<text x="645.16" y="361.3" font-size="12" text-anchor="middle" fill="#111">10<tspan font-size="8.5" dy="-5">4</tspan></text>
<line x1="675.2" y1="345.2" x2="675.2" y2="347.7" stroke="#444" stroke-width="0.8" />
<text x="675.7" y="361.3" font-size="12" text-anchor="middle" fill="#111">10<tspan font-size="8.5" dy="-5">5</tspan></text>
<line x1="515.72" y1="345.2" x2="515.72" y2="346.7" stroke="#444" stroke-width="0.6" />
<line x1="517.77" y1="345.2" x2="517.77" y2="346.7" stroke="#444" stroke-width="0.6" />
<line x1="519.54" y1="345.2" x2="519.54" y2="346.7" stroke="#444" stroke-width="0.6" />
<line x1="521.1" y1="345.2" x2="521.1" y2="346.7" stroke="#444" stroke-width="0.6" />
<line x1="531.69" y1="345.2" x2="531.69" y2="346.7" stroke="#444" stroke-width="0.6" />
<line x1="537.07" y1="345.2" x2="537.07" y2="346.7" stroke="#444" stroke-width="0.6" />
<line x1="540.89" y1="345.2" x2="540.89" y2="346.7" stroke="#444" stroke-width="0.6" />
<line x1="543.85" y1="345.2" x2="543.85" y2="346.7" stroke="#444" stroke-width="0.6" />
<line x1="546.26" y1="345.2" x2="546.26" y2="346.7" stroke="#444" stroke-width="0.6" />
<line x1="548.31" y1="345.2" x2="548.31" y2="346.7" stroke="#444" stroke-width="0.6" />
<line x1="550.08" y1="345.2" x2="550.08" y2="346.7" stroke="#444" stroke-width="0.6" />
<line x1="551.64" y1="345.2" x2="551.64" y2="346.7" stroke="#444" stroke-width="0.6" />
<line x1="562.23" y1="345.2" x2="562.23" y2="346.7" stroke="#444" stroke-width="0.6" />
<line x1="567.61" y1="345.2" x2="567.61" y2="346.7" stroke="#444" stroke-width="0.6" />
<line x1="571.43" y1="345.2" x2="571.43" y2="346.7" stroke="#444" stroke-width="0.6" />
<line x1="574.39" y1="345.2" x2="574.39" y2="346.7" stroke="#444" stroke-width="0.6" />
<line x1="576.8" y1="345.2" x2="576.8" y2="346.7" stroke="#444" stroke-width="0.6" />
<line x1="578.85" y1="345.2" x2="578.85" y2="346.7" stroke="#444" stroke-width="0.6" />
<line x1="580.62" y1="345.2" x2="580.62" y2="346.7" stroke="#444" stroke-width="0.6" />
<line x1="582.18" y1="345.2" x2="582.18" y2="346.7" stroke="#444" stroke-width="0.6" />
<line x1="592.77" y1="345.2" x2="592.77" y2="346.7" stroke="#444" stroke-width="0.6" />
<line x1="598.15" y1="345.2" x2="598.15" y2="346.7" stroke="#444" stroke-width="0.6" />
<line x1="601.97" y1="345.2" x2="601.97" y2="346.7" stroke="#444" stroke-width="0.6" />
<line x1="604.93" y1="345.2" x2="604.93" y2="346.7" stroke="#444" stroke-width="0.6" />
<line x1="607.34" y1="345.2" x2="607.34" y2="346.7" stroke="#444" stroke-width="0.6" />
<line x1="609.39" y1="345.2" x2="609.39" y2="346.7" stroke="#444" stroke-width="0.6" />
<line x1="611.16" y1="345.2" x2="611.16" y2="346.7" stroke="#444" stroke-width="0.6" />
<line x1="612.72" y1="345.2" x2="612.72" y2="346.7" stroke="#444" stroke-width="0.6" />
<line x1="623.31" y1="345.2" x2="623.31" y2="346.7" stroke="#444" stroke-width="0.6" />
<line x1="628.69" y1="345.2" x2="628.69" y2="346.7" stroke="#444" stroke-width="0.6" />
<line x1="632.51" y1="345.2" x2="632.51" y2="346.7" stroke="#444" stroke-width="0.6" />
<line x1="635.47" y1="345.2" x2="635.47" y2="346.7" stroke="#444" stroke-width="0.6" />
<line x1="637.88" y1="345.2" x2="637.88" y2="346.7" stroke="#444" stroke-width="0.6" />
<line x1="639.93" y1="345.2" x2="639.93" y2="346.7" stroke="#444" stroke-width="0.6" />
<line x1="641.7" y1="345.2" x2="641.7" y2="346.7" stroke="#444" stroke-width="0.6" />
<line x1="643.26" y1="345.2" x2="643.26" y2="346.7" stroke="#444" stroke-width="0.6" />
<line x1="653.85" y1="345.2" x2="653.85" y2="346.7" stroke="#444" stroke-width="0.6" />
<line x1="659.23" y1="345.2" x2="659.23" y2="346.7" stroke="#444" stroke-width="0.6" />
<line x1="663.05" y1="345.2" x2="663.05" y2="346.7" stroke="#444" stroke-width="0.6" />
<line x1="666.01" y1="345.2" x2="666.01" y2="346.7" stroke="#444" stroke-width="0.6" />
<line x1="668.42" y1="345.2" x2="668.42" y2="346.7" stroke="#444" stroke-width="0.6" />
<line x1="670.47" y1="345.2" x2="670.47" y2="346.7" stroke="#444" stroke-width="0.6" />
<line x1="672.24" y1="345.2" x2="672.24" y2="346.7" stroke="#444" stroke-width="0.6" />
<line x1="673.8" y1="345.2" x2="673.8" y2="346.7" stroke="#444" stroke-width="0.6" />
<text x="600.3" y="377.6" font-size="13.6" text-anchor="middle" fill="#111" font-weight="normal" font-style="normal" >Number of cycles</text>
<text x="0" y="0" font-size="13.6" text-anchor="middle" fill="#111" font-weight="normal" font-style="normal" transform="translate(488.3 284) rotate(-90)">Hall resistance (Ω)</text>
<line x1="522.5" y1="239.32" x2="644.66" y2="239.32" stroke="#ff0000" stroke-width="1.5" />
<path d="M521.2 239.3a1.3 1.3 0 1 0 2.6 0a1.3 1.3 0 1 0 -2.6 0M530.39 239.28a1.3 1.3 0 1 0 2.6 0a1.3 1.3 0 1 0 -2.6 0M535.77 239.74a1.3 1.3 0 1 0 2.6 0a1.3 1.3 0 1 0 -2.6 0M539.59 238.82a1.3 1.3 0 1 0 2.6 0a1.3 1.3 0 1 0 -2.6 0M542.55 239.62a1.3 1.3 0 1 0 2.6 0a1.3 1.3 0 1 0 -2.6 0M544.96 238.64a1.3 1.3 0 1 0 2.6 0a1.3 1.3 0 1 0 -2.6 0M547.01 239.24a1.3 1.3 0 1 0 2.6 0a1.3 1.3 0 1 0 -2.6 0M548.78 239.23a1.3 1.3 0 1 0 2.6 0a1.3 1.3 0 1 0 -2.6 0M550.34 239.77a1.3 1.3 0 1 0 2.6 0a1.3 1.3 0 1 0 -2.6 0M551.74 239.32a1.3 1.3 0 1 0 2.6 0a1.3 1.3 0 1 0 -2.6 0M553 239.08a1.3 1.3 0 1 0 2.6 0a1.3 1.3 0 1 0 -2.6 0M554.16 239.87a1.3 1.3 0 1 0 2.6 0a1.3 1.3 0 1 0 -2.6 0M555.22 239.97a1.3 1.3 0 1 0 2.6 0a1.3 1.3 0 1 0 -2.6 0M556.2 239.05a1.3 1.3 0 1 0 2.6 0a1.3 1.3 0 1 0 -2.6 0M557.12 239.6a1.3 1.3 0 1 0 2.6 0a1.3 1.3 0 1 0 -2.6 0M557.97 239.14a1.3 1.3 0 1 0 2.6 0a1.3 1.3 0 1 0 -2.6 0M558.78 239.39a1.3 1.3 0 1 0 2.6 0a1.3 1.3 0 1 0 -2.6 0M559.54 239.42a1.3 1.3 0 1 0 2.6 0a1.3 1.3 0 1 0 -2.6 0M560.25 238.81a1.3 1.3 0 1 0 2.6 0a1.3 1.3 0 1 0 -2.6 0M560.93 239.35a1.3 1.3 0 1 0 2.6 0a1.3 1.3 0 1 0 -2.6 0M561.58 238.9a1.3 1.3 0 1 0 2.6 0a1.3 1.3 0 1 0 -2.6 0M562.2 238.93a1.3 1.3 0 1 0 2.6 0a1.3 1.3 0 1 0 -2.6 0M562.79 239.14a1.3 1.3 0 1 0 2.6 0a1.3 1.3 0 1 0 -2.6 0M563.35 238.53a1.3 1.3 0 1 0 2.6 0a1.3 1.3 0 1 0 -2.6 0M563.89 238.73a1.3 1.3 0 1 0 2.6 0a1.3 1.3 0 1 0 -2.6 0M564.41 239.41a1.3 1.3 0 1 0 2.6 0a1.3 1.3 0 1 0 -2.6 0M564.91 239.58a1.3 1.3 0 1 0 2.6 0a1.3 1.3 0 1 0 -2.6 0M565.4 239.66a1.3 1.3 0 1 0 2.6 0a1.3 1.3 0 1 0 -2.6 0M565.86 239.14a1.3 1.3 0 1 0 2.6 0a1.3 1.3 0 1 0 -2.6 0M566.31 239.47a1.3 1.3 0 1 0 2.6 0a1.3 1.3 0 1 0 -2.6 0M566.75 239.67a1.3 1.3 0 1 0 2.6 0a1.3 1.3 0 1 0 -2.6 0M567.17 239.58a1.3 1.3 0 1 0 2.6 0a1.3 1.3 0 1 0 -2.6 0M567.58 239.02a1.3 1.3 0 1 0 2.6 0a1.3 1.3 0 1 0 -2.6 0M567.97 238.94a1.3 1.3 0 1 0 2.6 0a1.3 1.3 0 1 0 -2.6 0M568.36 239.41a1.3 1.3 0 1 0 2.6 0a1.3 1.3 0 1 0 -2.6 0M568.73 239.59a1.3 1.3 0 1 0 2.6 0a1.3 1.3 0 1 0 -2.6 0M569.09 239.32a1.3 1.3 0 1 0 2.6 0a1.3 1.3 0 1 0 -2.6 0M569.45 239.53a1.3 1.3 0 1 0 2.6 0a1.3 1.3 0 1 0 -2.6 0M569.79 239.37a1.3 1.3 0 1 0 2.6 0a1.3 1.3 0 1 0 -2.6 0M570.13 239.37a1.3 1.3 0 1 0 2.6 0a1.3 1.3 0 1 0 -2.6 0M570.45 239.39a1.3 1.3 0 1 0 2.6 0a1.3 1.3 0 1 0 -2.6 0M570.77 239.37a1.3 1.3 0 1 0 2.6 0a1.3 1.3 0 1 0 -2.6 0M571.09 239.23a1.3 1.3 0 1 0 2.6 0a1.3 1.3 0 1 0 -2.6 0M571.39 239.73a1.3 1.3 0 1 0 2.6 0a1.3 1.3 0 1 0 -2.6 0M571.69 239.52a1.3 1.3 0 1 0 2.6 0a1.3 1.3 0 1 0 -2.6 0M571.98 239.2a1.3 1.3 0 1 0 2.6 0a1.3 1.3 0 1 0 -2.6 0M572.27 239.26a1.3 1.3 0 1 0 2.6 0a1.3 1.3 0 1 0 -2.6 0M572.55 239.09a1.3 1.3 0 1 0 2.6 0a1.3 1.3 0 1 0 -2.6 0M572.82 239.43a1.3 1.3 0 1 0 2.6 0a1.3 1.3 0 1 0 -2.6 0M573.09 239.01a1.3 1.3 0 1 0 2.6 0a1.3 1.3 0 1 0 -2.6 0M573.35 239.25a1.3 1.3 0 1 0 2.6 0a1.3 1.3 0 1 0 -2.6 0M573.61 239.49a1.3 1.3 0 1 0 2.6 0a1.3 1.3 0 1 0 -2.6 0M573.86 239.44a1.3 1.3 0 1 0 2.6 0a1.3 1.3 0 1 0 -2.6 0M574.11 239.45a1.3 1.3 0 1 0 2.6 0a1.3 1.3 0 1 0 -2.6 0M574.35 239.06a1.3 1.3 0 1 0 2.6 0a1.3 1.3 0 1 0 -2.6 0M574.59 239.49a1.3 1.3 0 1 0 2.6 0a1.3 1.3 0 1 0 -2.6 0M574.82 239.29a1.3 1.3 0 1 0 2.6 0a1.3 1.3 0 1 0 -2.6 0M575.06 239.61a1.3 1.3 0 1 0 2.6 0a1.3 1.3 0 1 0 -2.6 0M575.28 239.26a1.3 1.3 0 1 0 2.6 0a1.3 1.3 0 1 0 -2.6 0M575.5 239.69a1.3 1.3 0 1 0 2.6 0a1.3 1.3 0 1 0 -2.6 0M575.72 239.41a1.3 1.3 0 1 0 2.6 0a1.3 1.3 0 1 0 -2.6 0M575.94 239.49a1.3 1.3 0 1 0 2.6 0a1.3 1.3 0 1 0 -2.6 0M576.36 239.23a1.3 1.3 0 1 0 2.6 0a1.3 1.3 0 1 0 -2.6 0M576.57 239.23a1.3 1.3 0 1 0 2.6 0a1.3 1.3 0 1 0 -2.6 0M576.77 239.24a1.3 1.3 0 1 0 2.6 0a1.3 1.3 0 1 0 -2.6 0M576.97 239.54a1.3 1.3 0 1 0 2.6 0a1.3 1.3 0 1 0 -2.6 0M577.16 239.22a1.3 1.3 0 1 0 2.6 0a1.3 1.3 0 1 0 -2.6 0M577.55 239.3a1.3 1.3 0 1 0 2.6 0a1.3 1.3 0 1 0 -2.6 0M577.74 239.58a1.3 1.3 0 1 0 2.6 0a1.3 1.3 0 1 0 -2.6 0M577.92 239.43a1.3 1.3 0 1 0 2.6 0a1.3 1.3 0 1 0 -2.6 0M578.29 239.26a1.3 1.3 0 1 0 2.6 0a1.3 1.3 0 1 0 -2.6 0M578.46 239.38a1.3 1.3 0 1 0 2.6 0a1.3 1.3 0 1 0 -2.6 0M578.81 239.01a1.3 1.3 0 1 0 2.6 0a1.3 1.3 0 1 0 -2.6 0M578.98 238.99a1.3 1.3 0 1 0 2.6 0a1.3 1.3 0 1 0 -2.6 0M579.15 239.42a1.3 1.3 0 1 0 2.6 0a1.3 1.3 0 1 0 -2.6 0M579.49 239.93a1.3 1.3 0 1 0 2.6 0a1.3 1.3 0 1 0 -2.6 0M579.65 239.76a1.3 1.3 0 1 0 2.6 0a1.3 1.3 0 1 0 -2.6 0M579.97 239.88a1.3 1.3 0 1 0 2.6 0a1.3 1.3 0 1 0 -2.6 0M580.12 239.45a1.3 1.3 0 1 0 2.6 0a1.3 1.3 0 1 0 -2.6 0M580.43 239.21a1.3 1.3 0 1 0 2.6 0a1.3 1.3 0 1 0 -2.6 0M580.73 239.56a1.3 1.3 0 1 0 2.6 0a1.3 1.3 0 1 0 -2.6 0M580.88 239.06a1.3 1.3 0 1 0 2.6 0a1.3 1.3 0 1 0 -2.6 0M581.17 238.69a1.3 1.3 0 1 0 2.6 0a1.3 1.3 0 1 0 -2.6 0M581.46 239.41a1.3 1.3 0 1 0 2.6 0a1.3 1.3 0 1 0 -2.6 0M581.6 239.55a1.3 1.3 0 1 0 2.6 0a1.3 1.3 0 1 0 -2.6 0M581.88 239.48a1.3 1.3 0 1 0 2.6 0a1.3 1.3 0 1 0 -2.6 0M582.15 239.66a1.3 1.3 0 1 0 2.6 0a1.3 1.3 0 1 0 -2.6 0M582.41 239.49a1.3 1.3 0 1 0 2.6 0a1.3 1.3 0 1 0 -2.6 0M582.67 239.4a1.3 1.3 0 1 0 2.6 0a1.3 1.3 0 1 0 -2.6 0M582.93 239.09a1.3 1.3 0 1 0 2.6 0a1.3 1.3 0 1 0 -2.6 0M583.18 239.29a1.3 1.3 0 1 0 2.6 0a1.3 1.3 0 1 0 -2.6 0M583.42 239.06a1.3 1.3 0 1 0 2.6 0a1.3 1.3 0 1 0 -2.6 0M583.66 239.24a1.3 1.3 0 1 0 2.6 0a1.3 1.3 0 1 0 -2.6 0M583.9 239.74a1.3 1.3 0 1 0 2.6 0a1.3 1.3 0 1 0 -2.6 0M584.13 239.37a1.3 1.3 0 1 0 2.6 0a1.3 1.3 0 1 0 -2.6 0M584.36 239.4a1.3 1.3 0 1 0 2.6 0a1.3 1.3 0 1 0 -2.6 0M584.59 239.17a1.3 1.3 0 1 0 2.6 0a1.3 1.3 0 1 0 -2.6 0M584.81 239.89a1.3 1.3 0 1 0 2.6 0a1.3 1.3 0 1 0 -2.6 0M585.13 238.88a1.3 1.3 0 1 0 2.6 0a1.3 1.3 0 1 0 -2.6 0M585.35 239.12a1.3 1.3 0 1 0 2.6 0a1.3 1.3 0 1 0 -2.6 0M585.55 239.53a1.3 1.3 0 1 0 2.6 0a1.3 1.3 0 1 0 -2.6 0M585.86 239.16a1.3 1.3 0 1 0 2.6 0a1.3 1.3 0 1 0 -2.6 0M586.06 239.15a1.3 1.3 0 1 0 2.6 0a1.3 1.3 0 1 0 -2.6 0M586.36 239.43a1.3 1.3 0 1 0 2.6 0a1.3 1.3 0 1 0 -2.6 0M586.55 239.49a1.3 1.3 0 1 0 2.6 0a1.3 1.3 0 1 0 -2.6 0M586.84 239.47a1.3 1.3 0 1 0 2.6 0a1.3 1.3 0 1 0 -2.6 0M587.02 239.13a1.3 1.3 0 1 0 2.6 0a1.3 1.3 0 1 0 -2.6 0M587.3 239.49a1.3 1.3 0 1 0 2.6 0a1.3 1.3 0 1 0 -2.6 0M587.57 239.05a1.3 1.3 0 1 0 2.6 0a1.3 1.3 0 1 0 -2.6 0M587.75 239.12a1.3 1.3 0 1 0 2.6 0a1.3 1.3 0 1 0 -2.6 0M588.01 239.1a1.3 1.3 0 1 0 2.6 0a1.3 1.3 0 1 0 -2.6 0M588.26 239.39a1.3 1.3 0 1 0 2.6 0a1.3 1.3 0 1 0 -2.6 0M588.51 239.24a1.3 1.3 0 1 0 2.6 0a1.3 1.3 0 1 0 -2.6 0M588.76 239.11a1.3 1.3 0 1 0 2.6 0a1.3 1.3 0 1 0 -2.6 0M589 239.33a1.3 1.3 0 1 0 2.6 0a1.3 1.3 0 1 0 -2.6 0M589.24 239.1a1.3 1.3 0 1 0 2.6 0a1.3 1.3 0 1 0 -2.6 0M589.47 239.21a1.3 1.3 0 1 0 2.6 0a1.3 1.3 0 1 0 -2.6 0M589.78 239.25a1.3 1.3 0 1 0 2.6 0a1.3 1.3 0 1 0 -2.6 0M590 239.2a1.3 1.3 0 1 0 2.6 0a1.3 1.3 0 1 0 -2.6 0M590.22 239.1a1.3 1.3 0 1 0 2.6 0a1.3 1.3 0 1 0 -2.6 0M590.51 239.05a1.3 1.3 0 1 0 2.6 0a1.3 1.3 0 1 0 -2.6 0M590.72 239.56a1.3 1.3 0 1 0 2.6 0a1.3 1.3 0 1 0 -2.6 0M591 238.87a1.3 1.3 0 1 0 2.6 0a1.3 1.3 0 1 0 -2.6 0M591.21 239.39a1.3 1.3 0 1 0 2.6 0a1.3 1.3 0 1 0 -2.6 0M591.47 239.14a1.3 1.3 0 1 0 2.6 0a1.3 1.3 0 1 0 -2.6 0M591.74 239.17a1.3 1.3 0 1 0 2.6 0a1.3 1.3 0 1 0 -2.6 0M591.93 238.93a1.3 1.3 0 1 0 2.6 0a1.3 1.3 0 1 0 -2.6 0M592.18 239.31a1.3 1.3 0 1 0 2.6 0a1.3 1.3 0 1 0 -2.6 0M592.43 239.2a1.3 1.3 0 1 0 2.6 0a1.3 1.3 0 1 0 -2.6 0M592.68 239.55a1.3 1.3 0 1 0 2.6 0a1.3 1.3 0 1 0 -2.6 0M592.92 239.2a1.3 1.3 0 1 0 2.6 0a1.3 1.3 0 1 0 -2.6 0M593.15 239.08a1.3 1.3 0 1 0 2.6 0a1.3 1.3 0 1 0 -2.6 0M593.44 239.06a1.3 1.3 0 1 0 2.6 0a1.3 1.3 0 1 0 -2.6 0M593.67 239.53a1.3 1.3 0 1 0 2.6 0a1.3 1.3 0 1 0 -2.6 0M593.89 239.45a1.3 1.3 0 1 0 2.6 0a1.3 1.3 0 1 0 -2.6 0M594.17 239.24a1.3 1.3 0 1 0 2.6 0a1.3 1.3 0 1 0 -2.6 0M594.38 239.69a1.3 1.3 0 1 0 2.6 0a1.3 1.3 0 1 0 -2.6 0M594.64 239.38a1.3 1.3 0 1 0 2.6 0a1.3 1.3 0 1 0 -2.6 0M594.9 239.26a1.3 1.3 0 1 0 2.6 0a1.3 1.3 0 1 0 -2.6 0M595.16 239.43a1.3 1.3 0 1 0 2.6 0a1.3 1.3 0 1 0 -2.6 0M595.36 239.08a1.3 1.3 0 1 0 2.6 0a1.3 1.3 0 1 0 -2.6 0M595.6 239.34a1.3 1.3 0 1 0 2.6 0a1.3 1.3 0 1 0 -2.6 0M595.89 239.07a1.3 1.3 0 1 0 2.6 0a1.3 1.3 0 1 0 -2.6 0M596.12 239.45a1.3 1.3 0 1 0 2.6 0a1.3 1.3 0 1 0 -2.6 0M596.36 239.46a1.3 1.3 0 1 0 2.6 0a1.3 1.3 0 1 0 -2.6 0M596.58 239.3a1.3 1.3 0 1 0 2.6 0a1.3 1.3 0 1 0 -2.6 0M596.85 239.56a1.3 1.3 0 1 0 2.6 0a1.3 1.3 0 1 0 -2.6 0M597.07 239.17a1.3 1.3 0 1 0 2.6 0a1.3 1.3 0 1 0 -2.6 0M597.33 239.44a1.3 1.3 0 1 0 2.6 0a1.3 1.3 0 1 0 -2.6 0M597.58 239.29a1.3 1.3 0 1 0 2.6 0a1.3 1.3 0 1 0 -2.6 0M597.83 239.07a1.3 1.3 0 1 0 2.6 0a1.3 1.3 0 1 0 -2.6 0M598.08 239.47a1.3 1.3 0 1 0 2.6 0a1.3 1.3 0 1 0 -2.6 0M598.31 239.69a1.3 1.3 0 1 0 2.6 0a1.3 1.3 0 1 0 -2.6 0M598.55 240a1.3 1.3 0 1 0 2.6 0a1.3 1.3 0 1 0 -2.6 0M598.82 239.34a1.3 1.3 0 1 0 2.6 0a1.3 1.3 0 1 0 -2.6 0M599.05 239.43a1.3 1.3 0 1 0 2.6 0a1.3 1.3 0 1 0 -2.6 0M599.31 239.7a1.3 1.3 0 1 0 2.6 0a1.3 1.3 0 1 0 -2.6 0M599.52 239.09a1.3 1.3 0 1 0 2.6 0a1.3 1.3 0 1 0 -2.6 0M599.78 239.65a1.3 1.3 0 1 0 2.6 0a1.3 1.3 0 1 0 -2.6 0M600.02 238.96a1.3 1.3 0 1 0 2.6 0a1.3 1.3 0 1 0 -2.6 0M600.26 239.07a1.3 1.3 0 1 0 2.6 0a1.3 1.3 0 1 0 -2.6 0M600.53 239.27a1.3 1.3 0 1 0 2.6 0a1.3 1.3 0 1 0 -2.6 0M600.77 239.24a1.3 1.3 0 1 0 2.6 0a1.3 1.3 0 1 0 -2.6 0M600.99 239.53a1.3 1.3 0 1 0 2.6 0a1.3 1.3 0 1 0 -2.6 0M601.25 239.09a1.3 1.3 0 1 0 2.6 0a1.3 1.3 0 1 0 -2.6 0M601.5 239.29a1.3 1.3 0 1 0 2.6 0a1.3 1.3 0 1 0 -2.6 0M601.75 239.24a1.3 1.3 0 1 0 2.6 0a1.3 1.3 0 1 0 -2.6 0M601.99 239.36a1.3 1.3 0 1 0 2.6 0a1.3 1.3 0 1 0 -2.6 0M602.23 239.46a1.3 1.3 0 1 0 2.6 0a1.3 1.3 0 1 0 -2.6 0M602.46 239.53a1.3 1.3 0 1 0 2.6 0a1.3 1.3 0 1 0 -2.6 0M602.72 239.39a1.3 1.3 0 1 0 2.6 0a1.3 1.3 0 1 0 -2.6 0M602.97 239.41a1.3 1.3 0 1 0 2.6 0a1.3 1.3 0 1 0 -2.6 0M603.22 239.33a1.3 1.3 0 1 0 2.6 0a1.3 1.3 0 1 0 -2.6 0M603.47 238.98a1.3 1.3 0 1 0 2.6 0a1.3 1.3 0 1 0 -2.6 0M603.71 238.92a1.3 1.3 0 1 0 2.6 0a1.3 1.3 0 1 0 -2.6 0M603.94 239.4a1.3 1.3 0 1 0 2.6 0a1.3 1.3 0 1 0 -2.6 0M604.2 239.02a1.3 1.3 0 1 0 2.6 0a1.3 1.3 0 1 0 -2.6 0M604.42 239.15a1.3 1.3 0 1 0 2.6 0a1.3 1.3 0 1 0 -2.6 0M604.67 239.37a1.3 1.3 0 1 0 2.6 0a1.3 1.3 0 1 0 -2.6 0M604.91 239.24a1.3 1.3 0 1 0 2.6 0a1.3 1.3 0 1 0 -2.6 0M605.18 239.15a1.3 1.3 0 1 0 2.6 0a1.3 1.3 0 1 0 -2.6 0M605.41 239.12a1.3 1.3 0 1 0 2.6 0a1.3 1.3 0 1 0 -2.6 0M605.66 239.33a1.3 1.3 0 1 0 2.6 0a1.3 1.3 0 1 0 -2.6 0M605.91 239.64a1.3 1.3 0 1 0 2.6 0a1.3 1.3 0 1 0 -2.6 0M606.15 238.95a1.3 1.3 0 1 0 2.6 0a1.3 1.3 0 1 0 -2.6 0M606.39 239.27a1.3 1.3 0 1 0 2.6 0a1.3 1.3 0 1 0 -2.6 0M606.63 239.53a1.3 1.3 0 1 0 2.6 0a1.3 1.3 0 1 0 -2.6 0M606.88 239.38a1.3 1.3 0 1 0 2.6 0a1.3 1.3 0 1 0 -2.6 0M607.13 239.19a1.3 1.3 0 1 0 2.6 0a1.3 1.3 0 1 0 -2.6 0M607.37 239.33a1.3 1.3 0 1 0 2.6 0a1.3 1.3 0 1 0 -2.6 0M607.63 239.41a1.3 1.3 0 1 0 2.6 0a1.3 1.3 0 1 0 -2.6 0M607.86 239.54a1.3 1.3 0 1 0 2.6 0a1.3 1.3 0 1 0 -2.6 0M608.11 238.97a1.3 1.3 0 1 0 2.6 0a1.3 1.3 0 1 0 -2.6 0M608.35 239.13a1.3 1.3 0 1 0 2.6 0a1.3 1.3 0 1 0 -2.6 0M608.59 239.38a1.3 1.3 0 1 0 2.6 0a1.3 1.3 0 1 0 -2.6 0M608.84 239.42a1.3 1.3 0 1 0 2.6 0a1.3 1.3 0 1 0 -2.6 0M609.09 239.37a1.3 1.3 0 1 0 2.6 0a1.3 1.3 0 1 0 -2.6 0M609.34 239.41a1.3 1.3 0 1 0 2.6 0a1.3 1.3 0 1 0 -2.6 0M609.58 239.52a1.3 1.3 0 1 0 2.6 0a1.3 1.3 0 1 0 -2.6 0M609.83 239.42a1.3 1.3 0 1 0 2.6 0a1.3 1.3 0 1 0 -2.6 0M610.06 239.89a1.3 1.3 0 1 0 2.6 0a1.3 1.3 0 1 0 -2.6 0M610.32 239.17a1.3 1.3 0 1 0 2.6 0a1.3 1.3 0 1 0 -2.6 0M610.55 239.24a1.3 1.3 0 1 0 2.6 0a1.3 1.3 0 1 0 -2.6 0M610.8 239a1.3 1.3 0 1 0 2.6 0a1.3 1.3 0 1 0 -2.6 0M611.05 239.45a1.3 1.3 0 1 0 2.6 0a1.3 1.3 0 1 0 -2.6 0M611.29 239.37a1.3 1.3 0 1 0 2.6 0a1.3 1.3 0 1 0 -2.6 0M611.54 239.29a1.3 1.3 0 1 0 2.6 0a1.3 1.3 0 1 0 -2.6 0M611.79 239.07a1.3 1.3 0 1 0 2.6 0a1.3 1.3 0 1 0 -2.6 0M612.03 239.75a1.3 1.3 0 1 0 2.6 0a1.3 1.3 0 1 0 -2.6 0M612.26 239.41a1.3 1.3 0 1 0 2.6 0a1.3 1.3 0 1 0 -2.6 0M612.51 239.5a1.3 1.3 0 1 0 2.6 0a1.3 1.3 0 1 0 -2.6 0M612.75 239.03a1.3 1.3 0 1 0 2.6 0a1.3 1.3 0 1 0 -2.6 0M613 239.39a1.3 1.3 0 1 0 2.6 0a1.3 1.3 0 1 0 -2.6 0M613.25 239.43a1.3 1.3 0 1 0 2.6 0a1.3 1.3 0 1 0 -2.6 0M613.49 239.7a1.3 1.3 0 1 0 2.6 0a1.3 1.3 0 1 0 -2.6 0M613.74 239.45a1.3 1.3 0 1 0 2.6 0a1.3 1.3 0 1 0 -2.6 0M613.99 239.56a1.3 1.3 0 1 0 2.6 0a1.3 1.3 0 1 0 -2.6 0M614.23 238.98a1.3 1.3 0 1 0 2.6 0a1.3 1.3 0 1 0 -2.6 0M614.48 239.28a1.3 1.3 0 1 0 2.6 0a1.3 1.3 0 1 0 -2.6 0M614.72 239.34a1.3 1.3 0 1 0 2.6 0a1.3 1.3 0 1 0 -2.6 0M614.96 239.3a1.3 1.3 0 1 0 2.6 0a1.3 1.3 0 1 0 -2.6 0M615.2 239.26a1.3 1.3 0 1 0 2.6 0a1.3 1.3 0 1 0 -2.6 0M615.45 239.25a1.3 1.3 0 1 0 2.6 0a1.3 1.3 0 1 0 -2.6 0M615.69 239.61a1.3 1.3 0 1 0 2.6 0a1.3 1.3 0 1 0 -2.6 0M615.94 239.23a1.3 1.3 0 1 0 2.6 0a1.3 1.3 0 1 0 -2.6 0M616.19 239.48a1.3 1.3 0 1 0 2.6 0a1.3 1.3 0 1 0 -2.6 0M616.43 239.47a1.3 1.3 0 1 0 2.6 0a1.3 1.3 0 1 0 -2.6 0M616.67 239.24a1.3 1.3 0 1 0 2.6 0a1.3 1.3 0 1 0 -2.6 0M616.92 239.35a1.3 1.3 0 1 0 2.6 0a1.3 1.3 0 1 0 -2.6 0M617.17 238.8a1.3 1.3 0 1 0 2.6 0a1.3 1.3 0 1 0 -2.6 0M617.41 239.19a1.3 1.3 0 1 0 2.6 0a1.3 1.3 0 1 0 -2.6 0M617.66 239.56a1.3 1.3 0 1 0 2.6 0a1.3 1.3 0 1 0 -2.6 0M617.9 239.18a1.3 1.3 0 1 0 2.6 0a1.3 1.3 0 1 0 -2.6 0M618.14 238.87a1.3 1.3 0 1 0 2.6 0a1.3 1.3 0 1 0 -2.6 0M618.39 239.53a1.3 1.3 0 1 0 2.6 0a1.3 1.3 0 1 0 -2.6 0M618.63 239.04a1.3 1.3 0 1 0 2.6 0a1.3 1.3 0 1 0 -2.6 0M618.88 239.62a1.3 1.3 0 1 0 2.6 0a1.3 1.3 0 1 0 -2.6 0M619.12 239.31a1.3 1.3 0 1 0 2.6 0a1.3 1.3 0 1 0 -2.6 0M619.37 239.04a1.3 1.3 0 1 0 2.6 0a1.3 1.3 0 1 0 -2.6 0M619.61 239.17a1.3 1.3 0 1 0 2.6 0a1.3 1.3 0 1 0 -2.6 0M619.86 239.66a1.3 1.3 0 1 0 2.6 0a1.3 1.3 0 1 0 -2.6 0M620.11 239.36a1.3 1.3 0 1 0 2.6 0a1.3 1.3 0 1 0 -2.6 0M620.35 239.3a1.3 1.3 0 1 0 2.6 0a1.3 1.3 0 1 0 -2.6 0M620.59 239.36a1.3 1.3 0 1 0 2.6 0a1.3 1.3 0 1 0 -2.6 0M620.84 239.28a1.3 1.3 0 1 0 2.6 0a1.3 1.3 0 1 0 -2.6 0M621.08 239.18a1.3 1.3 0 1 0 2.6 0a1.3 1.3 0 1 0 -2.6 0M621.33 239.46a1.3 1.3 0 1 0 2.6 0a1.3 1.3 0 1 0 -2.6 0M621.58 239.64a1.3 1.3 0 1 0 2.6 0a1.3 1.3 0 1 0 -2.6 0M621.82 239.34a1.3 1.3 0 1 0 2.6 0a1.3 1.3 0 1 0 -2.6 0M622.06 239.67a1.3 1.3 0 1 0 2.6 0a1.3 1.3 0 1 0 -2.6 0M622.31 239.57a1.3 1.3 0 1 0 2.6 0a1.3 1.3 0 1 0 -2.6 0M622.55 238.99a1.3 1.3 0 1 0 2.6 0a1.3 1.3 0 1 0 -2.6 0M622.8 239.48a1.3 1.3 0 1 0 2.6 0a1.3 1.3 0 1 0 -2.6 0M623.04 239.62a1.3 1.3 0 1 0 2.6 0a1.3 1.3 0 1 0 -2.6 0M623.28 238.88a1.3 1.3 0 1 0 2.6 0a1.3 1.3 0 1 0 -2.6 0M623.53 239.2a1.3 1.3 0 1 0 2.6 0a1.3 1.3 0 1 0 -2.6 0M623.77 239.42a1.3 1.3 0 1 0 2.6 0a1.3 1.3 0 1 0 -2.6 0M624.02 239.12a1.3 1.3 0 1 0 2.6 0a1.3 1.3 0 1 0 -2.6 0M624.26 239.32a1.3 1.3 0 1 0 2.6 0a1.3 1.3 0 1 0 -2.6 0M624.51 239.24a1.3 1.3 0 1 0 2.6 0a1.3 1.3 0 1 0 -2.6 0M624.75 239.1a1.3 1.3 0 1 0 2.6 0a1.3 1.3 0 1 0 -2.6 0M625 239.28a1.3 1.3 0 1 0 2.6 0a1.3 1.3 0 1 0 -2.6 0M625.25 239.21a1.3 1.3 0 1 0 2.6 0a1.3 1.3 0 1 0 -2.6 0M625.49 239.29a1.3 1.3 0 1 0 2.6 0a1.3 1.3 0 1 0 -2.6 0M625.74 239.29a1.3 1.3 0 1 0 2.6 0a1.3 1.3 0 1 0 -2.6 0M625.98 239.15a1.3 1.3 0 1 0 2.6 0a1.3 1.3 0 1 0 -2.6 0M626.22 239.12a1.3 1.3 0 1 0 2.6 0a1.3 1.3 0 1 0 -2.6 0M626.47 239.16a1.3 1.3 0 1 0 2.6 0a1.3 1.3 0 1 0 -2.6 0M626.71 239.4a1.3 1.3 0 1 0 2.6 0a1.3 1.3 0 1 0 -2.6 0M626.96 239.07a1.3 1.3 0 1 0 2.6 0a1.3 1.3 0 1 0 -2.6 0M627.2 239.59a1.3 1.3 0 1 0 2.6 0a1.3 1.3 0 1 0 -2.6 0M627.45 239.1a1.3 1.3 0 1 0 2.6 0a1.3 1.3 0 1 0 -2.6 0M627.69 239.71a1.3 1.3 0 1 0 2.6 0a1.3 1.3 0 1 0 -2.6 0M627.94 239.24a1.3 1.3 0 1 0 2.6 0a1.3 1.3 0 1 0 -2.6 0M628.18 239.19a1.3 1.3 0 1 0 2.6 0a1.3 1.3 0 1 0 -2.6 0M628.43 239.18a1.3 1.3 0 1 0 2.6 0a1.3 1.3 0 1 0 -2.6 0M628.67 239.4a1.3 1.3 0 1 0 2.6 0a1.3 1.3 0 1 0 -2.6 0M628.92 239.33a1.3 1.3 0 1 0 2.6 0a1.3 1.3 0 1 0 -2.6 0M629.16 239.1a1.3 1.3 0 1 0 2.6 0a1.3 1.3 0 1 0 -2.6 0M629.41 239.34a1.3 1.3 0 1 0 2.6 0a1.3 1.3 0 1 0 -2.6 0M629.65 239.4a1.3 1.3 0 1 0 2.6 0a1.3 1.3 0 1 0 -2.6 0M629.89 239.34a1.3 1.3 0 1 0 2.6 0a1.3 1.3 0 1 0 -2.6 0M630.14 239.59a1.3 1.3 0 1 0 2.6 0a1.3 1.3 0 1 0 -2.6 0M630.39 238.75a1.3 1.3 0 1 0 2.6 0a1.3 1.3 0 1 0 -2.6 0M630.63 239.25a1.3 1.3 0 1 0 2.6 0a1.3 1.3 0 1 0 -2.6 0M630.87 239.17a1.3 1.3 0 1 0 2.6 0a1.3 1.3 0 1 0 -2.6 0M631.12 239.41a1.3 1.3 0 1 0 2.6 0a1.3 1.3 0 1 0 -2.6 0M631.37 239.73a1.3 1.3 0 1 0 2.6 0a1.3 1.3 0 1 0 -2.6 0M631.61 239a1.3 1.3 0 1 0 2.6 0a1.3 1.3 0 1 0 -2.6 0M631.85 239.12a1.3 1.3 0 1 0 2.6 0a1.3 1.3 0 1 0 -2.6 0M632.1 239.26a1.3 1.3 0 1 0 2.6 0a1.3 1.3 0 1 0 -2.6 0M632.34 239.52a1.3 1.3 0 1 0 2.6 0a1.3 1.3 0 1 0 -2.6 0M632.59 239.54a1.3 1.3 0 1 0 2.6 0a1.3 1.3 0 1 0 -2.6 0M632.83 239.16a1.3 1.3 0 1 0 2.6 0a1.3 1.3 0 1 0 -2.6 0M633.08 239.5a1.3 1.3 0 1 0 2.6 0a1.3 1.3 0 1 0 -2.6 0M633.32 239.3a1.3 1.3 0 1 0 2.6 0a1.3 1.3 0 1 0 -2.6 0M633.57 239.54a1.3 1.3 0 1 0 2.6 0a1.3 1.3 0 1 0 -2.6 0M633.81 239.34a1.3 1.3 0 1 0 2.6 0a1.3 1.3 0 1 0 -2.6 0M634.06 239.44a1.3 1.3 0 1 0 2.6 0a1.3 1.3 0 1 0 -2.6 0M634.3 239.33a1.3 1.3 0 1 0 2.6 0a1.3 1.3 0 1 0 -2.6 0M634.55 239.13a1.3 1.3 0 1 0 2.6 0a1.3 1.3 0 1 0 -2.6 0M634.79 239.12a1.3 1.3 0 1 0 2.6 0a1.3 1.3 0 1 0 -2.6 0M635.04 239.43a1.3 1.3 0 1 0 2.6 0a1.3 1.3 0 1 0 -2.6 0M635.28 239.17a1.3 1.3 0 1 0 2.6 0a1.3 1.3 0 1 0 -2.6 0M635.53 239.1a1.3 1.3 0 1 0 2.6 0a1.3 1.3 0 1 0 -2.6 0M635.77 239.27a1.3 1.3 0 1 0 2.6 0a1.3 1.3 0 1 0 -2.6 0M636.02 239.42a1.3 1.3 0 1 0 2.6 0a1.3 1.3 0 1 0 -2.6 0M636.26 239.46a1.3 1.3 0 1 0 2.6 0a1.3 1.3 0 1 0 -2.6 0M636.5 239.17a1.3 1.3 0 1 0 2.6 0a1.3 1.3 0 1 0 -2.6 0M636.75 239.29a1.3 1.3 0 1 0 2.6 0a1.3 1.3 0 1 0 -2.6 0M636.99 239.45a1.3 1.3 0 1 0 2.6 0a1.3 1.3 0 1 0 -2.6 0M637.24 239.18a1.3 1.3 0 1 0 2.6 0a1.3 1.3 0 1 0 -2.6 0M637.48 239.53a1.3 1.3 0 1 0 2.6 0a1.3 1.3 0 1 0 -2.6 0M637.73 239.36a1.3 1.3 0 1 0 2.6 0a1.3 1.3 0 1 0 -2.6 0M637.97 239.1a1.3 1.3 0 1 0 2.6 0a1.3 1.3 0 1 0 -2.6 0M638.22 239.46a1.3 1.3 0 1 0 2.6 0a1.3 1.3 0 1 0 -2.6 0M638.46 239.26a1.3 1.3 0 1 0 2.6 0a1.3 1.3 0 1 0 -2.6 0M638.71 239.67a1.3 1.3 0 1 0 2.6 0a1.3 1.3 0 1 0 -2.6 0M638.95 239.29a1.3 1.3 0 1 0 2.6 0a1.3 1.3 0 1 0 -2.6 0M639.2 239.66a1.3 1.3 0 1 0 2.6 0a1.3 1.3 0 1 0 -2.6 0M639.44 239.83a1.3 1.3 0 1 0 2.6 0a1.3 1.3 0 1 0 -2.6 0M639.69 239.45a1.3 1.3 0 1 0 2.6 0a1.3 1.3 0 1 0 -2.6 0M639.93 239.44a1.3 1.3 0 1 0 2.6 0a1.3 1.3 0 1 0 -2.6 0M640.18 239.25a1.3 1.3 0 1 0 2.6 0a1.3 1.3 0 1 0 -2.6 0M640.42 239.35a1.3 1.3 0 1 0 2.6 0a1.3 1.3 0 1 0 -2.6 0M640.67 239.51a1.3 1.3 0 1 0 2.6 0a1.3 1.3 0 1 0 -2.6 0M640.91 239.77a1.3 1.3 0 1 0 2.6 0a1.3 1.3 0 1 0 -2.6 0M641.16 239.6a1.3 1.3 0 1 0 2.6 0a1.3 1.3 0 1 0 -2.6 0M641.4 239.15a1.3 1.3 0 1 0 2.6 0a1.3 1.3 0 1 0 -2.6 0M641.65 239.61a1.3 1.3 0 1 0 2.6 0a1.3 1.3 0 1 0 -2.6 0M641.89 239.18a1.3 1.3 0 1 0 2.6 0a1.3 1.3 0 1 0 -2.6 0M642.14 239.73a1.3 1.3 0 1 0 2.6 0a1.3 1.3 0 1 0 -2.6 0M642.38 239.6a1.3 1.3 0 1 0 2.6 0a1.3 1.3 0 1 0 -2.6 0M642.63 239.44a1.3 1.3 0 1 0 2.6 0a1.3 1.3 0 1 0 -2.6 0M642.87 239.06a1.3 1.3 0 1 0 2.6 0a1.3 1.3 0 1 0 -2.6 0M643.12 239.47a1.3 1.3 0 1 0 2.6 0a1.3 1.3 0 1 0 -2.6 0M643.36 239.18a1.3 1.3 0 1 0 2.6 0a1.3 1.3 0 1 0 -2.6 0" fill="#fff" stroke="#ff0000" stroke-width="0.8"/>
<circle cx="644.66" cy="239.32" r="1.3" fill="#fff" stroke="#ff0000" stroke-width="0.8"/>
<line x1="522.5" y1="329.38" x2="644.66" y2="329.38" stroke="#ff8000" stroke-width="1.5" />
<path d="M521.2 329.34a1.3 1.3 0 1 0 2.6 0a1.3 1.3 0 1 0 -2.6 0M530.39 328.79a1.3 1.3 0 1 0 2.6 0a1.3 1.3 0 1 0 -2.6 0M535.77 329.81a1.3 1.3 0 1 0 2.6 0a1.3 1.3 0 1 0 -2.6 0M539.59 329.28a1.3 1.3 0 1 0 2.6 0a1.3 1.3 0 1 0 -2.6 0M542.55 329.18a1.3 1.3 0 1 0 2.6 0a1.3 1.3 0 1 0 -2.6 0M544.96 328.98a1.3 1.3 0 1 0 2.6 0a1.3 1.3 0 1 0 -2.6 0M547.01 329.75a1.3 1.3 0 1 0 2.6 0a1.3 1.3 0 1 0 -2.6 0M548.78 328.94a1.3 1.3 0 1 0 2.6 0a1.3 1.3 0 1 0 -2.6 0M550.34 329.63a1.3 1.3 0 1 0 2.6 0a1.3 1.3 0 1 0 -2.6 0M551.74 329.15a1.3 1.3 0 1 0 2.6 0a1.3 1.3 0 1 0 -2.6 0M553 329.39a1.3 1.3 0 1 0 2.6 0a1.3 1.3 0 1 0 -2.6 0M554.16 329.29a1.3 1.3 0 1 0 2.6 0a1.3 1.3 0 1 0 -2.6 0M555.22 329.61a1.3 1.3 0 1 0 2.6 0a1.3 1.3 0 1 0 -2.6 0M556.2 329.68a1.3 1.3 0 1 0 2.6 0a1.3 1.3 0 1 0 -2.6 0M557.12 328.96a1.3 1.3 0 1 0 2.6 0a1.3 1.3 0 1 0 -2.6 0M557.97 329.8a1.3 1.3 0 1 0 2.6 0a1.3 1.3 0 1 0 -2.6 0M558.78 329.68a1.3 1.3 0 1 0 2.6 0a1.3 1.3 0 1 0 -2.6 0M559.54 329.8a1.3 1.3 0 1 0 2.6 0a1.3 1.3 0 1 0 -2.6 0M560.25 329.99a1.3 1.3 0 1 0 2.6 0a1.3 1.3 0 1 0 -2.6 0M560.93 328.78a1.3 1.3 0 1 0 2.6 0a1.3 1.3 0 1 0 -2.6 0M561.58 330.12a1.3 1.3 0 1 0 2.6 0a1.3 1.3 0 1 0 -2.6 0M562.2 328.74a1.3 1.3 0 1 0 2.6 0a1.3 1.3 0 1 0 -2.6 0M562.79 329.12a1.3 1.3 0 1 0 2.6 0a1.3 1.3 0 1 0 -2.6 0M563.35 329.51a1.3 1.3 0 1 0 2.6 0a1.3 1.3 0 1 0 -2.6 0M563.89 329.8a1.3 1.3 0 1 0 2.6 0a1.3 1.3 0 1 0 -2.6 0M564.41 329.63a1.3 1.3 0 1 0 2.6 0a1.3 1.3 0 1 0 -2.6 0M564.91 329.52a1.3 1.3 0 1 0 2.6 0a1.3 1.3 0 1 0 -2.6 0M565.4 329.6a1.3 1.3 0 1 0 2.6 0a1.3 1.3 0 1 0 -2.6 0M565.86 328.94a1.3 1.3 0 1 0 2.6 0a1.3 1.3 0 1 0 -2.6 0M566.31 329.38a1.3 1.3 0 1 0 2.6 0a1.3 1.3 0 1 0 -2.6 0M566.75 329.93a1.3 1.3 0 1 0 2.6 0a1.3 1.3 0 1 0 -2.6 0M567.17 328.83a1.3 1.3 0 1 0 2.6 0a1.3 1.3 0 1 0 -2.6 0M567.58 329.33a1.3 1.3 0 1 0 2.6 0a1.3 1.3 0 1 0 -2.6 0M567.97 329.36a1.3 1.3 0 1 0 2.6 0a1.3 1.3 0 1 0 -2.6 0M568.36 329.18a1.3 1.3 0 1 0 2.6 0a1.3 1.3 0 1 0 -2.6 0M568.73 329.35a1.3 1.3 0 1 0 2.6 0a1.3 1.3 0 1 0 -2.6 0M569.09 329.4a1.3 1.3 0 1 0 2.6 0a1.3 1.3 0 1 0 -2.6 0M569.45 329.32a1.3 1.3 0 1 0 2.6 0a1.3 1.3 0 1 0 -2.6 0M569.79 329.36a1.3 1.3 0 1 0 2.6 0a1.3 1.3 0 1 0 -2.6 0M570.13 329.14a1.3 1.3 0 1 0 2.6 0a1.3 1.3 0 1 0 -2.6 0M570.45 329.51a1.3 1.3 0 1 0 2.6 0a1.3 1.3 0 1 0 -2.6 0M570.77 329.24a1.3 1.3 0 1 0 2.6 0a1.3 1.3 0 1 0 -2.6 0M571.09 329.14a1.3 1.3 0 1 0 2.6 0a1.3 1.3 0 1 0 -2.6 0M571.39 329.84a1.3 1.3 0 1 0 2.6 0a1.3 1.3 0 1 0 -2.6 0M571.69 329.25a1.3 1.3 0 1 0 2.6 0a1.3 1.3 0 1 0 -2.6 0M571.98 329.27a1.3 1.3 0 1 0 2.6 0a1.3 1.3 0 1 0 -2.6 0M572.27 328.96a1.3 1.3 0 1 0 2.6 0a1.3 1.3 0 1 0 -2.6 0M572.55 329.47a1.3 1.3 0 1 0 2.6 0a1.3 1.3 0 1 0 -2.6 0M572.82 329.15a1.3 1.3 0 1 0 2.6 0a1.3 1.3 0 1 0 -2.6 0M573.09 329.23a1.3 1.3 0 1 0 2.6 0a1.3 1.3 0 1 0 -2.6 0M573.35 329.54a1.3 1.3 0 1 0 2.6 0a1.3 1.3 0 1 0 -2.6 0M573.61 329.5a1.3 1.3 0 1 0 2.6 0a1.3 1.3 0 1 0 -2.6 0M573.86 329.22a1.3 1.3 0 1 0 2.6 0a1.3 1.3 0 1 0 -2.6 0M574.11 329.5a1.3 1.3 0 1 0 2.6 0a1.3 1.3 0 1 0 -2.6 0M574.35 329.47a1.3 1.3 0 1 0 2.6 0a1.3 1.3 0 1 0 -2.6 0M574.59 329.35a1.3 1.3 0 1 0 2.6 0a1.3 1.3 0 1 0 -2.6 0M574.82 329.17a1.3 1.3 0 1 0 2.6 0a1.3 1.3 0 1 0 -2.6 0M575.06 329.49a1.3 1.3 0 1 0 2.6 0a1.3 1.3 0 1 0 -2.6 0M575.28 329.04a1.3 1.3 0 1 0 2.6 0a1.3 1.3 0 1 0 -2.6 0M575.5 329.47a1.3 1.3 0 1 0 2.6 0a1.3 1.3 0 1 0 -2.6 0M575.72 329.38a1.3 1.3 0 1 0 2.6 0a1.3 1.3 0 1 0 -2.6 0M575.94 329.11a1.3 1.3 0 1 0 2.6 0a1.3 1.3 0 1 0 -2.6 0M576.36 329.15a1.3 1.3 0 1 0 2.6 0a1.3 1.3 0 1 0 -2.6 0M576.57 329.93a1.3 1.3 0 1 0 2.6 0a1.3 1.3 0 1 0 -2.6 0M576.77 328.93a1.3 1.3 0 1 0 2.6 0a1.3 1.3 0 1 0 -2.6 0M576.97 329.4a1.3 1.3 0 1 0 2.6 0a1.3 1.3 0 1 0 -2.6 0M577.16 329.31a1.3 1.3 0 1 0 2.6 0a1.3 1.3 0 1 0 -2.6 0M577.55 329.49a1.3 1.3 0 1 0 2.6 0a1.3 1.3 0 1 0 -2.6 0M577.74 329.46a1.3 1.3 0 1 0 2.6 0a1.3 1.3 0 1 0 -2.6 0M577.92 329.59a1.3 1.3 0 1 0 2.6 0a1.3 1.3 0 1 0 -2.6 0M578.29 329.55a1.3 1.3 0 1 0 2.6 0a1.3 1.3 0 1 0 -2.6 0M578.46 329.38a1.3 1.3 0 1 0 2.6 0a1.3 1.3 0 1 0 -2.6 0M578.81 329.08a1.3 1.3 0 1 0 2.6 0a1.3 1.3 0 1 0 -2.6 0M578.98 329.32a1.3 1.3 0 1 0 2.6 0a1.3 1.3 0 1 0 -2.6 0M579.15 329.5a1.3 1.3 0 1 0 2.6 0a1.3 1.3 0 1 0 -2.6 0M579.49 329.5a1.3 1.3 0 1 0 2.6 0a1.3 1.3 0 1 0 -2.6 0M579.65 329.63a1.3 1.3 0 1 0 2.6 0a1.3 1.3 0 1 0 -2.6 0M579.97 329.34a1.3 1.3 0 1 0 2.6 0a1.3 1.3 0 1 0 -2.6 0M580.12 329.12a1.3 1.3 0 1 0 2.6 0a1.3 1.3 0 1 0 -2.6 0M580.43 329.26a1.3 1.3 0 1 0 2.6 0a1.3 1.3 0 1 0 -2.6 0M580.73 329.44a1.3 1.3 0 1 0 2.6 0a1.3 1.3 0 1 0 -2.6 0M580.88 329.59a1.3 1.3 0 1 0 2.6 0a1.3 1.3 0 1 0 -2.6 0M581.17 329.6a1.3 1.3 0 1 0 2.6 0a1.3 1.3 0 1 0 -2.6 0M581.46 329.55a1.3 1.3 0 1 0 2.6 0a1.3 1.3 0 1 0 -2.6 0M581.6 329.1a1.3 1.3 0 1 0 2.6 0a1.3 1.3 0 1 0 -2.6 0M581.88 329.29a1.3 1.3 0 1 0 2.6 0a1.3 1.3 0 1 0 -2.6 0M582.15 329.5a1.3 1.3 0 1 0 2.6 0a1.3 1.3 0 1 0 -2.6 0M582.41 329.45a1.3 1.3 0 1 0 2.6 0a1.3 1.3 0 1 0 -2.6 0M582.67 329.57a1.3 1.3 0 1 0 2.6 0a1.3 1.3 0 1 0 -2.6 0M582.93 329.11a1.3 1.3 0 1 0 2.6 0a1.3 1.3 0 1 0 -2.6 0M583.18 329.52a1.3 1.3 0 1 0 2.6 0a1.3 1.3 0 1 0 -2.6 0M583.42 328.77a1.3 1.3 0 1 0 2.6 0a1.3 1.3 0 1 0 -2.6 0M583.66 329.27a1.3 1.3 0 1 0 2.6 0a1.3 1.3 0 1 0 -2.6 0M583.9 329.39a1.3 1.3 0 1 0 2.6 0a1.3 1.3 0 1 0 -2.6 0M584.13 329.3a1.3 1.3 0 1 0 2.6 0a1.3 1.3 0 1 0 -2.6 0M584.36 329.57a1.3 1.3 0 1 0 2.6 0a1.3 1.3 0 1 0 -2.6 0M584.59 329.33a1.3 1.3 0 1 0 2.6 0a1.3 1.3 0 1 0 -2.6 0M584.81 329.38a1.3 1.3 0 1 0 2.6 0a1.3 1.3 0 1 0 -2.6 0M585.13 329.53a1.3 1.3 0 1 0 2.6 0a1.3 1.3 0 1 0 -2.6 0M585.35 329.18a1.3 1.3 0 1 0 2.6 0a1.3 1.3 0 1 0 -2.6 0M585.55 329.71a1.3 1.3 0 1 0 2.6 0a1.3 1.3 0 1 0 -2.6 0M585.86 329.24a1.3 1.3 0 1 0 2.6 0a1.3 1.3 0 1 0 -2.6 0M586.06 329.51a1.3 1.3 0 1 0 2.6 0a1.3 1.3 0 1 0 -2.6 0M586.36 329.43a1.3 1.3 0 1 0 2.6 0a1.3 1.3 0 1 0 -2.6 0M586.55 329.29a1.3 1.3 0 1 0 2.6 0a1.3 1.3 0 1 0 -2.6 0M586.84 329.4a1.3 1.3 0 1 0 2.6 0a1.3 1.3 0 1 0 -2.6 0M587.02 329.45a1.3 1.3 0 1 0 2.6 0a1.3 1.3 0 1 0 -2.6 0M587.3 329.28a1.3 1.3 0 1 0 2.6 0a1.3 1.3 0 1 0 -2.6 0M587.57 329.86a1.3 1.3 0 1 0 2.6 0a1.3 1.3 0 1 0 -2.6 0M587.75 329.16a1.3 1.3 0 1 0 2.6 0a1.3 1.3 0 1 0 -2.6 0M588.01 329.38a1.3 1.3 0 1 0 2.6 0a1.3 1.3 0 1 0 -2.6 0M588.26 329.63a1.3 1.3 0 1 0 2.6 0a1.3 1.3 0 1 0 -2.6 0M588.51 329.49a1.3 1.3 0 1 0 2.6 0a1.3 1.3 0 1 0 -2.6 0M588.76 329.62a1.3 1.3 0 1 0 2.6 0a1.3 1.3 0 1 0 -2.6 0M589 329.04a1.3 1.3 0 1 0 2.6 0a1.3 1.3 0 1 0 -2.6 0M589.24 329.33a1.3 1.3 0 1 0 2.6 0a1.3 1.3 0 1 0 -2.6 0M589.47 329.39a1.3 1.3 0 1 0 2.6 0a1.3 1.3 0 1 0 -2.6 0M589.78 329.66a1.3 1.3 0 1 0 2.6 0a1.3 1.3 0 1 0 -2.6 0M590 329.2a1.3 1.3 0 1 0 2.6 0a1.3 1.3 0 1 0 -2.6 0M590.22 329.37a1.3 1.3 0 1 0 2.6 0a1.3 1.3 0 1 0 -2.6 0M590.51 329.79a1.3 1.3 0 1 0 2.6 0a1.3 1.3 0 1 0 -2.6 0M590.72 329.46a1.3 1.3 0 1 0 2.6 0a1.3 1.3 0 1 0 -2.6 0M591 329.47a1.3 1.3 0 1 0 2.6 0a1.3 1.3 0 1 0 -2.6 0M591.21 329.37a1.3 1.3 0 1 0 2.6 0a1.3 1.3 0 1 0 -2.6 0M591.47 329.64a1.3 1.3 0 1 0 2.6 0a1.3 1.3 0 1 0 -2.6 0M591.74 328.97a1.3 1.3 0 1 0 2.6 0a1.3 1.3 0 1 0 -2.6 0M591.93 329.2a1.3 1.3 0 1 0 2.6 0a1.3 1.3 0 1 0 -2.6 0M592.18 329.25a1.3 1.3 0 1 0 2.6 0a1.3 1.3 0 1 0 -2.6 0M592.43 329.41a1.3 1.3 0 1 0 2.6 0a1.3 1.3 0 1 0 -2.6 0M592.68 329.38a1.3 1.3 0 1 0 2.6 0a1.3 1.3 0 1 0 -2.6 0M592.92 328.91a1.3 1.3 0 1 0 2.6 0a1.3 1.3 0 1 0 -2.6 0M593.15 329.4a1.3 1.3 0 1 0 2.6 0a1.3 1.3 0 1 0 -2.6 0M593.44 329.19a1.3 1.3 0 1 0 2.6 0a1.3 1.3 0 1 0 -2.6 0M593.67 330a1.3 1.3 0 1 0 2.6 0a1.3 1.3 0 1 0 -2.6 0M593.89 329.32a1.3 1.3 0 1 0 2.6 0a1.3 1.3 0 1 0 -2.6 0M594.17 329.61a1.3 1.3 0 1 0 2.6 0a1.3 1.3 0 1 0 -2.6 0M594.38 329.26a1.3 1.3 0 1 0 2.6 0a1.3 1.3 0 1 0 -2.6 0M594.64 329.33a1.3 1.3 0 1 0 2.6 0a1.3 1.3 0 1 0 -2.6 0M594.9 329.19a1.3 1.3 0 1 0 2.6 0a1.3 1.3 0 1 0 -2.6 0M595.16 329.57a1.3 1.3 0 1 0 2.6 0a1.3 1.3 0 1 0 -2.6 0M595.36 329.67a1.3 1.3 0 1 0 2.6 0a1.3 1.3 0 1 0 -2.6 0M595.6 329.1a1.3 1.3 0 1 0 2.6 0a1.3 1.3 0 1 0 -2.6 0M595.89 329.49a1.3 1.3 0 1 0 2.6 0a1.3 1.3 0 1 0 -2.6 0M596.12 329.55a1.3 1.3 0 1 0 2.6 0a1.3 1.3 0 1 0 -2.6 0M596.36 329.68a1.3 1.3 0 1 0 2.6 0a1.3 1.3 0 1 0 -2.6 0M596.58 329.27a1.3 1.3 0 1 0 2.6 0a1.3 1.3 0 1 0 -2.6 0M596.85 329.73a1.3 1.3 0 1 0 2.6 0a1.3 1.3 0 1 0 -2.6 0M597.07 329.14a1.3 1.3 0 1 0 2.6 0a1.3 1.3 0 1 0 -2.6 0M597.33 329.46a1.3 1.3 0 1 0 2.6 0a1.3 1.3 0 1 0 -2.6 0M597.58 329.31a1.3 1.3 0 1 0 2.6 0a1.3 1.3 0 1 0 -2.6 0M597.83 329.35a1.3 1.3 0 1 0 2.6 0a1.3 1.3 0 1 0 -2.6 0M598.08 329.66a1.3 1.3 0 1 0 2.6 0a1.3 1.3 0 1 0 -2.6 0M598.31 329.53a1.3 1.3 0 1 0 2.6 0a1.3 1.3 0 1 0 -2.6 0M598.55 330.06a1.3 1.3 0 1 0 2.6 0a1.3 1.3 0 1 0 -2.6 0M598.82 329.4a1.3 1.3 0 1 0 2.6 0a1.3 1.3 0 1 0 -2.6 0M599.05 329.25a1.3 1.3 0 1 0 2.6 0a1.3 1.3 0 1 0 -2.6 0M599.31 329.68a1.3 1.3 0 1 0 2.6 0a1.3 1.3 0 1 0 -2.6 0M599.52 329.47a1.3 1.3 0 1 0 2.6 0a1.3 1.3 0 1 0 -2.6 0M599.78 329.32a1.3 1.3 0 1 0 2.6 0a1.3 1.3 0 1 0 -2.6 0M600.02 329.71a1.3 1.3 0 1 0 2.6 0a1.3 1.3 0 1 0 -2.6 0M600.26 329.74a1.3 1.3 0 1 0 2.6 0a1.3 1.3 0 1 0 -2.6 0M600.53 329.09a1.3 1.3 0 1 0 2.6 0a1.3 1.3 0 1 0 -2.6 0M600.77 329.33a1.3 1.3 0 1 0 2.6 0a1.3 1.3 0 1 0 -2.6 0M600.99 329.68a1.3 1.3 0 1 0 2.6 0a1.3 1.3 0 1 0 -2.6 0M601.25 329.25a1.3 1.3 0 1 0 2.6 0a1.3 1.3 0 1 0 -2.6 0M601.5 329.79a1.3 1.3 0 1 0 2.6 0a1.3 1.3 0 1 0 -2.6 0M601.75 329.39a1.3 1.3 0 1 0 2.6 0a1.3 1.3 0 1 0 -2.6 0M601.99 329.51a1.3 1.3 0 1 0 2.6 0a1.3 1.3 0 1 0 -2.6 0M602.23 329.46a1.3 1.3 0 1 0 2.6 0a1.3 1.3 0 1 0 -2.6 0M602.46 329.18a1.3 1.3 0 1 0 2.6 0a1.3 1.3 0 1 0 -2.6 0M602.72 329.38a1.3 1.3 0 1 0 2.6 0a1.3 1.3 0 1 0 -2.6 0M602.97 329.26a1.3 1.3 0 1 0 2.6 0a1.3 1.3 0 1 0 -2.6 0M603.22 329.32a1.3 1.3 0 1 0 2.6 0a1.3 1.3 0 1 0 -2.6 0M603.47 329.66a1.3 1.3 0 1 0 2.6 0a1.3 1.3 0 1 0 -2.6 0M603.71 329.56a1.3 1.3 0 1 0 2.6 0a1.3 1.3 0 1 0 -2.6 0M603.94 329.37a1.3 1.3 0 1 0 2.6 0a1.3 1.3 0 1 0 -2.6 0M604.2 329.48a1.3 1.3 0 1 0 2.6 0a1.3 1.3 0 1 0 -2.6 0M604.42 329.75a1.3 1.3 0 1 0 2.6 0a1.3 1.3 0 1 0 -2.6 0M604.67 329.41a1.3 1.3 0 1 0 2.6 0a1.3 1.3 0 1 0 -2.6 0M604.91 329.33a1.3 1.3 0 1 0 2.6 0a1.3 1.3 0 1 0 -2.6 0M605.18 329.58a1.3 1.3 0 1 0 2.6 0a1.3 1.3 0 1 0 -2.6 0M605.41 329.29a1.3 1.3 0 1 0 2.6 0a1.3 1.3 0 1 0 -2.6 0M605.66 329.14a1.3 1.3 0 1 0 2.6 0a1.3 1.3 0 1 0 -2.6 0M605.91 329.83a1.3 1.3 0 1 0 2.6 0a1.3 1.3 0 1 0 -2.6 0M606.15 329.17a1.3 1.3 0 1 0 2.6 0a1.3 1.3 0 1 0 -2.6 0M606.39 329.45a1.3 1.3 0 1 0 2.6 0a1.3 1.3 0 1 0 -2.6 0M606.63 329.51a1.3 1.3 0 1 0 2.6 0a1.3 1.3 0 1 0 -2.6 0M606.88 329.34a1.3 1.3 0 1 0 2.6 0a1.3 1.3 0 1 0 -2.6 0M607.13 329.83a1.3 1.3 0 1 0 2.6 0a1.3 1.3 0 1 0 -2.6 0M607.37 329.84a1.3 1.3 0 1 0 2.6 0a1.3 1.3 0 1 0 -2.6 0M607.63 329.51a1.3 1.3 0 1 0 2.6 0a1.3 1.3 0 1 0 -2.6 0M607.86 329.07a1.3 1.3 0 1 0 2.6 0a1.3 1.3 0 1 0 -2.6 0M608.11 329.5a1.3 1.3 0 1 0 2.6 0a1.3 1.3 0 1 0 -2.6 0M608.35 329.03a1.3 1.3 0 1 0 2.6 0a1.3 1.3 0 1 0 -2.6 0M608.59 329.54a1.3 1.3 0 1 0 2.6 0a1.3 1.3 0 1 0 -2.6 0M608.84 329.6a1.3 1.3 0 1 0 2.6 0a1.3 1.3 0 1 0 -2.6 0M609.09 329.49a1.3 1.3 0 1 0 2.6 0a1.3 1.3 0 1 0 -2.6 0M609.34 329.7a1.3 1.3 0 1 0 2.6 0a1.3 1.3 0 1 0 -2.6 0M609.58 329.46a1.3 1.3 0 1 0 2.6 0a1.3 1.3 0 1 0 -2.6 0M609.83 329.21a1.3 1.3 0 1 0 2.6 0a1.3 1.3 0 1 0 -2.6 0M610.06 329.31a1.3 1.3 0 1 0 2.6 0a1.3 1.3 0 1 0 -2.6 0M610.32 329.65a1.3 1.3 0 1 0 2.6 0a1.3 1.3 0 1 0 -2.6 0M610.55 328.91a1.3 1.3 0 1 0 2.6 0a1.3 1.3 0 1 0 -2.6 0M610.8 329.45a1.3 1.3 0 1 0 2.6 0a1.3 1.3 0 1 0 -2.6 0M611.05 329.11a1.3 1.3 0 1 0 2.6 0a1.3 1.3 0 1 0 -2.6 0M611.29 329.9a1.3 1.3 0 1 0 2.6 0a1.3 1.3 0 1 0 -2.6 0M611.54 329.04a1.3 1.3 0 1 0 2.6 0a1.3 1.3 0 1 0 -2.6 0M611.79 328.86a1.3 1.3 0 1 0 2.6 0a1.3 1.3 0 1 0 -2.6 0M612.03 329.58a1.3 1.3 0 1 0 2.6 0a1.3 1.3 0 1 0 -2.6 0M612.26 329.57a1.3 1.3 0 1 0 2.6 0a1.3 1.3 0 1 0 -2.6 0M612.51 329.2a1.3 1.3 0 1 0 2.6 0a1.3 1.3 0 1 0 -2.6 0M612.75 329.32a1.3 1.3 0 1 0 2.6 0a1.3 1.3 0 1 0 -2.6 0M613 329.05a1.3 1.3 0 1 0 2.6 0a1.3 1.3 0 1 0 -2.6 0M613.25 329.31a1.3 1.3 0 1 0 2.6 0a1.3 1.3 0 1 0 -2.6 0M613.49 329.54a1.3 1.3 0 1 0 2.6 0a1.3 1.3 0 1 0 -2.6 0M613.74 329.41a1.3 1.3 0 1 0 2.6 0a1.3 1.3 0 1 0 -2.6 0M613.99 329.33a1.3 1.3 0 1 0 2.6 0a1.3 1.3 0 1 0 -2.6 0M614.23 329.21a1.3 1.3 0 1 0 2.6 0a1.3 1.3 0 1 0 -2.6 0M614.48 329.61a1.3 1.3 0 1 0 2.6 0a1.3 1.3 0 1 0 -2.6 0M614.72 329.77a1.3 1.3 0 1 0 2.6 0a1.3 1.3 0 1 0 -2.6 0M614.96 329.7a1.3 1.3 0 1 0 2.6 0a1.3 1.3 0 1 0 -2.6 0M615.2 329.08a1.3 1.3 0 1 0 2.6 0a1.3 1.3 0 1 0 -2.6 0M615.45 329.42a1.3 1.3 0 1 0 2.6 0a1.3 1.3 0 1 0 -2.6 0M615.69 329.2a1.3 1.3 0 1 0 2.6 0a1.3 1.3 0 1 0 -2.6 0M615.94 329.31a1.3 1.3 0 1 0 2.6 0a1.3 1.3 0 1 0 -2.6 0M616.19 329.48a1.3 1.3 0 1 0 2.6 0a1.3 1.3 0 1 0 -2.6 0M616.43 330.01a1.3 1.3 0 1 0 2.6 0a1.3 1.3 0 1 0 -2.6 0M616.67 329.47a1.3 1.3 0 1 0 2.6 0a1.3 1.3 0 1 0 -2.6 0M616.92 329.4a1.3 1.3 0 1 0 2.6 0a1.3 1.3 0 1 0 -2.6 0M617.17 329.28a1.3 1.3 0 1 0 2.6 0a1.3 1.3 0 1 0 -2.6 0M617.41 329.53a1.3 1.3 0 1 0 2.6 0a1.3 1.3 0 1 0 -2.6 0M617.66 329.03a1.3 1.3 0 1 0 2.6 0a1.3 1.3 0 1 0 -2.6 0M617.9 329.56a1.3 1.3 0 1 0 2.6 0a1.3 1.3 0 1 0 -2.6 0M618.14 329.6a1.3 1.3 0 1 0 2.6 0a1.3 1.3 0 1 0 -2.6 0M618.39 329.19a1.3 1.3 0 1 0 2.6 0a1.3 1.3 0 1 0 -2.6 0M618.63 329.77a1.3 1.3 0 1 0 2.6 0a1.3 1.3 0 1 0 -2.6 0M618.88 329.92a1.3 1.3 0 1 0 2.6 0a1.3 1.3 0 1 0 -2.6 0M619.12 329.23a1.3 1.3 0 1 0 2.6 0a1.3 1.3 0 1 0 -2.6 0M619.37 329.58a1.3 1.3 0 1 0 2.6 0a1.3 1.3 0 1 0 -2.6 0M619.61 329.29a1.3 1.3 0 1 0 2.6 0a1.3 1.3 0 1 0 -2.6 0M619.86 329.24a1.3 1.3 0 1 0 2.6 0a1.3 1.3 0 1 0 -2.6 0M620.11 329.59a1.3 1.3 0 1 0 2.6 0a1.3 1.3 0 1 0 -2.6 0M620.35 329.48a1.3 1.3 0 1 0 2.6 0a1.3 1.3 0 1 0 -2.6 0M620.59 329.11a1.3 1.3 0 1 0 2.6 0a1.3 1.3 0 1 0 -2.6 0M620.84 329.06a1.3 1.3 0 1 0 2.6 0a1.3 1.3 0 1 0 -2.6 0M621.08 329.45a1.3 1.3 0 1 0 2.6 0a1.3 1.3 0 1 0 -2.6 0M621.33 329.07a1.3 1.3 0 1 0 2.6 0a1.3 1.3 0 1 0 -2.6 0M621.58 329.11a1.3 1.3 0 1 0 2.6 0a1.3 1.3 0 1 0 -2.6 0M621.82 329.34a1.3 1.3 0 1 0 2.6 0a1.3 1.3 0 1 0 -2.6 0M622.06 329.29a1.3 1.3 0 1 0 2.6 0a1.3 1.3 0 1 0 -2.6 0M622.31 329.49a1.3 1.3 0 1 0 2.6 0a1.3 1.3 0 1 0 -2.6 0M622.55 329.86a1.3 1.3 0 1 0 2.6 0a1.3 1.3 0 1 0 -2.6 0M622.8 329.11a1.3 1.3 0 1 0 2.6 0a1.3 1.3 0 1 0 -2.6 0M623.04 329.74a1.3 1.3 0 1 0 2.6 0a1.3 1.3 0 1 0 -2.6 0M623.28 329.09a1.3 1.3 0 1 0 2.6 0a1.3 1.3 0 1 0 -2.6 0M623.53 329.41a1.3 1.3 0 1 0 2.6 0a1.3 1.3 0 1 0 -2.6 0M623.77 329.64a1.3 1.3 0 1 0 2.6 0a1.3 1.3 0 1 0 -2.6 0M624.02 329.95a1.3 1.3 0 1 0 2.6 0a1.3 1.3 0 1 0 -2.6 0M624.26 329.02a1.3 1.3 0 1 0 2.6 0a1.3 1.3 0 1 0 -2.6 0M624.51 329.79a1.3 1.3 0 1 0 2.6 0a1.3 1.3 0 1 0 -2.6 0M624.75 329.38a1.3 1.3 0 1 0 2.6 0a1.3 1.3 0 1 0 -2.6 0M625 329.44a1.3 1.3 0 1 0 2.6 0a1.3 1.3 0 1 0 -2.6 0M625.25 329.53a1.3 1.3 0 1 0 2.6 0a1.3 1.3 0 1 0 -2.6 0M625.49 329.84a1.3 1.3 0 1 0 2.6 0a1.3 1.3 0 1 0 -2.6 0M625.74 329.96a1.3 1.3 0 1 0 2.6 0a1.3 1.3 0 1 0 -2.6 0M625.98 329.5a1.3 1.3 0 1 0 2.6 0a1.3 1.3 0 1 0 -2.6 0M626.22 329.27a1.3 1.3 0 1 0 2.6 0a1.3 1.3 0 1 0 -2.6 0M626.47 329.22a1.3 1.3 0 1 0 2.6 0a1.3 1.3 0 1 0 -2.6 0M626.71 328.9a1.3 1.3 0 1 0 2.6 0a1.3 1.3 0 1 0 -2.6 0M626.96 329.04a1.3 1.3 0 1 0 2.6 0a1.3 1.3 0 1 0 -2.6 0M627.2 329.64a1.3 1.3 0 1 0 2.6 0a1.3 1.3 0 1 0 -2.6 0M627.45 329a1.3 1.3 0 1 0 2.6 0a1.3 1.3 0 1 0 -2.6 0M627.69 329.11a1.3 1.3 0 1 0 2.6 0a1.3 1.3 0 1 0 -2.6 0M627.94 329.26a1.3 1.3 0 1 0 2.6 0a1.3 1.3 0 1 0 -2.6 0M628.18 329.23a1.3 1.3 0 1 0 2.6 0a1.3 1.3 0 1 0 -2.6 0M628.43 329.19a1.3 1.3 0 1 0 2.6 0a1.3 1.3 0 1 0 -2.6 0M628.67 329.16a1.3 1.3 0 1 0 2.6 0a1.3 1.3 0 1 0 -2.6 0M628.92 329.25a1.3 1.3 0 1 0 2.6 0a1.3 1.3 0 1 0 -2.6 0M629.16 329.72a1.3 1.3 0 1 0 2.6 0a1.3 1.3 0 1 0 -2.6 0M629.41 329.55a1.3 1.3 0 1 0 2.6 0a1.3 1.3 0 1 0 -2.6 0M629.65 329.42a1.3 1.3 0 1 0 2.6 0a1.3 1.3 0 1 0 -2.6 0M629.89 329.23a1.3 1.3 0 1 0 2.6 0a1.3 1.3 0 1 0 -2.6 0M630.14 329.42a1.3 1.3 0 1 0 2.6 0a1.3 1.3 0 1 0 -2.6 0M630.39 329.46a1.3 1.3 0 1 0 2.6 0a1.3 1.3 0 1 0 -2.6 0M630.63 329.2a1.3 1.3 0 1 0 2.6 0a1.3 1.3 0 1 0 -2.6 0M630.87 329.13a1.3 1.3 0 1 0 2.6 0a1.3 1.3 0 1 0 -2.6 0M631.12 329.45a1.3 1.3 0 1 0 2.6 0a1.3 1.3 0 1 0 -2.6 0M631.37 329.22a1.3 1.3 0 1 0 2.6 0a1.3 1.3 0 1 0 -2.6 0M631.61 329.21a1.3 1.3 0 1 0 2.6 0a1.3 1.3 0 1 0 -2.6 0M631.85 329.38a1.3 1.3 0 1 0 2.6 0a1.3 1.3 0 1 0 -2.6 0M632.1 329.37a1.3 1.3 0 1 0 2.6 0a1.3 1.3 0 1 0 -2.6 0M632.34 329.16a1.3 1.3 0 1 0 2.6 0a1.3 1.3 0 1 0 -2.6 0M632.59 329.75a1.3 1.3 0 1 0 2.6 0a1.3 1.3 0 1 0 -2.6 0M632.83 329.46a1.3 1.3 0 1 0 2.6 0a1.3 1.3 0 1 0 -2.6 0M633.08 329.34a1.3 1.3 0 1 0 2.6 0a1.3 1.3 0 1 0 -2.6 0M633.32 329.55a1.3 1.3 0 1 0 2.6 0a1.3 1.3 0 1 0 -2.6 0M633.57 329.7a1.3 1.3 0 1 0 2.6 0a1.3 1.3 0 1 0 -2.6 0M633.81 329.39a1.3 1.3 0 1 0 2.6 0a1.3 1.3 0 1 0 -2.6 0M634.06 328.8a1.3 1.3 0 1 0 2.6 0a1.3 1.3 0 1 0 -2.6 0M634.3 329.1a1.3 1.3 0 1 0 2.6 0a1.3 1.3 0 1 0 -2.6 0M634.55 329.37a1.3 1.3 0 1 0 2.6 0a1.3 1.3 0 1 0 -2.6 0M634.79 329.41a1.3 1.3 0 1 0 2.6 0a1.3 1.3 0 1 0 -2.6 0M635.04 329.71a1.3 1.3 0 1 0 2.6 0a1.3 1.3 0 1 0 -2.6 0M635.28 329.5a1.3 1.3 0 1 0 2.6 0a1.3 1.3 0 1 0 -2.6 0M635.53 329.32a1.3 1.3 0 1 0 2.6 0a1.3 1.3 0 1 0 -2.6 0M635.77 329.57a1.3 1.3 0 1 0 2.6 0a1.3 1.3 0 1 0 -2.6 0M636.02 329.24a1.3 1.3 0 1 0 2.6 0a1.3 1.3 0 1 0 -2.6 0M636.26 329.61a1.3 1.3 0 1 0 2.6 0a1.3 1.3 0 1 0 -2.6 0M636.5 329.03a1.3 1.3 0 1 0 2.6 0a1.3 1.3 0 1 0 -2.6 0M636.75 329.74a1.3 1.3 0 1 0 2.6 0a1.3 1.3 0 1 0 -2.6 0M636.99 329.35a1.3 1.3 0 1 0 2.6 0a1.3 1.3 0 1 0 -2.6 0M637.24 329.58a1.3 1.3 0 1 0 2.6 0a1.3 1.3 0 1 0 -2.6 0M637.48 329.33a1.3 1.3 0 1 0 2.6 0a1.3 1.3 0 1 0 -2.6 0M637.73 329.07a1.3 1.3 0 1 0 2.6 0a1.3 1.3 0 1 0 -2.6 0M637.97 329.34a1.3 1.3 0 1 0 2.6 0a1.3 1.3 0 1 0 -2.6 0M638.22 329.4a1.3 1.3 0 1 0 2.6 0a1.3 1.3 0 1 0 -2.6 0M638.46 329.44a1.3 1.3 0 1 0 2.6 0a1.3 1.3 0 1 0 -2.6 0M638.71 329.41a1.3 1.3 0 1 0 2.6 0a1.3 1.3 0 1 0 -2.6 0M638.95 329.48a1.3 1.3 0 1 0 2.6 0a1.3 1.3 0 1 0 -2.6 0M639.2 329.26a1.3 1.3 0 1 0 2.6 0a1.3 1.3 0 1 0 -2.6 0M639.44 329a1.3 1.3 0 1 0 2.6 0a1.3 1.3 0 1 0 -2.6 0M639.69 329.28a1.3 1.3 0 1 0 2.6 0a1.3 1.3 0 1 0 -2.6 0M639.93 329.07a1.3 1.3 0 1 0 2.6 0a1.3 1.3 0 1 0 -2.6 0M640.18 329.34a1.3 1.3 0 1 0 2.6 0a1.3 1.3 0 1 0 -2.6 0M640.42 329.32a1.3 1.3 0 1 0 2.6 0a1.3 1.3 0 1 0 -2.6 0M640.67 329.4a1.3 1.3 0 1 0 2.6 0a1.3 1.3 0 1 0 -2.6 0M640.91 329.26a1.3 1.3 0 1 0 2.6 0a1.3 1.3 0 1 0 -2.6 0M641.16 329.53a1.3 1.3 0 1 0 2.6 0a1.3 1.3 0 1 0 -2.6 0M641.4 329.52a1.3 1.3 0 1 0 2.6 0a1.3 1.3 0 1 0 -2.6 0M641.65 329.54a1.3 1.3 0 1 0 2.6 0a1.3 1.3 0 1 0 -2.6 0M641.89 329.47a1.3 1.3 0 1 0 2.6 0a1.3 1.3 0 1 0 -2.6 0M642.14 329.56a1.3 1.3 0 1 0 2.6 0a1.3 1.3 0 1 0 -2.6 0M642.38 329.6a1.3 1.3 0 1 0 2.6 0a1.3 1.3 0 1 0 -2.6 0M642.63 329.41a1.3 1.3 0 1 0 2.6 0a1.3 1.3 0 1 0 -2.6 0M642.87 328.89a1.3 1.3 0 1 0 2.6 0a1.3 1.3 0 1 0 -2.6 0M643.12 329.25a1.3 1.3 0 1 0 2.6 0a1.3 1.3 0 1 0 -2.6 0M643.36 329.75a1.3 1.3 0 1 0 2.6 0a1.3 1.3 0 1 0 -2.6 0" fill="#fff" stroke="#ff8000" stroke-width="0.8"/>
<circle cx="644.66" cy="329.38" r="1.3" fill="#fff" stroke="#ff8000" stroke-width="0.8"/>
<line x1="622.1" y1="279.5" x2="637.8" y2="279.5" stroke="#ff0000" stroke-width="1.6" />
<circle cx="629.9" cy="279.5" r="1.4" fill="#fff" stroke="#ff0000" stroke-width="0.8"/>
<text x="639.6" y="282.5" font-size="10" text-anchor="start" fill="#111" font-weight="normal" font-style="normal" >PGM</text>
<line x1="622.1" y1="292.1" x2="637.8" y2="292.1" stroke="#ff8000" stroke-width="1.6" />
<circle cx="629.9" cy="292.1" r="1.4" fill="#fff" stroke="#ff8000" stroke-width="0.8"/>
<text x="639.6" y="295.1" font-size="10" text-anchor="start" fill="#111" font-weight="normal" font-style="normal" >ERS</text>
</svg>
</body></html>
